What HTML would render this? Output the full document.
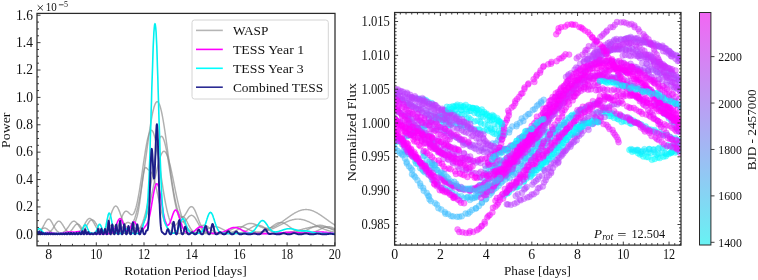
<!DOCTYPE html>
<html><head><meta charset="utf-8"><style>
html,body{margin:0;padding:0;background:#fff;}
svg{display:block;font-family:"Liberation Serif",serif;}
svg text{opacity:0.999;}
</style></head><body>
<svg width="758" height="280" viewBox="0 0 758 280">
<rect width="100%" height="100%" fill="#fff"/>
<defs>
<clipPath id="cl"><rect x="37.0" y="13.4" width="298.0" height="232.4"/></clipPath>
<clipPath id="cr"><rect x="394.6" y="12.5" width="286.4" height="232.6"/></clipPath>
<linearGradient id="cg" x1="0" y1="1" x2="0" y2="0">
<stop offset="0" stop-color="rgb(104,242,243)"/><stop offset="1" stop-color="rgb(242,102,243)"/>
</linearGradient>
</defs>
<g clip-path="url(#cl)" stroke-linejoin="round"><path d="M36.0 233.2L36.5 233.1L37.0 233.0L37.5 232.8L38.0 232.6L38.5 232.3L39.0 232.0L39.5 231.6L40.0 231.2L40.5 230.6L41.0 230.0L41.5 229.3L42.0 228.6L42.5 227.7L43.0 226.9L43.5 225.9L44.0 225.0L44.5 224.0L45.0 223.0L45.5 222.1L46.0 221.3L46.5 220.6L47.0 220.0L47.5 219.5L48.0 219.2L48.5 219.1L49.0 219.2L49.5 219.4L50.0 219.8L50.5 220.3L51.0 221.0L51.5 221.8L52.0 222.7L52.5 223.6L53.0 224.6L53.5 225.5L54.0 226.5L54.5 227.4L55.0 228.3L55.5 229.0L56.0 229.8L56.5 230.4L57.0 231.0L57.5 231.4L58.0 231.9L58.5 232.2L59.0 232.5L59.5 232.7L60.0 232.9L60.5 233.0L61.0 233.2L61.5 233.2L62.0 233.3L62.5 233.4L63.0 233.4L63.5 233.4L64.0 233.4L64.5 233.5L65.0 233.5L65.5 233.5L66.0 233.5L66.5 233.5L67.0 233.5L67.5 233.5L68.0 233.5L68.5 233.5L69.0 233.5L69.5 233.5L70.0 233.5L70.5 233.5L71.0 233.5L71.5 233.5L72.0 233.4L72.5 233.4L73.0 233.4L73.5 233.4L74.0 233.4L74.5 233.3L75.0 233.3L75.5 233.2L76.0 233.1L76.5 233.0L77.0 232.8L77.5 232.7L78.0 232.5L78.5 232.2L79.0 231.9L79.5 231.5L80.0 231.1L80.5 230.6L81.0 230.0L81.5 229.4L82.0 228.7L82.5 228.0L83.0 227.2L83.5 226.3L84.0 225.4L84.5 224.5L85.0 223.6L85.5 222.7L86.0 221.9L86.5 221.1L87.0 220.3L87.5 219.7L88.0 219.2L88.5 218.8L89.0 218.5L89.5 218.4L90.0 218.5L90.5 218.7L91.0 219.0L91.5 219.5L92.0 220.1L92.5 220.7L93.0 221.5L93.5 222.4L94.0 223.2L94.5 224.1L95.0 225.1L95.5 225.9L96.0 226.8L96.5 227.6L97.0 228.4L97.5 229.0L98.0 229.7L98.5 230.2L99.0 230.6L99.5 231.0L100.0 231.3L100.5 231.5L101.0 231.6L101.5 231.6L102.0 231.6L102.5 231.4L103.0 231.2L103.5 230.8L104.0 230.4L104.5 229.9L105.0 229.2L105.5 228.5L106.0 227.6L106.5 226.7L107.0 225.6L107.5 224.4L108.0 223.2L108.5 221.8L109.0 220.4L109.5 219.0L110.0 217.5L110.5 216.0L111.0 214.5L111.5 213.0L112.0 211.6L112.5 210.3L113.0 209.2L113.5 208.2L114.0 207.3L114.5 206.7L115.0 206.3L115.5 206.0L116.0 206.0L116.5 206.3L117.0 206.7L117.5 207.4L118.0 208.2L118.5 209.2L119.0 210.4L119.5 211.6L120.0 213.0L120.5 214.4L121.0 215.8L121.5 217.2L122.0 218.6L122.5 220.0L123.0 221.3L123.5 222.4L124.0 223.5L124.5 224.5L125.0 225.4L125.5 226.1L126.0 226.7L126.5 227.2L127.0 227.5L127.5 227.7L128.0 227.8L128.5 227.8L129.0 227.6L129.5 227.4L130.0 227.0L130.5 226.5L131.0 226.0L131.5 225.3L132.0 224.5L132.5 223.6L133.0 222.6L133.5 221.5L134.0 220.2L134.5 218.9L135.0 217.5L135.5 215.9L136.0 214.2L136.5 212.5L137.0 210.5L137.5 208.5L138.0 206.3L138.5 204.0L139.0 201.6L139.5 199.1L140.0 196.4L140.5 193.6L141.0 190.7L141.5 187.6L142.0 184.5L142.5 181.3L143.0 177.9L143.5 174.5L144.0 171.0L144.5 167.4L145.0 163.8L145.5 160.2L146.0 156.5L146.5 152.8L147.0 149.1L147.5 145.4L148.0 141.8L148.5 138.2L149.0 134.7L149.5 131.2L150.0 127.9L150.5 124.7L151.0 121.7L151.5 118.8L152.0 116.1L152.5 113.6L153.0 111.2L153.5 109.2L154.0 107.3L154.5 105.7L155.0 104.4L155.5 103.3L156.0 102.5L156.5 101.9L157.0 101.7L157.5 101.7L158.0 102.0L158.5 102.6L159.0 103.5L159.5 104.6L160.0 106.0L160.5 107.7L161.0 109.6L161.5 111.7L162.0 114.0L162.5 116.6L163.0 119.3L163.5 122.3L164.0 125.3L164.5 128.6L165.0 131.9L165.5 135.4L166.0 138.9L166.5 142.5L167.0 146.1L167.5 149.8L168.0 153.5L168.5 157.2L169.0 160.9L169.5 164.5L170.0 168.1L170.5 171.7L171.0 175.1L171.5 178.5L172.0 181.8L172.5 185.0L173.0 188.1L173.5 191.0L174.0 193.8L174.5 196.5L175.0 199.1L175.5 201.5L176.0 203.7L176.5 205.8L177.0 207.7L177.5 209.4L178.0 211.0L178.5 212.4L179.0 213.6L179.5 214.7L180.0 215.5L180.5 216.2L181.0 216.7L181.5 217.0L182.0 217.2L182.5 217.2L183.0 217.0L183.5 216.7L184.0 216.2L184.5 215.7L185.0 215.0L185.5 214.2L186.0 213.4L186.5 212.5L187.0 211.7L187.5 210.8L188.0 209.9L188.5 209.1L189.0 208.4L189.5 207.8L190.0 207.3L190.5 206.9L191.0 206.7L191.5 206.6L192.0 206.7L192.5 207.0L193.0 207.4L193.5 208.0L194.0 208.8L194.5 209.6L195.0 210.6L195.5 211.7L196.0 212.9L196.5 214.2L197.0 215.5L197.5 216.8L198.0 218.1L198.5 219.4L199.0 220.7L199.5 222.0L200.0 223.2L200.5 224.3L201.0 225.4L201.5 226.4L202.0 227.3L202.5 228.2L203.0 228.9L203.5 229.6L204.0 230.2L204.5 230.7L205.0 231.2L205.5 231.6L206.0 231.9L206.5 232.2L207.0 232.4L207.5 232.6L208.0 232.8L208.5 232.9L209.0 233.0L209.5 233.1L210.0 233.2L210.5 233.3L211.0 233.3L211.5 233.4L212.0 233.4L212.5 233.4L213.0 233.4L213.5 233.4L214.0 233.4L214.5 233.5L215.0 233.5L215.5 233.5L216.0 233.5L216.5 233.5L217.0 233.5L217.5 233.5L218.0 233.5L218.5 233.5L219.0 233.5L219.5 233.4L220.0 233.4L220.5 233.4L221.0 233.4L221.5 233.4L222.0 233.4L222.5 233.4L223.0 233.4L223.5 233.3L224.0 233.3L224.5 233.3L225.0 233.3L225.5 233.2L226.0 233.2L226.5 233.2L227.0 233.1L227.5 233.0L228.0 233.0L228.5 232.9L229.0 232.8L229.5 232.7L230.0 232.6L230.5 232.5L231.0 232.4L231.5 232.3L232.0 232.2L232.5 232.0L233.0 231.8L233.5 231.7L234.0 231.5L234.5 231.3L235.0 231.0L235.5 230.8L236.0 230.6L236.5 230.3L237.0 230.0L237.5 229.8L238.0 229.5L238.5 229.2L239.0 228.9L239.5 228.5L240.0 228.2L240.5 227.9L241.0 227.5L241.5 227.2L242.0 226.9L242.5 226.6L243.0 226.2L243.5 225.9L244.0 225.6L244.5 225.3L245.0 225.0L245.5 224.8L246.0 224.5L246.5 224.3L247.0 224.1L247.5 223.9L248.0 223.8L248.5 223.6L249.0 223.5L249.5 223.5L250.0 223.4L250.5 223.4L251.0 223.4L251.5 223.4L252.0 223.5L252.5 223.6L253.0 223.7L253.5 223.8L254.0 224.0L254.5 224.2L255.0 224.3L255.5 224.5L256.0 224.8L256.5 225.0L257.0 225.2L257.5 225.4L258.0 225.7L258.5 225.9L259.0 226.2L259.5 226.4L260.0 226.6L260.5 226.8L261.0 227.0L261.5 227.2L262.0 227.4L262.5 227.6L263.0 227.7L263.5 227.9L264.0 228.0L264.5 228.1L265.0 228.2L265.5 228.2L266.0 228.3L266.5 228.3L267.0 228.3L267.5 228.3L268.0 228.2L268.5 228.2L269.0 228.1L269.5 228.0L270.0 227.9L270.5 227.8L271.0 227.7L271.5 227.5L272.0 227.3L272.5 227.2L273.0 227.0L273.5 226.8L274.0 226.5L274.5 226.3L275.0 226.1L275.5 225.8L276.0 225.6L276.5 225.3L277.0 225.0L277.5 224.7L278.0 224.4L278.5 224.1L279.0 223.8L279.5 223.5L280.0 223.2L280.5 222.8L281.0 222.5L281.5 222.1L282.0 221.8L282.5 221.5L283.0 221.1L283.5 220.7L284.0 220.4L284.5 220.0L285.0 219.7L285.5 219.3L286.0 218.9L286.5 218.6L287.0 218.2L287.5 217.9L288.0 217.5L288.5 217.1L289.0 216.8L289.5 216.4L290.0 216.1L290.5 215.7L291.0 215.4L291.5 215.1L292.0 214.7L292.5 214.4L293.0 214.1L293.5 213.8L294.0 213.5L294.5 213.2L295.0 212.9L295.5 212.6L296.0 212.3L296.5 212.1L297.0 211.8L297.5 211.6L298.0 211.4L298.5 211.1L299.0 210.9L299.5 210.8L300.0 210.6L300.5 210.4L301.0 210.3L301.5 210.1L302.0 210.0L302.5 209.9L303.0 209.8L303.5 209.7L304.0 209.6L304.5 209.6L305.0 209.6L305.5 209.5L306.0 209.5L306.5 209.5L307.0 209.6L307.5 209.6L308.0 209.6L308.5 209.7L309.0 209.8L309.5 209.9L310.0 210.0L310.5 210.1L311.0 210.3L311.5 210.4L312.0 210.6L312.5 210.8L313.0 210.9L313.5 211.1L314.0 211.4L314.5 211.6L315.0 211.8L315.5 212.1L316.0 212.3L316.5 212.6L317.0 212.9L317.5 213.2L318.0 213.5L318.5 213.8L319.0 214.1L319.5 214.4L320.0 214.7L320.5 215.1L321.0 215.4L321.5 215.7L322.0 216.1L322.5 216.4L323.0 216.8L323.5 217.1L324.0 217.5L324.5 217.9L325.0 218.2L325.5 218.6L326.0 218.9L326.5 219.3L327.0 219.7L327.5 220.0L328.0 220.4L328.5 220.8L329.0 221.1L329.5 221.5L330.0 221.8L330.5 222.2L331.0 222.5L331.5 222.9L332.0 223.2L332.5 223.5L333.0 223.8L333.5 224.2L334.0 224.5L334.5 224.8L335.0 225.1L335.5 225.4" stroke="#8f8f8f" stroke-opacity="0.7" stroke-width="1.45" fill="none"/>
<path d="M36.0 233.5L36.5 233.5L37.0 233.5L37.5 233.5L38.0 233.5L38.5 233.5L39.0 233.5L39.5 233.5L40.0 233.5L40.5 233.5L41.0 233.5L41.5 233.5L42.0 233.5L42.5 233.5L43.0 233.5L43.5 233.4L44.0 233.4L44.5 233.4L45.0 233.4L45.5 233.3L46.0 233.3L46.5 233.2L47.0 233.1L47.5 233.0L48.0 232.8L48.5 232.6L49.0 232.4L49.5 232.1L50.0 231.7L50.5 231.3L51.0 230.8L51.5 230.3L52.0 229.7L52.5 229.0L53.0 228.3L53.5 227.5L54.0 226.7L54.5 225.8L55.0 225.0L55.5 224.2L56.0 223.5L56.5 222.8L57.0 222.2L57.5 221.7L58.0 221.4L58.5 221.2L59.0 221.2L59.5 221.3L60.0 221.5L60.5 221.9L61.0 222.4L61.5 223.1L62.0 223.8L62.5 224.5L63.0 225.3L63.5 226.2L64.0 227.0L64.5 227.8L65.0 228.6L65.5 229.3L66.0 229.9L66.5 230.5L67.0 231.0L67.5 231.5L68.0 231.9L68.5 232.2L69.0 232.5L69.5 232.7L70.0 232.9L70.5 233.0L71.0 233.1L71.5 233.2L72.0 233.3L72.5 233.4L73.0 233.4L73.5 233.4L74.0 233.4L74.5 233.4L75.0 233.5L75.5 233.5L76.0 233.5L76.5 233.5L77.0 233.5L77.5 233.5L78.0 233.5L78.5 233.5L79.0 233.5L79.5 233.5L80.0 233.5L80.5 233.5L81.0 233.5L81.5 233.5L82.0 233.5L82.5 233.5L83.0 233.5L83.5 233.5L84.0 233.5L84.5 233.5L85.0 233.5L85.5 233.5L86.0 233.5L86.5 233.5L87.0 233.5L87.5 233.5L88.0 233.5L88.5 233.5L89.0 233.5L89.5 233.5L90.0 233.5L90.5 233.5L91.0 233.5L91.5 233.5L92.0 233.5L92.5 233.5L93.0 233.5L93.5 233.5L94.0 233.5L94.5 233.5L95.0 233.5L95.5 233.5L96.0 233.5L96.5 233.5L97.0 233.5L97.5 233.5L98.0 233.5L98.5 233.5L99.0 233.5L99.5 233.5L100.0 233.5L100.5 233.5L101.0 233.5L101.5 233.5L102.0 233.5L102.5 233.5L103.0 233.5L103.5 233.5L104.0 233.5L104.5 233.5L105.0 233.5L105.5 233.5L106.0 233.5L106.5 233.5L107.0 233.5L107.5 233.4L108.0 233.4L108.5 233.4L109.0 233.4L109.5 233.3L110.0 233.3L110.5 233.2L111.0 233.1L111.5 233.0L112.0 232.9L112.5 232.7L113.0 232.5L113.5 232.3L114.0 231.9L114.5 231.5L115.0 231.1L115.5 230.6L116.0 229.9L116.5 229.2L117.0 228.4L117.5 227.5L118.0 226.5L118.5 225.4L119.0 224.3L119.5 223.0L120.0 221.8L120.5 220.5L121.0 219.2L121.5 217.9L122.0 216.7L122.5 215.5L123.0 214.5L123.5 213.5L124.0 212.7L124.5 212.1L125.0 211.6L125.5 211.3L126.0 211.2L126.5 211.2L127.0 211.4L127.5 211.6L128.0 212.0L128.5 212.5L129.0 213.0L129.5 213.5L130.0 213.9L130.5 214.3L131.0 214.6L131.5 214.8L132.0 214.8L132.5 214.6L133.0 214.2L133.5 213.7L134.0 212.9L134.5 211.9L135.0 210.6L135.5 209.1L136.0 207.4L136.5 205.5L137.0 203.4L137.5 201.1L138.0 198.5L138.5 195.9L139.0 193.0L139.5 190.0L140.0 186.9L140.5 183.7L141.0 180.4L141.5 177.0L142.0 173.6L142.5 170.1L143.0 166.7L143.5 163.2L144.0 159.8L144.5 156.5L145.0 153.3L145.5 150.2L146.0 147.3L146.5 144.5L147.0 141.9L147.5 139.5L148.0 137.4L148.5 135.5L149.0 133.9L149.5 132.5L150.0 131.5L150.5 130.8L151.0 130.4L151.5 130.3L152.0 130.5L152.5 131.0L153.0 131.9L153.5 133.0L154.0 134.5L154.5 136.2L155.0 138.2L155.5 140.4L156.0 142.9L156.5 145.6L157.0 148.4L157.5 151.4L158.0 154.6L158.5 157.9L159.0 161.2L159.5 164.6L160.0 168.1L160.5 171.6L161.0 175.0L161.5 178.5L162.0 181.9L162.5 185.2L163.0 188.5L163.5 191.7L164.0 194.7L164.5 197.7L165.0 200.5L165.5 203.2L166.0 205.7L166.5 208.1L167.0 210.4L167.5 212.5L168.0 214.4L168.5 216.2L169.0 217.9L169.5 219.4L170.0 220.7L170.5 221.9L171.0 222.9L171.5 223.7L172.0 224.4L172.5 225.0L173.0 225.4L173.5 225.6L174.0 225.7L174.5 225.6L175.0 225.4L175.5 225.1L176.0 224.7L176.5 224.1L177.0 223.5L177.5 222.8L178.0 222.0L178.5 221.2L179.0 220.4L179.5 219.7L180.0 218.9L180.5 218.3L181.0 217.7L181.5 217.3L182.0 217.0L182.5 216.8L183.0 216.8L183.5 217.0L184.0 217.3L184.5 217.8L185.0 218.3L185.5 219.0L186.0 219.9L186.5 220.8L187.0 221.7L187.5 222.7L188.0 223.7L188.5 224.7L189.0 225.7L189.5 226.6L190.0 227.5L190.5 228.3L191.0 229.0L191.5 229.7L192.0 230.3L192.5 230.9L193.0 231.3L193.5 231.7L194.0 232.1L194.5 232.4L195.0 232.6L195.5 232.8L196.0 232.9L196.5 233.1L197.0 233.2L197.5 233.2L198.0 233.3L198.5 233.4L199.0 233.4L199.5 233.4L200.0 233.4L200.5 233.4L201.0 233.5L201.5 233.5L202.0 233.5L202.5 233.5L203.0 233.5L203.5 233.5L204.0 233.5L204.5 233.5L205.0 233.5L205.5 233.5L206.0 233.5L206.5 233.5L207.0 233.5L207.5 233.5L208.0 233.5L208.5 233.5L209.0 233.5L209.5 233.5L210.0 233.5L210.5 233.5L211.0 233.5L211.5 233.5L212.0 233.5L212.5 233.5L213.0 233.5L213.5 233.5L214.0 233.4L214.5 233.4L215.0 233.4L215.5 233.4L216.0 233.4L216.5 233.4L217.0 233.4L217.5 233.3L218.0 233.3L218.5 233.3L219.0 233.3L219.5 233.2L220.0 233.2L220.5 233.1L221.0 233.1L221.5 233.0L222.0 232.9L222.5 232.9L223.0 232.8L223.5 232.7L224.0 232.6L224.5 232.4L225.0 232.3L225.5 232.2L226.0 232.0L226.5 231.8L227.0 231.6L227.5 231.5L228.0 231.3L228.5 231.0L229.0 230.8L229.5 230.6L230.0 230.3L230.5 230.1L231.0 229.8L231.5 229.6L232.0 229.3L232.5 229.1L233.0 228.8L233.5 228.5L234.0 228.3L234.5 228.1L235.0 227.8L235.5 227.6L236.0 227.4L236.5 227.2L237.0 227.1L237.5 226.9L238.0 226.8L238.5 226.7L239.0 226.7L239.5 226.6L240.0 226.6L240.5 226.6L241.0 226.6L241.5 226.7L242.0 226.8L242.5 226.9L243.0 227.0L243.5 227.2L244.0 227.3L244.5 227.5L245.0 227.7L245.5 227.9L246.0 228.2L246.5 228.4L247.0 228.6L247.5 228.9L248.0 229.1L248.5 229.4L249.0 229.6L249.5 229.8L250.0 230.1L250.5 230.3L251.0 230.5L251.5 230.7L252.0 230.9L252.5 231.0L253.0 231.2L253.5 231.3L254.0 231.5L254.5 231.6L255.0 231.7L255.5 231.8L256.0 231.9L256.5 231.9L257.0 232.0L257.5 232.0L258.0 232.0L258.5 232.0L259.0 232.0L259.5 232.0L260.0 232.0L260.5 231.9L261.0 231.9L261.5 231.8L262.0 231.8L262.5 231.7L263.0 231.6L263.5 231.5L264.0 231.4L264.5 231.3L265.0 231.2L265.5 231.1L266.0 230.9L266.5 230.8L267.0 230.7L267.5 230.5L268.0 230.4L268.5 230.2L269.0 230.0L269.5 229.9L270.0 229.7L270.5 229.5L271.0 229.3L271.5 229.1L272.0 228.9L272.5 228.7L273.0 228.5L273.5 228.3L274.0 228.1L274.5 227.9L275.0 227.6L275.5 227.4L276.0 227.2L276.5 226.9L277.0 226.7L277.5 226.4L278.0 226.2L278.5 225.9L279.0 225.7L279.5 225.4L280.0 225.2L280.5 224.9L281.0 224.7L281.5 224.4L282.0 224.1L282.5 223.9L283.0 223.6L283.5 223.4L284.0 223.1L284.5 222.9L285.0 222.7L285.5 222.4L286.0 222.2L286.5 222.0L287.0 221.7L287.5 221.5L288.0 221.3L288.5 221.1L289.0 220.9L289.5 220.7L290.0 220.5L290.5 220.4L291.0 220.2L291.5 220.1L292.0 219.9L292.5 219.8L293.0 219.7L293.5 219.6L294.0 219.5L294.5 219.4L295.0 219.3L295.5 219.2L296.0 219.2L296.5 219.1L297.0 219.1L297.5 219.1L298.0 219.1L298.5 219.1L299.0 219.1L299.5 219.2L300.0 219.2L300.5 219.3L301.0 219.4L301.5 219.4L302.0 219.5L302.5 219.6L303.0 219.8L303.5 219.9L304.0 220.0L304.5 220.2L305.0 220.3L305.5 220.5L306.0 220.7L306.5 220.9L307.0 221.1L307.5 221.3L308.0 221.5L308.5 221.7L309.0 221.9L309.5 222.1L310.0 222.4L310.5 222.6L311.0 222.8L311.5 223.1L312.0 223.3L312.5 223.6L313.0 223.8L313.5 224.1L314.0 224.4L314.5 224.6L315.0 224.9L315.5 225.1L316.0 225.4L316.5 225.6L317.0 225.9L317.5 226.1L318.0 226.4L318.5 226.6L319.0 226.9L319.5 227.1L320.0 227.4L320.5 227.6L321.0 227.8L321.5 228.0L322.0 228.3L322.5 228.5L323.0 228.7L323.5 228.9L324.0 229.1L324.5 229.3L325.0 229.5L325.5 229.7L326.0 229.8L326.5 230.0L327.0 230.2L327.5 230.4L328.0 230.5L328.5 230.7L329.0 230.8L329.5 231.0L330.0 231.1L330.5 231.2L331.0 231.3L331.5 231.5L332.0 231.6L332.5 231.7L333.0 231.8L333.5 231.9L334.0 232.0L334.5 232.1L335.0 232.2L335.5 232.2" stroke="#8f8f8f" stroke-opacity="0.7" stroke-width="1.45" fill="none"/>
<path d="M36.0 233.5L36.5 233.5L37.0 233.5L37.5 233.5L38.0 233.5L38.5 233.5L39.0 233.5L39.5 233.5L40.0 233.5L40.5 233.5L41.0 233.5L41.5 233.5L42.0 233.5L42.5 233.5L43.0 233.5L43.5 233.5L44.0 233.5L44.5 233.5L45.0 233.5L45.5 233.5L46.0 233.5L46.5 233.5L47.0 233.5L47.5 233.5L48.0 233.5L48.5 233.5L49.0 233.5L49.5 233.5L50.0 233.5L50.5 233.5L51.0 233.5L51.5 233.5L52.0 233.5L52.5 233.5L53.0 233.5L53.5 233.5L54.0 233.5L54.5 233.5L55.0 233.5L55.5 233.5L56.0 233.5L56.5 233.4L57.0 233.4L57.5 233.4L58.0 233.4L58.5 233.4L59.0 233.3L59.5 233.3L60.0 233.2L60.5 233.1L61.0 233.0L61.5 232.9L62.0 232.8L62.5 232.6L63.0 232.3L63.5 232.1L64.0 231.7L64.5 231.4L65.0 231.0L65.5 230.5L66.0 229.9L66.5 229.4L67.0 228.7L67.5 228.0L68.0 227.3L68.5 226.6L69.0 225.9L69.5 225.1L70.0 224.4L70.5 223.7L71.0 223.1L71.5 222.5L72.0 222.0L72.5 221.6L73.0 221.4L73.5 221.2L74.0 221.2L74.5 221.2L75.0 221.5L75.5 221.8L76.0 222.2L76.5 222.7L77.0 223.3L77.5 224.0L78.0 224.7L78.5 225.4L79.0 226.2L79.5 226.9L80.0 227.6L80.5 228.3L81.0 229.0L81.5 229.6L82.0 230.2L82.5 230.7L83.0 231.1L83.5 231.5L84.0 231.9L84.5 232.2L85.0 232.4L85.5 232.6L86.0 232.8L86.5 233.0L87.0 233.1L87.5 233.2L88.0 233.2L88.5 233.3L89.0 233.3L89.5 233.4L90.0 233.4L90.5 233.4L91.0 233.4L91.5 233.5L92.0 233.5L92.5 233.5L93.0 233.5L93.5 233.5L94.0 233.5L94.5 233.5L95.0 233.5L95.5 233.4L96.0 233.4L96.5 233.4L97.0 233.4L97.5 233.4L98.0 233.3L98.5 233.3L99.0 233.2L99.5 233.1L100.0 233.0L100.5 232.9L101.0 232.7L101.5 232.6L102.0 232.4L102.5 232.1L103.0 231.9L103.5 231.5L104.0 231.2L104.5 230.8L105.0 230.4L105.5 230.0L106.0 229.5L106.5 229.0L107.0 228.5L107.5 228.0L108.0 227.5L108.5 227.0L109.0 226.6L109.5 226.2L110.0 225.9L110.5 225.6L111.0 225.4L111.5 225.3L112.0 225.3L112.5 225.3L113.0 225.4L113.5 225.6L114.0 225.9L114.5 226.2L115.0 226.6L115.5 227.0L116.0 227.5L116.5 228.0L117.0 228.5L117.5 229.0L118.0 229.5L118.5 229.9L119.0 230.4L119.5 230.8L120.0 231.2L120.5 231.5L121.0 231.8L121.5 232.1L122.0 232.4L122.5 232.6L123.0 232.7L123.5 232.9L124.0 233.0L124.5 233.1L125.0 233.2L125.5 233.2L126.0 233.3L126.5 233.3L127.0 233.3L127.5 233.3L128.0 233.3L128.5 233.3L129.0 233.3L129.5 233.3L130.0 233.2L130.5 233.2L131.0 233.1L131.5 233.1L132.0 233.0L132.5 232.9L133.0 232.8L133.5 232.7L134.0 232.5L134.5 232.4L135.0 232.2L135.5 231.9L136.0 231.7L136.5 231.4L137.0 231.0L137.5 230.6L138.0 230.2L138.5 229.7L139.0 229.1L139.5 228.4L140.0 227.7L140.5 226.9L141.0 226.0L141.5 225.0L142.0 224.0L142.5 222.8L143.0 221.5L143.5 220.0L144.0 218.5L144.5 216.8L145.0 215.0L145.5 213.1L146.0 211.0L146.5 208.8L147.0 206.5L147.5 204.0L148.0 201.4L148.5 198.7L149.0 195.9L149.5 192.9L150.0 189.9L150.5 186.8L151.0 183.6L151.5 180.4L152.0 177.1L152.5 173.9L153.0 170.6L153.5 167.4L154.0 164.2L154.5 161.0L155.0 158.0L155.5 155.1L156.0 152.3L156.5 149.7L157.0 147.2L157.5 145.0L158.0 143.0L158.5 141.2L159.0 139.7L159.5 138.4L160.0 137.4L160.5 136.8L161.0 136.4L161.5 136.3L162.0 136.5L162.5 137.0L163.0 137.8L163.5 138.9L164.0 140.3L164.5 141.9L165.0 143.8L165.5 145.9L166.0 148.2L166.5 150.7L167.0 153.4L167.5 156.2L168.0 159.2L168.5 162.3L169.0 165.4L169.5 168.6L170.0 171.9L170.5 175.1L171.0 178.4L171.5 181.6L172.0 184.8L172.5 187.9L173.0 191.0L173.5 193.9L174.0 196.8L174.5 199.5L175.0 202.1L175.5 204.5L176.0 206.8L176.5 209.0L177.0 211.0L177.5 212.8L178.0 214.5L178.5 216.0L179.0 217.3L179.5 218.4L180.0 219.4L180.5 220.2L181.0 220.9L181.5 221.4L182.0 221.7L182.5 221.9L183.0 222.0L183.5 221.9L184.0 221.7L184.5 221.4L185.0 221.0L185.5 220.5L186.0 220.0L186.5 219.4L187.0 218.9L187.5 218.3L188.0 217.7L188.5 217.1L189.0 216.6L189.5 216.2L190.0 215.8L190.5 215.6L191.0 215.4L191.5 215.3L192.0 215.4L192.5 215.6L193.0 215.8L193.5 216.2L194.0 216.7L194.5 217.3L195.0 217.9L195.5 218.7L196.0 219.5L196.5 220.3L197.0 221.2L197.5 222.1L198.0 223.0L198.5 223.9L199.0 224.8L199.5 225.7L200.0 226.5L200.5 227.3L201.0 228.0L201.5 228.7L202.0 229.3L202.5 229.8L203.0 230.4L203.5 230.8L204.0 231.2L204.5 231.6L205.0 231.9L205.5 232.2L206.0 232.4L206.5 232.6L207.0 232.8L207.5 232.9L208.0 233.0L208.5 233.1L209.0 233.2L209.5 233.2L210.0 233.3L210.5 233.3L211.0 233.4L211.5 233.4L212.0 233.4L212.5 233.4L213.0 233.4L213.5 233.5L214.0 233.5L214.5 233.5L215.0 233.5L215.5 233.5L216.0 233.5L216.5 233.5L217.0 233.5L217.5 233.5L218.0 233.5L218.5 233.5L219.0 233.5L219.5 233.5L220.0 233.5L220.5 233.5L221.0 233.5L221.5 233.5L222.0 233.5L222.5 233.5L223.0 233.5L223.5 233.5L224.0 233.5L224.5 233.5L225.0 233.5L225.5 233.5L226.0 233.5L226.5 233.5L227.0 233.5L227.5 233.5L228.0 233.5L228.5 233.5L229.0 233.5L229.5 233.5L230.0 233.5L230.5 233.5L231.0 233.5L231.5 233.4L232.0 233.4L232.5 233.4L233.0 233.4L233.5 233.4L234.0 233.4L234.5 233.4L235.0 233.3L235.5 233.3L236.0 233.3L236.5 233.3L237.0 233.2L237.5 233.2L238.0 233.1L238.5 233.1L239.0 233.0L239.5 232.9L240.0 232.8L240.5 232.7L241.0 232.6L241.5 232.5L242.0 232.4L242.5 232.2L243.0 232.1L243.5 231.9L244.0 231.7L244.5 231.5L245.0 231.3L245.5 231.1L246.0 230.8L246.5 230.6L247.0 230.3L247.5 230.0L248.0 229.7L248.5 229.4L249.0 229.1L249.5 228.8L250.0 228.5L250.5 228.2L251.0 227.9L251.5 227.6L252.0 227.3L252.5 227.0L253.0 226.7L253.5 226.5L254.0 226.2L254.5 226.0L255.0 225.8L255.5 225.7L256.0 225.5L256.5 225.4L257.0 225.3L257.5 225.3L258.0 225.3L258.5 225.3L259.0 225.3L259.5 225.4L260.0 225.5L260.5 225.6L261.0 225.8L261.5 226.0L262.0 226.2L262.5 226.4L263.0 226.7L263.5 227.0L264.0 227.3L264.5 227.5L265.0 227.8L265.5 228.2L266.0 228.5L266.5 228.8L267.0 229.1L267.5 229.4L268.0 229.7L268.5 230.0L269.0 230.2L269.5 230.5L270.0 230.7L270.5 231.0L271.0 231.2L271.5 231.4L272.0 231.6L272.5 231.8L273.0 231.9L273.5 232.1L274.0 232.2L274.5 232.3L275.0 232.4L275.5 232.5L276.0 232.6L276.5 232.7L277.0 232.7L277.5 232.8L278.0 232.8L278.5 232.8L279.0 232.9L279.5 232.9L280.0 232.9L280.5 232.9L281.0 232.9L281.5 232.9L282.0 232.8L282.5 232.8L283.0 232.8L283.5 232.8L284.0 232.7L284.5 232.7L285.0 232.6L285.5 232.6L286.0 232.5L286.5 232.5L287.0 232.4L287.5 232.4L288.0 232.3L288.5 232.2L289.0 232.1L289.5 232.1L290.0 232.0L290.5 231.9L291.0 231.8L291.5 231.7L292.0 231.6L292.5 231.6L293.0 231.5L293.5 231.4L294.0 231.3L294.5 231.2L295.0 231.0L295.5 230.9L296.0 230.8L296.5 230.7L297.0 230.6L297.5 230.5L298.0 230.3L298.5 230.2L299.0 230.1L299.5 230.0L300.0 229.8L300.5 229.7L301.0 229.6L301.5 229.5L302.0 229.3L302.5 229.2L303.0 229.1L303.5 228.9L304.0 228.8L304.5 228.7L305.0 228.6L305.5 228.4L306.0 228.3L306.5 228.2L307.0 228.1L307.5 228.0L308.0 227.8L308.5 227.7L309.0 227.6L309.5 227.5L310.0 227.4L310.5 227.3L311.0 227.3L311.5 227.2L312.0 227.1L312.5 227.0L313.0 227.0L313.5 226.9L314.0 226.8L314.5 226.8L315.0 226.8L315.5 226.7L316.0 226.7L316.5 226.7L317.0 226.6L317.5 226.6L318.0 226.6L318.5 226.6L319.0 226.6L319.5 226.7L320.0 226.7L320.5 226.7L321.0 226.8L321.5 226.8L322.0 226.8L322.5 226.9L323.0 227.0L323.5 227.0L324.0 227.1L324.5 227.2L325.0 227.3L325.5 227.3L326.0 227.4L326.5 227.5L327.0 227.6L327.5 227.7L328.0 227.8L328.5 228.0L329.0 228.1L329.5 228.2L330.0 228.3L330.5 228.4L331.0 228.6L331.5 228.7L332.0 228.8L332.5 228.9L333.0 229.1L333.5 229.2L334.0 229.3L334.5 229.5L335.0 229.6L335.5 229.7" stroke="#8f8f8f" stroke-opacity="0.7" stroke-width="1.45" fill="none"/>
<path d="M36.0 233.5L36.5 233.5L37.0 233.5L37.5 233.5L38.0 233.5L38.5 233.5L39.0 233.5L39.5 233.5L40.0 233.5L40.5 233.5L41.0 233.5L41.5 233.5L42.0 233.5L42.5 233.5L43.0 233.5L43.5 233.5L44.0 233.5L44.5 233.5L45.0 233.5L45.5 233.5L46.0 233.5L46.5 233.5L47.0 233.5L47.5 233.5L48.0 233.5L48.5 233.5L49.0 233.5L49.5 233.5L50.0 233.5L50.5 233.5L51.0 233.5L51.5 233.5L52.0 233.5L52.5 233.5L53.0 233.5L53.5 233.5L54.0 233.5L54.5 233.5L55.0 233.5L55.5 233.5L56.0 233.5L56.5 233.5L57.0 233.5L57.5 233.5L58.0 233.5L58.5 233.5L59.0 233.5L59.5 233.5L60.0 233.5L60.5 233.5L61.0 233.5L61.5 233.5L62.0 233.5L62.5 233.5L63.0 233.5L63.5 233.5L64.0 233.5L64.5 233.5L65.0 233.5L65.5 233.5L66.0 233.5L66.5 233.5L67.0 233.5L67.5 233.5L68.0 233.5L68.5 233.5L69.0 233.5L69.5 233.5L70.0 233.5L70.5 233.5L71.0 233.5L71.5 233.5L72.0 233.5L72.5 233.5L73.0 233.5L73.5 233.5L74.0 233.5L74.5 233.4L75.0 233.4L75.5 233.4L76.0 233.4L76.5 233.4L77.0 233.3L77.5 233.3L78.0 233.2L78.5 233.1L79.0 233.0L79.5 232.9L80.0 232.7L80.5 232.5L81.0 232.3L81.5 232.0L82.0 231.6L82.5 231.2L83.0 230.8L83.5 230.3L84.0 229.7L84.5 229.0L85.0 228.3L85.5 227.6L86.0 226.8L86.5 226.0L87.0 225.2L87.5 224.3L88.0 223.5L88.5 222.8L89.0 222.0L89.5 221.4L90.0 220.8L90.5 220.4L91.0 220.1L91.5 219.9L92.0 219.8L92.5 219.9L93.0 220.1L93.5 220.4L94.0 220.8L94.5 221.4L95.0 222.0L95.5 222.8L96.0 223.5L96.5 224.3L97.0 225.2L97.5 226.0L98.0 226.8L98.5 227.6L99.0 228.3L99.5 229.0L100.0 229.7L100.5 230.3L101.0 230.8L101.5 231.2L102.0 231.6L102.5 232.0L103.0 232.3L103.5 232.5L104.0 232.7L104.5 232.9L105.0 233.0L105.5 233.1L106.0 233.2L106.5 233.3L107.0 233.3L107.5 233.4L108.0 233.4L108.5 233.4L109.0 233.4L109.5 233.4L110.0 233.4L110.5 233.4L111.0 233.4L111.5 233.4L112.0 233.4L112.5 233.4L113.0 233.4L113.5 233.3L114.0 233.3L114.5 233.2L115.0 233.1L115.5 233.0L116.0 232.9L116.5 232.7L117.0 232.5L117.5 232.3L118.0 232.0L118.5 231.7L119.0 231.3L119.5 230.9L120.0 230.4L120.5 229.9L121.0 229.4L121.5 228.8L122.0 228.1L122.5 227.5L123.0 226.8L123.5 226.2L124.0 225.5L124.5 224.9L125.0 224.3L125.5 223.8L126.0 223.3L126.5 222.9L127.0 222.7L127.5 222.5L128.0 222.4L128.5 222.4L129.0 222.6L129.5 222.8L130.0 223.1L130.5 223.5L131.0 224.0L131.5 224.5L132.0 225.0L132.5 225.6L133.0 226.2L133.5 226.7L134.0 227.2L134.5 227.7L135.0 228.1L135.5 228.5L136.0 228.8L136.5 229.0L137.0 229.2L137.5 229.2L138.0 229.2L138.5 229.1L139.0 228.9L139.5 228.6L140.0 228.3L140.5 227.8L141.0 227.3L141.5 226.7L142.0 226.0L142.5 225.2L143.0 224.3L143.5 223.3L144.0 222.3L144.5 221.2L145.0 219.9L145.5 218.6L146.0 217.2L146.5 215.7L147.0 214.1L147.5 212.4L148.0 210.6L148.5 208.8L149.0 206.8L149.5 204.8L150.0 202.6L150.5 200.5L151.0 198.2L151.5 195.9L152.0 193.5L152.5 191.1L153.0 188.6L153.5 186.1L154.0 183.7L154.5 181.2L155.0 178.7L155.5 176.2L156.0 173.8L156.5 171.5L157.0 169.2L157.5 167.0L158.0 164.9L158.5 162.9L159.0 161.0L159.5 159.2L160.0 157.7L160.5 156.2L161.0 155.0L161.5 153.9L162.0 153.0L162.5 152.3L163.0 151.7L163.5 151.4L164.0 151.3L164.5 151.4L165.0 151.7L165.5 152.3L166.0 153.0L166.5 153.9L167.0 155.0L167.5 156.2L168.0 157.7L168.5 159.2L169.0 161.0L169.5 162.9L170.0 164.9L170.5 167.0L171.0 169.2L171.5 171.5L172.0 173.8L172.5 176.2L173.0 178.7L173.5 181.2L174.0 183.7L174.5 186.1L175.0 188.6L175.5 191.1L176.0 193.5L176.5 195.9L177.0 198.2L177.5 200.5L178.0 202.7L178.5 204.8L179.0 206.8L179.5 208.8L180.0 210.6L180.5 212.4L181.0 214.1L181.5 215.7L182.0 217.2L182.5 218.6L183.0 220.0L183.5 221.2L184.0 222.4L184.5 223.4L185.0 224.4L185.5 225.3L186.0 226.2L186.5 226.9L187.0 227.6L187.5 228.3L188.0 228.8L188.5 229.4L189.0 229.8L189.5 230.3L190.0 230.6L190.5 231.0L191.0 231.3L191.5 231.5L192.0 231.7L192.5 231.9L193.0 232.1L193.5 232.2L194.0 232.3L194.5 232.4L195.0 232.5L195.5 232.6L196.0 232.6L196.5 232.6L197.0 232.6L197.5 232.6L198.0 232.5L198.5 232.4L199.0 232.4L199.5 232.3L200.0 232.2L200.5 232.0L201.0 231.9L201.5 231.8L202.0 231.6L202.5 231.4L203.0 231.2L203.5 231.0L204.0 230.8L204.5 230.6L205.0 230.3L205.5 230.1L206.0 229.8L206.5 229.6L207.0 229.3L207.5 229.1L208.0 228.8L208.5 228.6L209.0 228.3L209.5 228.1L210.0 227.8L210.5 227.6L211.0 227.4L211.5 227.3L212.0 227.1L212.5 227.0L213.0 226.8L213.5 226.8L214.0 226.7L214.5 226.6L215.0 226.6L215.5 226.6L216.0 226.7L216.5 226.8L217.0 226.8L217.5 227.0L218.0 227.1L218.5 227.3L219.0 227.4L219.5 227.6L220.0 227.8L220.5 228.1L221.0 228.3L221.5 228.6L222.0 228.8L222.5 229.1L223.0 229.3L223.5 229.6L224.0 229.8L224.5 230.1L225.0 230.3L225.5 230.6L226.0 230.8L226.5 231.0L227.0 231.3L227.5 231.5L228.0 231.7L228.5 231.8L229.0 232.0L229.5 232.2L230.0 232.3L230.5 232.4L231.0 232.6L231.5 232.7L232.0 232.8L232.5 232.9L233.0 232.9L233.5 233.0L234.0 233.1L234.5 233.1L235.0 233.2L235.5 233.2L236.0 233.3L236.5 233.3L237.0 233.3L237.5 233.3L238.0 233.4L238.5 233.4L239.0 233.4L239.5 233.4L240.0 233.4L240.5 233.4L241.0 233.4L241.5 233.4L242.0 233.5L242.5 233.5L243.0 233.5L243.5 233.5L244.0 233.5L244.5 233.5L245.0 233.5L245.5 233.5L246.0 233.5L246.5 233.5L247.0 233.5L247.5 233.5L248.0 233.5L248.5 233.5L249.0 233.5L249.5 233.5L250.0 233.4L250.5 233.4L251.0 233.4L251.5 233.4L252.0 233.4L252.5 233.4L253.0 233.4L253.5 233.4L254.0 233.3L254.5 233.3L255.0 233.3L255.5 233.3L256.0 233.2L256.5 233.2L257.0 233.1L257.5 233.1L258.0 233.0L258.5 233.0L259.0 232.9L259.5 232.8L260.0 232.7L260.5 232.6L261.0 232.5L261.5 232.4L262.0 232.2L262.5 232.1L263.0 231.9L263.5 231.7L264.0 231.5L264.5 231.3L265.0 231.1L265.5 230.8L266.0 230.6L266.5 230.3L267.0 230.0L267.5 229.7L268.0 229.4L268.5 229.1L269.0 228.8L269.5 228.4L270.0 228.1L270.5 227.7L271.0 227.4L271.5 227.0L272.0 226.6L272.5 226.2L273.0 225.9L273.5 225.5L274.0 225.2L274.5 224.8L275.0 224.5L275.5 224.2L276.0 223.9L276.5 223.7L277.0 223.4L277.5 223.2L278.0 223.0L278.5 222.8L279.0 222.7L279.5 222.6L280.0 222.6L280.5 222.5L281.0 222.5L281.5 222.6L282.0 222.6L282.5 222.7L283.0 222.9L283.5 223.0L284.0 223.2L284.5 223.5L285.0 223.7L285.5 224.0L286.0 224.3L286.5 224.6L287.0 224.9L287.5 225.2L288.0 225.6L288.5 226.0L289.0 226.3L289.5 226.7L290.0 227.1L290.5 227.4L291.0 227.8L291.5 228.1L292.0 228.5L292.5 228.8L293.0 229.2L293.5 229.5L294.0 229.8L294.5 230.1L295.0 230.4L295.5 230.6L296.0 230.9L296.5 231.1L297.0 231.4L297.5 231.6L298.0 231.7L298.5 231.9L299.0 232.1L299.5 232.2L300.0 232.4L300.5 232.5L301.0 232.6L301.5 232.7L302.0 232.8L302.5 232.9L303.0 232.9L303.5 233.0L304.0 233.0L304.5 233.1L305.0 233.1L305.5 233.1L306.0 233.1L306.5 233.1L307.0 233.1L307.5 233.1L308.0 233.1L308.5 233.0L309.0 233.0L309.5 232.9L310.0 232.9L310.5 232.8L311.0 232.7L311.5 232.6L312.0 232.5L312.5 232.4L313.0 232.3L313.5 232.1L314.0 232.0L314.5 231.8L315.0 231.6L315.5 231.5L316.0 231.3L316.5 231.0L317.0 230.8L317.5 230.6L318.0 230.3L318.5 230.1L319.0 229.8L319.5 229.6L320.0 229.3L320.5 229.1L321.0 228.8L321.5 228.6L322.0 228.3L322.5 228.1L323.0 227.8L323.5 227.6L324.0 227.4L324.5 227.3L325.0 227.1L325.5 227.0L326.0 226.8L326.5 226.8L327.0 226.7L327.5 226.6L328.0 226.6L328.5 226.6L329.0 226.7L329.5 226.8L330.0 226.8L330.5 227.0L331.0 227.1L331.5 227.3L332.0 227.4L332.5 227.6L333.0 227.8L333.5 228.1L334.0 228.3L334.5 228.6L335.0 228.8L335.5 229.1" stroke="#8f8f8f" stroke-opacity="0.7" stroke-width="1.45" fill="none"/>
<path d="M36.0 232.9L36.5 232.8L37.0 232.6L37.5 232.3L38.0 232.1L38.5 231.8L39.0 231.4L39.5 231.0L40.0 230.7L40.5 230.2L41.0 229.8L41.5 229.4L42.0 229.0L42.5 228.7L43.0 228.4L43.5 228.2L44.0 228.1L44.5 228.0L45.0 228.0L45.5 228.1L46.0 228.3L46.5 228.6L47.0 228.9L47.5 229.3L48.0 229.7L48.5 230.1L49.0 230.5L49.5 230.9L50.0 231.3L50.5 231.6L51.0 232.0L51.5 232.2L52.0 232.5L52.5 232.7L53.0 232.9L53.5 233.0L54.0 233.1L54.5 233.2L55.0 233.3L55.5 233.3L56.0 233.4L56.5 233.4L57.0 233.4L57.5 233.4L58.0 233.5L58.5 233.5L59.0 233.5L59.5 233.5L60.0 233.5L60.5 233.5L61.0 233.5L61.5 233.5L62.0 233.5L62.5 233.5L63.0 233.5L63.5 233.5L64.0 233.4L64.5 233.4L65.0 233.4L65.5 233.4L66.0 233.3L66.5 233.2L67.0 233.2L67.5 233.0L68.0 232.9L68.5 232.7L69.0 232.4L69.5 232.1L70.0 231.7L70.5 231.3L71.0 230.8L71.5 230.2L72.0 229.6L72.5 229.0L73.0 228.2L73.5 227.5L74.0 226.8L74.5 226.1L75.0 225.5L75.5 224.9L76.0 224.5L76.5 224.1L77.0 223.9L77.5 223.9L78.0 224.0L78.5 224.3L79.0 224.6L79.5 225.1L80.0 225.7L80.5 226.4L81.0 227.1L81.5 227.8L82.0 228.5L82.5 229.2L83.0 229.9L83.5 230.5L84.0 231.0L84.5 231.5L85.0 231.9L85.5 232.2L86.0 232.5L86.5 232.8L87.0 232.9L87.5 233.1L88.0 233.2L88.5 233.3L89.0 233.3L89.5 233.4L90.0 233.4L90.5 233.4L91.0 233.4L91.5 233.5L92.0 233.5L92.5 233.5L93.0 233.5L93.5 233.5L94.0 233.5L94.5 233.5L95.0 233.5L95.5 233.5L96.0 233.5L96.5 233.5L97.0 233.5L97.5 233.5L98.0 233.5L98.5 233.5L99.0 233.5L99.5 233.5L100.0 233.5L100.5 233.5L101.0 233.5L101.5 233.5L102.0 233.5L102.5 233.5L103.0 233.5L103.5 233.5L104.0 233.5L104.5 233.5L105.0 233.5L105.5 233.5L106.0 233.5L106.5 233.5L107.0 233.5L107.5 233.5L108.0 233.5L108.5 233.5L109.0 233.5L109.5 233.5L110.0 233.5L110.5 233.5L111.0 233.5L111.5 233.5L112.0 233.5L112.5 233.5L113.0 233.5L113.5 233.5L114.0 233.5L114.5 233.5L115.0 233.5L115.5 233.5L116.0 233.5L116.5 233.5L117.0 233.5L117.5 233.5L118.0 233.5L118.5 233.5L119.0 233.4L119.5 233.4L120.0 233.4L120.5 233.4L121.0 233.4L121.5 233.4L122.0 233.3L122.5 233.3L123.0 233.3L123.5 233.2L124.0 233.2L124.5 233.1L125.0 233.0L125.5 232.9L126.0 232.8L126.5 232.7L127.0 232.5L127.5 232.3L128.0 232.1L128.5 231.8L129.0 231.5L129.5 231.2L130.0 230.8L130.5 230.3L131.0 229.8L131.5 229.2L132.0 228.6L132.5 227.8L133.0 227.0L133.5 226.1L134.0 225.1L134.5 224.0L135.0 222.8L135.5 221.5L136.0 220.0L136.5 218.4L137.0 216.7L137.5 214.7L138.0 212.5L138.5 210.0L139.0 207.1L139.5 204.0L140.0 200.4L140.5 196.5L141.0 192.4L141.5 188.1L142.0 183.8L142.5 179.7L143.0 176.1L143.5 173.0L144.0 170.6L144.5 168.9L145.0 167.9L145.5 167.5L146.0 167.6L146.5 167.9L147.0 168.4L147.5 169.0L148.0 169.5L148.5 169.9L149.0 170.3L149.5 170.7L150.0 171.0L150.5 171.5L151.0 172.1L151.5 172.8L152.0 173.7L152.5 174.8L153.0 176.0L153.5 177.5L154.0 179.1L154.5 180.9L155.0 182.8L155.5 184.8L156.0 187.0L156.5 189.2L157.0 191.5L157.5 193.8L158.0 196.1L158.5 198.4L159.0 200.8L159.5 203.0L160.0 205.3L160.5 207.4L161.0 209.5L161.5 211.6L162.0 213.5L162.5 215.3L163.0 217.0L163.5 218.6L164.0 220.2L164.5 221.6L165.0 222.9L165.5 224.0L166.0 225.1L166.5 226.1L167.0 227.0L167.5 227.8L168.0 228.6L168.5 229.2L169.0 229.8L169.5 230.3L170.0 230.8L170.5 231.2L171.0 231.5L171.5 231.8L172.0 232.1L172.5 232.3L173.0 232.5L173.5 232.7L174.0 232.8L174.5 232.9L175.0 233.0L175.5 233.1L176.0 233.2L176.5 233.2L177.0 233.3L177.5 233.3L178.0 233.3L178.5 233.4L179.0 233.4L179.5 233.4L180.0 233.4L180.5 233.4L181.0 233.4L181.5 233.4L182.0 233.4L182.5 233.4L183.0 233.4L183.5 233.4L184.0 233.4L184.5 233.4L185.0 233.4L185.5 233.4L186.0 233.4L186.5 233.4L187.0 233.3L187.5 233.3L188.0 233.2L188.5 233.2L189.0 233.1L189.5 233.0L190.0 232.9L190.5 232.8L191.0 232.7L191.5 232.5L192.0 232.4L192.5 232.2L193.0 231.9L193.5 231.7L194.0 231.4L194.5 231.1L195.0 230.8L195.5 230.5L196.0 230.1L196.5 229.7L197.0 229.3L197.5 228.9L198.0 228.5L198.5 228.1L199.0 227.7L199.5 227.3L200.0 226.9L200.5 226.5L201.0 226.2L201.5 225.9L202.0 225.7L202.5 225.5L203.0 225.4L203.5 225.3L204.0 225.3L204.5 225.3L205.0 225.4L205.5 225.5L206.0 225.7L206.5 225.9L207.0 226.2L207.5 226.5L208.0 226.9L208.5 227.3L209.0 227.7L209.5 228.1L210.0 228.5L210.5 228.9L211.0 229.3L211.5 229.7L212.0 230.1L212.5 230.5L213.0 230.8L213.5 231.1L214.0 231.4L214.5 231.7L215.0 231.9L215.5 232.2L216.0 232.4L216.5 232.5L217.0 232.7L217.5 232.8L218.0 232.9L218.5 233.0L219.0 233.1L219.5 233.2L220.0 233.2L220.5 233.3L221.0 233.3L221.5 233.4L222.0 233.4L222.5 233.4L223.0 233.4L223.5 233.4L224.0 233.4L224.5 233.5L225.0 233.5L225.5 233.5L226.0 233.5L226.5 233.5L227.0 233.5L227.5 233.5L228.0 233.5L228.5 233.5L229.0 233.5L229.5 233.5L230.0 233.5L230.5 233.5L231.0 233.5L231.5 233.5L232.0 233.5L232.5 233.5L233.0 233.5L233.5 233.5L234.0 233.5L234.5 233.5L235.0 233.5L235.5 233.5L236.0 233.5L236.5 233.5L237.0 233.5L237.5 233.5L238.0 233.5L238.5 233.5L239.0 233.5L239.5 233.5L240.0 233.5L240.5 233.5L241.0 233.5L241.5 233.5L242.0 233.5L242.5 233.5L243.0 233.5L243.5 233.5L244.0 233.5L244.5 233.5L245.0 233.5L245.5 233.5L246.0 233.5L246.5 233.5L247.0 233.5L247.5 233.5L248.0 233.5L248.5 233.5L249.0 233.5L249.5 233.5L250.0 233.5L250.5 233.5L251.0 233.5L251.5 233.5L252.0 233.5L252.5 233.5L253.0 233.5L253.5 233.5L254.0 233.5L254.5 233.5L255.0 233.5L255.5 233.5L256.0 233.5L256.5 233.5L257.0 233.5L257.5 233.5L258.0 233.5L258.5 233.5L259.0 233.5L259.5 233.5L260.0 233.5L260.5 233.5L261.0 233.5L261.5 233.5L262.0 233.5L262.5 233.5L263.0 233.5L263.5 233.5L264.0 233.5L264.5 233.5L265.0 233.5L265.5 233.5L266.0 233.5L266.5 233.5L267.0 233.5L267.5 233.5L268.0 233.5L268.5 233.5L269.0 233.5L269.5 233.5L270.0 233.5L270.5 233.5L271.0 233.5L271.5 233.5L272.0 233.5L272.5 233.5L273.0 233.5L273.5 233.5L274.0 233.5L274.5 233.5L275.0 233.5L275.5 233.5L276.0 233.5L276.5 233.5L277.0 233.5L277.5 233.5L278.0 233.5L278.5 233.5L279.0 233.5L279.5 233.5L280.0 233.5L280.5 233.5L281.0 233.5L281.5 233.5L282.0 233.5L282.5 233.5L283.0 233.5L283.5 233.5L284.0 233.5L284.5 233.5L285.0 233.5L285.5 233.5L286.0 233.5L286.5 233.4L287.0 233.4L287.5 233.4L288.0 233.4L288.5 233.4L289.0 233.4L289.5 233.4L290.0 233.4L290.5 233.4L291.0 233.4L291.5 233.3L292.0 233.3L292.5 233.3L293.0 233.3L293.5 233.2L294.0 233.2L294.5 233.2L295.0 233.1L295.5 233.1L296.0 233.0L296.5 233.0L297.0 232.9L297.5 232.8L298.0 232.7L298.5 232.7L299.0 232.6L299.5 232.5L300.0 232.4L300.5 232.3L301.0 232.1L301.5 232.0L302.0 231.9L302.5 231.7L303.0 231.5L303.5 231.4L304.0 231.2L304.5 231.0L305.0 230.8L305.5 230.6L306.0 230.4L306.5 230.2L307.0 230.0L307.5 229.7L308.0 229.5L308.5 229.2L309.0 229.0L309.5 228.7L310.0 228.5L310.5 228.2L311.0 228.0L311.5 227.8L312.0 227.5L312.5 227.3L313.0 227.0L313.5 226.8L314.0 226.6L314.5 226.4L315.0 226.2L315.5 226.1L316.0 225.9L316.5 225.8L317.0 225.6L317.5 225.5L318.0 225.4L318.5 225.4L319.0 225.3L319.5 225.3L320.0 225.3L320.5 225.3L321.0 225.3L321.5 225.4L322.0 225.4L322.5 225.5L323.0 225.6L323.5 225.8L324.0 225.9L324.5 226.1L325.0 226.2L325.5 226.4L326.0 226.6L326.5 226.8L327.0 227.0L327.5 227.3L328.0 227.5L328.5 227.8L329.0 228.0L329.5 228.2L330.0 228.5L330.5 228.7L331.0 229.0L331.5 229.2L332.0 229.5L332.5 229.7L333.0 230.0L333.5 230.2L334.0 230.4L334.5 230.6L335.0 230.8L335.5 231.0" stroke="#8f8f8f" stroke-opacity="0.7" stroke-width="1.45" fill="none"/>
<path d="M36.0 233.6L36.5 233.6L37.0 233.6L37.5 233.6L38.0 233.6L38.5 233.6L39.0 233.5L39.5 233.5L40.0 233.5L40.5 233.4L41.0 233.4L41.5 233.3L42.0 233.3L42.5 233.2L43.0 233.1L43.5 233.0L44.0 233.0L44.5 232.9L45.0 232.8L45.5 232.7L46.0 232.6L46.5 232.6L47.0 232.6L47.5 232.5L48.0 232.5L48.5 232.5L49.0 232.6L49.5 232.6L50.0 232.6L50.5 232.7L51.0 232.8L51.5 232.9L52.0 232.9L52.5 233.0L53.0 233.1L53.5 233.2L54.0 233.3L54.5 233.3L55.0 233.4L55.5 233.4L56.0 233.4L56.5 233.5L57.0 233.5L57.5 233.5L58.0 233.5L58.5 233.5L59.0 233.4L59.5 233.4L60.0 233.4L60.5 233.3L61.0 233.3L61.5 233.2L62.0 233.2L62.5 233.1L63.0 233.0L63.5 232.9L64.0 232.8L64.5 232.7L65.0 232.6L65.5 232.5L66.0 232.4L66.5 232.3L67.0 232.2L67.5 232.2L68.0 232.1L68.5 232.0L69.0 232.0L69.5 232.0L70.0 232.0L70.5 232.0L71.0 232.0L71.5 232.0L72.0 232.0L72.5 232.1L73.0 232.1L73.5 232.1L74.0 232.2L74.5 232.2L75.0 232.1L75.5 232.1L76.0 232.0L76.5 231.9L77.0 231.8L77.5 231.7L78.0 231.6L78.5 231.5L79.0 231.5L79.5 231.5L80.0 231.5L80.5 231.5L81.0 231.7L81.5 231.8L82.0 232.0L82.5 232.2L83.0 232.4L83.5 232.6L84.0 232.8L84.5 233.0L85.0 233.1L85.5 233.2L86.0 233.3L86.5 233.4L87.0 233.5L87.5 233.5L88.0 233.6L88.5 233.6L89.0 233.6L89.5 233.6L90.0 233.6L90.5 233.6L91.0 233.6L91.5 233.6L92.0 233.6L92.5 233.6L93.0 233.6L93.5 233.6L94.0 233.6L94.5 233.6L95.0 233.6L95.5 233.6L96.0 233.6L96.5 233.6L97.0 233.6L97.5 233.6L98.0 233.6L98.5 233.6L99.0 233.6L99.5 233.6L100.0 233.6L100.5 233.6L101.0 233.6L101.5 233.6L102.0 233.6L102.5 233.6L103.0 233.6L103.5 233.6L104.0 233.6L104.5 233.6L105.0 233.6L105.5 233.6L106.0 233.6L106.5 233.6L107.0 233.6L107.5 233.6L108.0 233.6L108.5 233.5L109.0 233.5L109.5 233.4L110.0 233.4L110.5 233.2L111.0 233.1L111.5 232.8L112.0 232.5L112.5 232.1L113.0 231.6L113.5 230.9L114.0 230.2L114.5 229.2L115.0 228.2L115.5 227.0L116.0 225.8L116.5 224.5L117.0 223.2L117.5 221.9L118.0 220.8L118.5 219.9L119.0 219.2L119.5 218.7L120.0 218.6L120.5 218.7L121.0 219.2L121.5 219.9L122.0 220.8L122.5 221.9L123.0 223.2L123.5 224.5L124.0 225.7L124.5 226.9L125.0 228.1L125.5 229.0L126.0 229.8L126.5 230.4L127.0 230.8L127.5 231.0L128.0 230.9L128.5 230.6L129.0 230.1L129.5 229.4L130.0 228.5L130.5 227.5L131.0 226.4L131.5 225.2L132.0 224.1L132.5 223.2L133.0 222.5L133.5 222.0L134.0 221.8L134.5 222.0L135.0 222.5L135.5 223.2L136.0 224.2L136.5 225.3L137.0 226.4L137.5 227.6L138.0 228.7L138.5 229.6L139.0 230.4L139.5 231.0L140.0 231.3L140.5 231.5L141.0 231.4L141.5 231.2L142.0 230.8L142.5 230.2L143.0 229.6L143.5 228.9L144.0 228.1L144.5 227.4L145.0 226.7L145.5 226.1L146.0 225.4L146.5 224.7L147.0 223.9L147.5 222.9L148.0 221.7L148.5 220.2L149.0 218.4L149.5 216.3L150.0 214.0L150.5 211.4L151.0 208.6L151.5 205.6L152.0 202.6L152.5 199.6L153.0 196.6L153.5 193.8L154.0 191.2L154.5 188.9L155.0 186.9L155.5 185.4L156.0 184.3L156.5 183.7L157.0 183.7L157.5 184.2L158.0 185.1L158.5 186.6L159.0 188.4L159.5 190.7L160.0 193.2L160.5 196.0L161.0 198.9L161.5 202.0L162.0 205.0L162.5 208.0L163.0 210.9L163.5 213.6L164.0 216.1L164.5 218.3L165.0 220.2L165.5 221.9L166.0 223.2L166.5 224.2L167.0 224.8L167.5 225.2L168.0 225.2L168.5 224.9L169.0 224.4L169.5 223.6L170.0 222.5L170.5 221.3L171.0 219.9L171.5 218.4L172.0 216.9L172.5 215.5L173.0 214.1L173.5 212.8L174.0 211.7L174.5 210.9L175.0 210.3L175.5 210.1L176.0 210.1L176.5 210.5L177.0 211.1L177.5 212.0L178.0 213.2L178.5 214.6L179.0 216.1L179.5 217.7L180.0 219.3L180.5 221.0L181.0 222.6L181.5 224.1L182.0 225.6L182.5 226.9L183.0 228.0L183.5 229.1L184.0 230.0L184.5 230.7L185.0 231.3L185.5 231.8L186.0 232.2L186.5 232.6L187.0 232.8L187.5 233.0L188.0 233.1L188.5 233.2L189.0 233.2L189.5 233.2L190.0 233.1L190.5 233.0L191.0 232.9L191.5 232.7L192.0 232.5L192.5 232.3L193.0 232.0L193.5 231.7L194.0 231.4L194.5 231.0L195.0 230.5L195.5 230.1L196.0 229.6L196.5 229.2L197.0 228.7L197.5 228.3L198.0 227.9L198.5 227.5L199.0 227.2L199.5 227.0L200.0 226.9L200.5 226.8L201.0 226.8L201.5 226.9L202.0 227.1L202.5 227.3L203.0 227.6L203.5 228.0L204.0 228.4L204.5 228.8L205.0 229.3L205.5 229.7L206.0 230.2L206.5 230.6L207.0 231.0L207.5 231.4L208.0 231.8L208.5 232.1L209.0 232.4L209.5 232.6L210.0 232.8L210.5 233.0L211.0 233.1L211.5 233.2L212.0 233.3L212.5 233.4L213.0 233.4L213.5 233.4L214.0 233.4L214.5 233.5L215.0 233.4L215.5 233.4L216.0 233.4L216.5 233.4L217.0 233.3L217.5 233.3L218.0 233.2L218.5 233.2L219.0 233.1L219.5 233.0L220.0 232.9L220.5 232.8L221.0 232.7L221.5 232.5L222.0 232.4L222.5 232.2L223.0 232.1L223.5 231.9L224.0 231.7L224.5 231.4L225.0 231.2L225.5 231.0L226.0 230.7L226.5 230.5L227.0 230.2L227.5 229.9L228.0 229.7L228.5 229.4L229.0 229.1L229.5 228.9L230.0 228.7L230.5 228.4L231.0 228.2L231.5 228.0L232.0 227.9L232.5 227.7L233.0 227.6L233.5 227.5L234.0 227.5L234.5 227.5L235.0 227.5L235.5 227.5L236.0 227.6L236.5 227.7L237.0 227.8L237.5 228.0L238.0 228.1L238.5 228.3L239.0 228.6L239.5 228.8L240.0 229.0L240.5 229.3L241.0 229.6L241.5 229.8L242.0 230.1L242.5 230.4L243.0 230.6L243.5 230.9L244.0 231.1L244.5 231.3L245.0 231.6L245.5 231.8L246.0 232.0L246.5 232.2L247.0 232.3L247.5 232.5L248.0 232.6L248.5 232.8L249.0 232.9L249.5 233.0L250.0 233.1L250.5 233.1L251.0 233.2L251.5 233.3L252.0 233.3L252.5 233.4L253.0 233.4L253.5 233.5L254.0 233.5L254.5 233.5L255.0 233.5L255.5 233.5L256.0 233.6L256.5 233.6L257.0 233.6L257.5 233.6L258.0 233.6L258.5 233.6L259.0 233.6L259.5 233.6L260.0 233.6L260.5 233.6L261.0 233.6L261.5 233.6L262.0 233.6L262.5 233.6L263.0 233.6L263.5 233.6L264.0 233.6L264.5 233.6L265.0 233.6L265.5 233.6L266.0 233.6L266.5 233.6L267.0 233.6L267.5 233.6L268.0 233.6L268.5 233.6L269.0 233.6L269.5 233.6L270.0 233.6L270.5 233.5L271.0 233.5L271.5 233.5L272.0 233.5L272.5 233.5L273.0 233.5L273.5 233.5L274.0 233.4L274.5 233.4L275.0 233.4L275.5 233.4L276.0 233.3L276.5 233.3L277.0 233.2L277.5 233.2L278.0 233.2L278.5 233.1L279.0 233.1L279.5 233.0L280.0 233.0L280.5 232.9L281.0 232.9L281.5 232.8L282.0 232.8L282.5 232.7L283.0 232.7L283.5 232.6L284.0 232.6L284.5 232.5L285.0 232.5L285.5 232.4L286.0 232.4L286.5 232.4L287.0 232.3L287.5 232.3L288.0 232.3L288.5 232.3L289.0 232.3L289.5 232.2L290.0 232.2L290.5 232.2L291.0 232.3L291.5 232.3L292.0 232.3L292.5 232.3L293.0 232.3L293.5 232.4L294.0 232.4L294.5 232.4L295.0 232.5L295.5 232.5L296.0 232.6L296.5 232.6L297.0 232.7L297.5 232.7L298.0 232.7L298.5 232.8L299.0 232.8L299.5 232.9L300.0 232.9L300.5 233.0L301.0 233.0L301.5 233.0L302.0 233.0L302.5 233.1L303.0 233.1L303.5 233.1L304.0 233.1L304.5 233.1L305.0 233.1L305.5 233.1L306.0 233.1L306.5 233.1L307.0 233.0L307.5 233.0L308.0 233.0L308.5 232.9L309.0 232.9L309.5 232.9L310.0 232.8L310.5 232.8L311.0 232.7L311.5 232.6L312.0 232.6L312.5 232.5L313.0 232.5L313.5 232.4L314.0 232.4L314.5 232.3L315.0 232.3L315.5 232.2L316.0 232.2L316.5 232.1L317.0 232.1L317.5 232.0L318.0 232.0L318.5 232.0L319.0 232.0L319.5 232.0L320.0 232.0L320.5 232.0L321.0 232.0L321.5 232.0L322.0 232.0L322.5 232.1L323.0 232.1L323.5 232.1L324.0 232.2L324.5 232.2L325.0 232.3L325.5 232.3L326.0 232.4L326.5 232.4L327.0 232.5L327.5 232.6L328.0 232.6L328.5 232.7L329.0 232.7L329.5 232.8L330.0 232.9L330.5 232.9L331.0 233.0L331.5 233.0L332.0 233.1L332.5 233.1L333.0 233.2L333.5 233.2L334.0 233.3L334.5 233.3L335.0 233.3L335.5 233.4" stroke="#ff00ff" stroke-width="1.6" fill="none"/>
<path d="M36.0 231.7L36.4 231.3L36.7 230.8L37.0 230.4L37.4 230.0L37.8 229.6L38.1 229.2L38.5 228.9L38.8 228.8L39.1 228.7L39.5 228.7L39.9 228.9L40.2 229.1L40.5 229.4L40.9 229.8L41.2 230.3L41.6 230.7L42.0 231.1L42.3 231.5L42.6 231.9L43.0 232.3L43.4 232.5L43.7 232.8L44.0 233.0L44.4 233.1L44.8 233.2L45.1 233.3L45.5 233.4L45.8 233.4L46.1 233.4L46.5 233.4L46.9 233.5L47.2 233.5L47.5 233.5L47.9 233.5L48.2 233.5L48.6 233.5L49.0 233.5L49.3 233.5L49.6 233.5L50.0 233.5L50.4 233.5L50.7 233.5L51.0 233.5L51.4 233.5L51.8 233.5L52.1 233.5L52.5 233.5L52.8 233.5L53.1 233.5L53.5 233.5L53.8 233.5L54.2 233.5L54.5 233.5L54.9 233.5L55.2 233.5L55.6 233.5L56.0 233.5L56.3 233.5L56.6 233.5L57.0 233.5L57.3 233.5L57.7 233.5L58.0 233.5L58.4 233.5L58.8 233.5L59.1 233.5L59.5 233.5L59.8 233.5L60.1 233.5L60.5 233.5L60.8 233.5L61.2 233.5L61.5 233.5L61.9 233.5L62.2 233.5L62.6 233.5L63.0 233.5L63.3 233.5L63.6 233.5L64.0 233.5L64.3 233.5L64.7 233.5L65.0 233.5L65.4 233.5L65.8 233.5L66.1 233.5L66.5 233.5L66.8 233.5L67.2 233.5L67.5 233.5L67.8 233.5L68.2 233.5L68.5 233.5L68.9 233.5L69.2 233.5L69.6 233.5L69.9 233.5L70.3 233.5L70.7 233.5L71.0 233.5L71.3 233.5L71.7 233.5L72.0 233.5L72.4 233.5L72.8 233.5L73.1 233.5L73.4 233.5L73.8 233.5L74.2 233.5L74.5 233.5L74.8 233.5L75.2 233.5L75.5 233.5L75.9 233.5L76.2 233.5L76.6 233.5L76.9 233.5L77.3 233.5L77.7 233.5L78.0 233.4L78.3 233.4L78.7 233.4L79.0 233.3L79.4 233.2L79.8 233.1L80.1 233.0L80.4 232.7L80.8 232.4L81.2 232.0L81.5 231.5L81.8 231.0L82.2 230.3L82.5 229.5L82.9 228.7L83.2 227.9L83.6 227.1L83.9 226.3L84.3 225.7L84.7 225.2L85.0 224.9L85.3 224.9L85.7 225.0L86.0 225.3L86.4 225.9L86.8 226.5L87.1 227.3L87.4 228.1L87.8 229.0L88.2 229.8L88.5 230.5L88.8 231.1L89.2 231.7L89.5 232.1L89.9 232.5L90.2 232.8L90.6 233.0L90.9 233.2L91.3 233.3L91.7 233.3L92.0 233.4L92.3 233.4L92.7 233.4L93.0 233.4L93.4 233.4L93.8 233.3L94.1 233.3L94.4 233.1L94.8 233.0L95.2 232.7L95.5 232.3L95.8 231.9L96.2 231.3L96.5 230.6L96.9 229.7L97.2 228.8L97.6 227.8L97.9 226.9L98.3 225.9L98.7 225.2L99.0 224.6L99.3 224.2L99.7 224.2L100.0 224.4L100.4 224.9L100.8 225.6L101.1 226.4L101.5 227.3L101.8 228.2L102.1 229.1L102.5 229.9L102.8 230.4L103.2 230.8L103.5 231.0L103.9 230.9L104.2 230.6L104.6 230.1L104.9 229.3L105.3 228.2L105.6 227.0L106.0 225.5L106.3 223.9L106.7 222.1L107.0 220.3L107.4 218.6L107.8 216.9L108.1 215.5L108.4 214.3L108.8 213.5L109.1 213.1L109.5 213.2L109.8 213.6L110.2 214.5L110.5 215.7L110.9 217.1L111.2 218.8L111.6 220.6L111.9 222.4L112.3 224.1L112.6 225.8L113.0 227.3L113.3 228.6L113.7 229.7L114.0 230.6L114.4 231.3L114.8 231.9L115.1 232.4L115.4 232.7L115.8 233.0L116.1 233.1L116.5 233.3L116.8 233.3L117.2 233.4L117.5 233.4L117.9 233.4L118.2 233.5L118.6 233.5L118.9 233.5L119.3 233.5L119.6 233.5L120.0 233.4L120.3 233.4L120.7 233.4L121.0 233.4L121.4 233.3L121.8 233.2L122.1 233.1L122.4 232.9L122.8 232.7L123.1 232.4L123.5 232.1L123.8 231.8L124.2 231.3L124.5 230.9L124.9 230.4L125.2 230.0L125.6 229.6L125.9 229.2L126.3 228.9L126.6 228.7L127.0 228.7L127.3 228.7L127.7 228.9L128.1 229.2L128.4 229.6L128.8 230.0L129.1 230.4L129.4 230.9L129.8 231.3L130.1 231.8L130.5 232.1L130.8 232.4L131.2 232.7L131.6 232.9L131.9 233.1L132.2 233.2L132.6 233.3L132.9 233.4L133.3 233.4L133.6 233.4L134.0 233.4L134.3 233.5L134.7 233.5L135.1 233.5L135.4 233.5L135.8 233.5L136.1 233.5L136.4 233.5L136.8 233.5L137.1 233.5L137.5 233.5L137.8 233.4L138.2 233.4L138.6 233.4L138.9 233.3L139.2 233.2L139.6 233.0L139.9 232.8L140.3 232.5L140.6 232.0L141.0 231.4L141.3 230.7L141.7 229.8L142.1 228.8L142.4 227.7L142.8 226.5L143.1 225.2L143.4 223.9L143.8 222.7L144.1 221.5L144.5 220.5L144.8 219.5L145.2 218.5L145.6 217.4L145.9 216.2L146.2 214.6L146.6 212.6L146.9 210.0L147.3 206.7L147.6 202.6L148.0 197.5L148.3 191.6L148.7 184.6L149.1 176.7L149.4 167.9L149.8 158.2L150.1 147.7L150.4 136.5L150.8 124.8L151.1 112.8L151.5 100.7L151.8 88.6L152.2 77.0L152.6 65.8L152.9 55.6L153.2 46.4L153.6 38.5L153.9 32.2L154.3 27.5L154.6 24.7L155.0 23.7L155.3 24.7L155.7 27.5L156.1 32.2L156.4 38.5L156.8 46.4L157.1 55.6L157.4 65.8L157.8 77.0L158.1 88.7L158.5 100.7L158.8 112.8L159.2 124.9L159.6 136.6L159.9 147.8L160.2 158.3L160.6 168.1L160.9 177.1L161.3 185.2L161.6 192.4L162.0 198.6L162.3 204.0L162.7 208.5L163.1 212.3L163.4 215.4L163.8 217.8L164.1 219.7L164.4 221.2L164.8 222.4L165.2 223.3L165.5 224.1L165.8 224.7L166.2 225.4L166.5 226.1L166.9 226.8L167.2 227.5L167.6 228.2L167.9 228.9L168.3 229.6L168.7 230.3L169.0 230.9L169.3 231.4L169.7 231.9L170.0 232.3L170.4 232.6L170.8 232.8L171.1 233.0L171.4 233.2L171.8 233.2L172.1 233.3L172.5 233.3L172.8 233.3L173.2 233.3L173.5 233.3L173.9 233.2L174.2 233.1L174.6 233.0L174.9 232.8L175.3 232.6L175.6 232.3L176.0 232.0L176.3 231.7L176.7 231.2L177.0 230.7L177.4 230.1L177.8 229.4L178.1 228.7L178.4 227.9L178.8 227.0L179.1 226.0L179.5 225.1L179.8 224.1L180.2 223.1L180.5 222.2L180.9 221.3L181.2 220.5L181.6 219.9L181.9 219.3L182.3 219.0L182.6 218.7L183.0 218.7L183.3 218.8L183.7 219.1L184.0 219.6L184.4 220.2L184.8 221.0L185.1 221.8L185.4 222.7L185.8 223.7L186.1 224.7L186.5 225.6L186.8 226.6L187.2 227.5L187.5 228.3L187.9 229.1L188.2 229.8L188.6 230.5L188.9 231.0L189.3 231.5L189.6 231.9L190.0 232.2L190.3 232.5L190.7 232.7L191.0 232.9L191.4 233.0L191.8 233.2L192.1 233.2L192.4 233.3L192.8 233.4L193.1 233.4L193.5 233.4L193.8 233.4L194.2 233.4L194.5 233.5L194.9 233.5L195.2 233.5L195.6 233.5L195.9 233.4L196.3 233.4L196.6 233.4L197.0 233.4L197.3 233.4L197.7 233.4L198.0 233.3L198.4 233.3L198.8 233.2L199.1 233.1L199.4 233.0L199.8 232.9L200.1 232.7L200.5 232.6L200.8 232.3L201.2 232.1L201.5 231.8L201.9 231.4L202.2 231.0L202.6 230.5L202.9 229.9L203.3 229.3L203.6 228.6L204.0 227.8L204.3 227.0L204.7 226.1L205.0 225.1L205.4 224.1L205.8 223.1L206.1 222.0L206.4 220.9L206.8 219.7L207.1 218.6L207.5 217.6L207.8 216.6L208.2 215.6L208.5 214.8L208.9 214.0L209.2 213.4L209.6 212.9L209.9 212.6L210.3 212.4L210.6 212.4L211.0 212.6L211.3 212.9L211.7 213.3L212.0 213.9L212.4 214.6L212.8 215.5L213.1 216.4L213.4 217.4L213.8 218.5L214.1 219.6L214.5 220.7L214.8 221.8L215.2 222.9L215.5 224.0L215.9 225.0L216.2 226.0L216.6 226.9L216.9 227.7L217.3 228.5L217.6 229.2L218.0 229.8L218.3 230.4L218.7 230.9L219.0 231.3L219.4 231.7L219.8 232.0L220.1 232.3L220.4 232.5L220.8 232.7L221.1 232.9L221.5 233.0L221.8 233.1L222.2 233.2L222.5 233.3L222.9 233.3L223.2 233.3L223.6 233.4L223.9 233.4L224.3 233.4L224.6 233.4L225.0 233.4L225.3 233.5L225.7 233.5L226.0 233.5L226.4 233.5L226.8 233.5L227.1 233.5L227.4 233.5L227.8 233.5L228.1 233.5L228.5 233.5L228.8 233.5L229.2 233.5L229.5 233.5L229.9 233.5L230.2 233.5L230.6 233.5L230.9 233.5L231.3 233.5L231.6 233.5L232.0 233.5L232.3 233.5L232.7 233.5L233.0 233.5L233.4 233.5L233.8 233.5L234.1 233.5L234.4 233.5L234.8 233.5L235.1 233.5L235.5 233.5L235.8 233.5L236.2 233.5L236.5 233.5L236.9 233.5L237.2 233.5L237.6 233.5L237.9 233.5L238.3 233.5L238.6 233.5L239.0 233.5L239.3 233.5L239.7 233.5L240.0 233.5L240.4 233.5L240.8 233.5L241.1 233.5L241.4 233.5L241.8 233.5L242.1 233.5L242.5 233.5L242.8 233.5L243.2 233.5L243.5 233.5L243.9 233.5L244.2 233.5L244.6 233.5L244.9 233.5L245.3 233.4L245.6 233.4L246.0 233.4L246.3 233.4L246.7 233.4L247.0 233.4L247.4 233.3L247.8 233.3L248.1 233.3L248.4 233.2L248.8 233.2L249.1 233.1L249.5 233.0L249.8 233.0L250.2 232.9L250.5 232.7L250.9 232.6L251.2 232.5L251.6 232.3L251.9 232.1L252.3 231.9L252.6 231.6L253.0 231.4L253.3 231.1L253.7 230.7L254.0 230.4L254.4 230.0L254.8 229.6L255.1 229.2L255.4 228.7L255.8 228.2L256.1 227.7L256.5 227.2L256.9 226.7L257.2 226.1L257.5 225.6L257.9 225.0L258.2 224.5L258.6 224.0L258.9 223.5L259.3 223.0L259.6 222.5L260.0 222.1L260.4 221.7L260.7 221.4L261.0 221.1L261.4 220.9L261.8 220.7L262.1 220.6L262.4 220.6L262.8 220.6L263.1 220.7L263.5 220.8L263.9 221.0L264.2 221.3L264.5 221.6L264.9 222.0L265.2 222.4L265.6 222.8L265.9 223.3L266.3 223.8L266.6 224.3L267.0 224.8L267.4 225.3L267.7 225.9L268.0 226.4L268.4 226.9L268.8 227.4L269.1 227.9L269.4 228.4L269.8 228.8L270.1 229.2L270.5 229.6L270.9 230.0L271.2 230.3L271.5 230.6L271.9 230.8L272.2 231.1L272.6 231.3L272.9 231.4L273.3 231.6L273.6 231.7L274.0 231.8L274.4 231.9L274.7 231.9L275.0 231.9L275.4 232.0L275.8 232.0L276.1 231.9L276.4 231.9L276.8 231.8L277.1 231.8L277.5 231.7L277.9 231.6L278.2 231.6L278.5 231.5L278.9 231.4L279.2 231.3L279.6 231.1L279.9 231.0L280.3 230.9L280.6 230.8L281.0 230.7L281.4 230.5L281.7 230.4L282.0 230.3L282.4 230.2L282.8 230.0L283.1 229.9L283.4 229.8L283.8 229.7L284.1 229.6L284.5 229.5L284.9 229.4L285.2 229.3L285.5 229.2L285.9 229.1L286.2 229.0L286.6 229.0L286.9 228.9L287.3 228.8L287.6 228.8L288.0 228.7L288.4 228.7L288.7 228.7L289.0 228.7L289.4 228.7L289.8 228.7L290.1 228.7L290.4 228.7L290.8 228.8L291.1 228.8L291.5 228.8L291.9 228.9L292.2 229.0L292.6 229.0L292.9 229.1L293.2 229.2L293.6 229.3L293.9 229.4L294.3 229.5L294.6 229.5L295.0 229.6L295.3 229.7L295.7 229.8L296.1 229.9L296.4 230.0L296.8 230.1L297.1 230.2L297.4 230.3L297.8 230.4L298.1 230.5L298.5 230.5L298.8 230.6L299.2 230.6L299.6 230.7L299.9 230.7L300.2 230.8L300.6 230.8L300.9 230.8L301.3 230.9L301.6 230.9L302.0 230.9L302.3 230.9L302.7 230.9L303.1 230.9L303.4 230.9L303.8 230.9L304.1 230.9L304.4 230.9L304.8 230.9L305.1 230.9L305.5 230.9L305.8 230.9L306.2 230.9L306.5 231.0L306.9 231.0L307.2 231.0L307.6 231.1L307.9 231.1L308.3 231.2L308.6 231.3L309.0 231.4L309.3 231.4L309.7 231.5L310.0 231.6L310.4 231.7L310.8 231.8L311.1 231.9L311.4 232.0L311.8 232.1L312.1 232.2L312.5 232.3L312.8 232.4L313.2 232.5L313.5 232.6L313.9 232.6L314.2 232.7L314.6 232.8L314.9 232.9L315.3 232.9L315.6 233.0L316.0 233.1L316.3 233.1L316.7 233.2L317.0 233.2L317.4 233.2L317.8 233.3L318.1 233.3L318.4 233.3L318.8 233.3L319.1 233.4L319.5 233.4L319.8 233.4L320.2 233.4L320.5 233.4L320.9 233.4L321.2 233.4L321.6 233.4L321.9 233.5L322.3 233.5L322.6 233.5L323.0 233.5L323.3 233.5L323.7 233.5L324.0 233.5L324.4 233.5L324.8 233.5L325.1 233.5L325.4 233.5L325.8 233.5L326.1 233.5L326.5 233.5L326.8 233.5L327.2 233.5L327.5 233.5L327.9 233.5L328.2 233.5L328.6 233.5L328.9 233.5L329.3 233.5L329.6 233.5L330.0 233.5L330.3 233.5L330.7 233.5L331.0 233.5L331.4 233.5L331.8 233.5L332.1 233.5L332.4 233.5L332.8 233.5L333.1 233.5L333.5 233.5L333.8 233.5L334.2 233.5L334.5 233.5L334.9 233.5L335.2 233.5" stroke="#00f0f0" stroke-width="1.6" fill="none"/>
<path d="M36.0 233.6L36.3 234.2L36.6 234.3L36.9 234.0L37.2 232.8L37.5 231.9L37.8 232.7L38.1 234.0L38.4 234.3L38.7 234.1L39.0 232.8L39.3 231.4L39.6 231.9L39.9 233.5L40.2 234.3L40.5 234.3L40.8 233.6L41.1 232.4L41.4 232.1L41.7 233.1L42.0 234.1L42.3 234.3L42.6 234.2L42.9 233.6L43.2 233.0L43.5 233.2L43.8 233.8L44.1 234.3L44.4 234.3L44.7 234.2L45.0 233.6L45.3 233.2L45.6 233.4L45.9 234.0L46.2 234.3L46.5 234.3L46.8 234.1L47.1 233.6L47.4 233.2L47.7 233.4L48.0 234.0L48.3 234.3L48.6 234.3L48.9 234.1L49.2 233.6L49.5 233.2L49.8 233.4L50.1 233.9L50.4 234.3L50.7 234.3L51.0 234.2L51.3 233.8L51.6 233.4L51.9 233.4L52.2 233.9L52.5 234.2L52.8 234.3L53.1 234.3L53.4 234.0L53.7 233.7L54.0 233.6L54.3 233.8L54.6 234.1L54.9 234.3L55.2 234.3L55.5 234.2L55.8 234.0L56.1 233.7L56.4 233.7L56.7 234.0L57.0 234.2L57.3 234.3L57.6 234.3L57.9 234.2L58.2 233.9L58.5 233.7L58.8 233.8L59.1 234.0L59.4 234.2L59.7 234.3L60.0 234.3L60.3 234.1L60.6 233.8L60.9 233.6L61.2 233.7L61.5 234.0L61.8 234.2L62.1 234.3L62.4 234.3L62.7 234.1L63.0 233.7L63.3 233.4L63.6 233.4L63.9 233.8L64.2 234.2L64.5 234.3L64.8 234.3L65.1 234.1L65.4 233.7L65.7 233.2L66.0 233.1L66.3 233.5L66.6 234.0L66.9 234.3L67.2 234.3L67.5 234.2L67.8 233.9L68.1 233.3L68.4 232.9L68.7 233.0L69.0 233.6L69.3 234.1L69.6 234.3L69.9 234.3L70.2 234.2L70.5 233.7L70.8 233.1L71.1 232.9L71.4 233.1L71.7 233.7L72.0 234.2L72.3 234.3L72.6 234.3L72.9 234.1L73.2 233.7L73.5 233.2L73.8 232.9L74.1 233.2L74.4 233.7L74.7 234.2L75.0 234.3L75.3 234.3L75.6 234.2L75.9 233.8L76.2 233.2L76.5 232.8L76.8 233.0L77.1 233.5L77.4 234.0L77.7 234.3L78.0 234.3L78.3 234.2L78.6 233.9L78.9 233.2L79.2 232.6L79.5 232.5L79.8 232.9L80.1 233.6L80.4 234.1L80.7 234.3L81.0 234.3L81.3 234.1L81.6 233.3L81.9 232.2L82.2 231.3L82.5 231.3L82.8 232.1L83.1 233.3L83.4 234.1L83.7 234.3L84.0 234.3L84.3 233.7L84.6 232.2L84.9 230.3L85.2 229.2L85.5 229.6L85.8 231.2L86.1 233.0L86.4 234.1L86.7 234.3L87.0 234.3L87.3 233.9L87.6 233.2L87.9 232.3L88.2 231.9L88.5 232.2L88.8 232.9L89.1 233.7L89.4 234.1L89.7 234.3L90.0 234.3L90.3 234.3L90.6 234.1L90.9 233.8L91.2 233.5L91.5 233.4L91.8 233.5L92.1 233.8L92.4 234.1L92.7 234.3L93.0 234.3L93.3 234.3L93.6 234.2L93.9 234.0L94.2 233.6L94.5 233.2L94.8 233.0L95.1 232.6L95.4 233.2L95.7 233.8L96.0 234.2L96.3 234.3L96.6 234.3L96.9 234.0L97.2 233.0L97.5 231.4L97.8 229.7L98.1 228.8L98.4 229.2L98.7 230.8L99.0 232.7L99.3 233.9L99.6 234.3L99.9 234.3L100.2 234.0L100.5 232.9L100.8 231.1L101.1 229.4L101.4 228.7L101.7 229.3L102.0 230.8L102.3 232.5L102.6 233.7L102.9 234.2L103.2 234.3L103.5 234.3L103.8 233.9L104.1 233.0L104.4 231.5L104.7 230.0L105.0 229.0L105.3 229.1L105.6 230.2L105.9 231.9L106.2 233.4L106.5 234.2L106.8 234.3L107.1 234.2L107.4 233.2L107.7 230.6L108.0 226.7L108.3 222.8L108.6 220.7L108.9 221.4L109.2 224.6L109.5 228.8L109.8 232.2L110.1 233.9L110.4 234.3L110.7 234.3L111.0 233.6L111.3 231.6L111.6 228.7L111.9 226.0L112.2 224.5L112.5 224.8L112.8 226.8L113.1 229.5L113.4 232.0L113.7 233.6L114.0 234.2L114.3 234.3L114.6 234.2L114.9 233.5L115.2 231.8L115.5 229.2L115.8 226.5L116.1 224.7L116.4 224.5L116.7 226.0L117.0 228.7L117.3 231.4L117.6 233.4L117.9 234.2L118.2 234.3L118.5 234.2L118.8 233.2L119.1 230.8L119.4 227.2L119.7 223.6L120.0 221.1L120.3 220.9L120.6 222.9L120.9 226.4L121.2 230.0L121.5 232.7L121.8 234.0L122.1 234.3L122.4 234.3L122.7 233.8L123.0 232.4L123.3 230.1L123.6 227.3L123.9 225.1L124.2 224.1L124.5 224.7L124.8 226.7L125.1 229.4L125.4 231.8L125.7 233.4L126.0 234.2L126.3 234.3L126.6 234.3L126.9 233.9L127.2 232.8L127.5 230.9L127.8 228.8L128.1 226.9L128.4 226.0L128.7 226.2L129.0 227.6L129.3 229.6L129.6 231.7L129.9 233.2L130.2 234.1L130.5 234.3L130.8 234.3L131.1 234.1L131.4 233.1L131.7 231.2L132.0 228.4L132.3 225.4L132.6 223.2L132.9 222.3L133.2 223.2L133.5 225.5L133.8 228.5L134.1 231.3L134.4 233.3L134.7 234.1L135.0 234.3L135.3 234.3L135.6 233.8L135.9 232.6L136.2 230.5L136.5 228.0L136.8 225.7L137.1 224.4L137.4 224.5L137.7 225.8L138.0 228.0L138.3 230.3L138.6 232.3L138.9 233.6L139.2 234.2L139.5 234.3L139.8 234.3L140.1 234.2L140.4 233.7L140.7 232.8L141.0 231.6L141.3 230.2L141.6 229.0L141.9 228.3L142.2 228.3L142.5 229.1L142.8 230.3L143.1 231.8L143.4 233.0L143.7 233.9L144.0 234.2L144.3 234.3L144.6 234.3L144.9 234.1L145.2 233.6L145.5 232.8L145.8 231.8L146.1 231.0L146.4 230.5L146.7 230.4L147.0 230.4L147.3 230.4L147.6 229.9L147.9 228.6L148.2 226.3L148.5 222.8L148.8 218.0L149.1 211.8L149.4 204.3L149.7 195.7L150.0 186.4L150.3 176.7L150.6 167.6L150.9 159.6L151.2 153.5L151.5 149.8L151.8 148.8L152.1 150.5L152.4 154.4L152.7 159.8L153.0 165.8L153.3 171.6L153.6 176.1L153.9 178.5L154.2 178.4L154.5 175.7L154.8 170.3L155.1 163.0L155.4 154.3L155.7 145.2L156.0 136.7L156.3 129.9L156.6 125.5L156.9 124.1L157.2 126.0L157.5 131.0L157.8 138.9L158.1 148.8L158.4 160.0L158.7 171.7L159.0 183.2L159.3 193.9L159.6 203.3L159.9 211.2L160.2 217.6L160.5 222.6L160.8 226.2L161.1 228.8L161.4 230.4L161.7 231.4L162.0 232.0L162.3 232.3L162.6 232.6L162.9 232.8L163.2 233.1L163.5 233.4L163.8 233.8L164.1 234.0L164.4 234.2L164.7 234.3L165.0 234.3L165.3 234.3L165.6 234.1L165.9 233.8L166.2 233.2L166.5 232.3L166.8 231.2L167.1 230.2L167.4 229.5L167.7 229.1L168.0 229.1L168.3 229.6L168.6 230.4L168.9 231.5L169.2 232.5L169.5 233.3L169.8 233.9L170.1 234.2L170.4 234.3L170.7 234.3L171.0 234.2L171.3 233.9L171.6 233.1L171.9 231.7L172.2 229.7L172.5 227.4L172.8 225.0L173.1 223.1L173.4 221.9L173.7 221.8L174.0 222.7L174.3 224.6L174.6 226.9L174.9 229.4L175.2 231.5L175.5 233.1L175.8 233.9L176.1 234.3L176.4 234.3L176.7 234.3L177.0 233.9L177.3 233.1L177.6 231.6L177.9 229.4L178.2 226.8L178.5 224.2L178.8 222.0L179.1 220.5L179.4 220.1L179.7 220.7L180.0 222.4L180.3 224.6L180.6 227.2L180.9 229.7L181.2 231.7L181.5 233.1L181.8 233.9L182.1 234.2L182.4 234.3L182.7 234.3L183.0 234.1L183.3 233.6L183.6 232.7L183.9 231.4L184.2 229.9L184.5 228.5L184.8 227.4L185.1 226.7L185.4 226.7L185.7 227.2L186.0 228.2L186.3 229.4L186.6 230.7L186.9 231.9L187.2 232.9L187.5 233.6L187.8 234.0L188.1 234.2L188.4 234.3L188.7 234.3L189.0 234.3L189.3 234.3L189.6 234.2L189.9 234.0L190.2 233.8L190.5 233.5L190.8 233.2L191.1 232.9L191.4 232.6L191.7 232.4L192.0 232.3L192.3 232.4L192.6 232.5L192.9 232.8L193.2 233.1L193.5 233.4L193.8 233.7L194.1 234.0L194.4 234.2L194.7 234.3L195.0 234.3L195.3 234.3L195.6 234.3L195.9 234.2L196.2 234.1L196.5 233.8L196.8 233.3L197.1 232.6L197.4 231.9L197.7 231.1L198.0 230.4L198.3 229.9L198.6 229.6L198.9 229.6L199.2 229.8L199.5 230.4L199.8 231.1L200.1 231.9L200.4 232.7L200.7 233.3L201.0 233.8L201.3 234.1L201.6 234.3L201.9 234.3L202.2 234.3L202.5 234.3L202.8 234.1L203.1 233.8L203.4 233.2L203.7 232.4L204.0 231.3L204.3 230.1L204.6 228.9L204.9 227.7L205.2 226.7L205.5 226.1L205.8 226.0L206.1 226.3L206.4 227.0L206.7 228.1L207.0 229.4L207.3 230.8L207.6 232.0L207.9 233.0L208.2 233.7L208.5 234.1L208.8 234.3L209.1 234.3L209.4 234.3L209.7 234.2L210.0 233.8L210.3 233.1L210.6 232.0L210.9 230.6L211.2 228.9L211.5 227.3L211.8 225.7L212.1 224.6L212.4 223.9L212.7 223.9L213.0 224.4L213.3 225.4L213.6 226.8L213.9 228.4L214.2 229.9L214.5 231.3L214.8 232.4L215.1 233.3L215.4 233.8L215.7 234.1L216.0 234.3L216.3 234.3L216.6 234.3L216.9 234.3L217.2 234.2L217.5 234.1L217.8 233.9L218.1 233.6L218.4 233.3L218.7 233.0L219.0 232.7L219.3 232.4L219.6 232.2L219.9 232.1L220.2 232.1L220.5 232.2L220.8 232.3L221.1 232.6L221.4 232.8L221.7 233.1L222.0 233.4L222.3 233.7L222.6 233.9L222.9 234.1L223.2 234.2L223.5 234.3L223.8 234.3L224.1 234.3L224.4 234.3L224.7 234.3L225.0 234.2L225.3 234.1L225.6 233.9L225.9 233.7L226.2 233.3L226.5 232.9L226.8 232.5L227.1 232.1L227.4 231.7L227.7 231.4L228.0 231.3L228.3 231.2L228.6 231.3L228.9 231.5L229.2 231.8L229.5 232.2L229.8 232.7L230.1 233.1L230.4 233.5L230.7 233.8L231.0 234.0L231.3 234.2L231.6 234.3L231.9 234.3L232.2 234.3L232.5 234.3L232.8 234.3L233.1 234.2L233.4 234.1L233.7 233.9L234.0 233.6L234.3 233.2L234.6 232.8L234.9 232.4L235.2 232.1L235.5 231.8L235.8 231.6L236.1 231.5L236.4 231.5L236.7 231.6L237.0 231.9L237.3 232.2L237.6 232.6L237.9 232.9L238.2 233.3L238.5 233.6L238.8 233.8L239.1 234.0L239.4 234.2L239.7 234.2L240.0 234.3L240.3 234.3L240.6 234.3L240.9 234.3L241.2 234.3L241.5 234.3L241.8 234.2L242.1 234.1L242.4 234.0L242.7 233.9L243.0 233.8L243.3 233.7L243.6 233.6L243.9 233.5L244.2 233.5L244.5 233.5L244.8 233.5L245.1 233.5L245.4 233.6L245.7 233.7L246.0 233.8L246.3 233.9L246.6 234.0L246.9 234.0L247.2 234.1L247.5 234.2L247.8 234.2L248.1 234.3L248.4 234.3L248.7 234.3L249.0 234.3L249.3 234.3L249.6 234.3L249.9 234.3L250.2 234.3L250.5 234.3L250.8 234.2L251.1 234.2L251.4 234.1L251.7 234.1L252.0 234.0L252.3 233.9L252.6 233.8L252.9 233.7L253.2 233.6L253.5 233.5L253.8 233.5L254.1 233.4L254.4 233.4L254.7 233.5L255.0 233.5L255.3 233.6L255.6 233.7L255.9 233.8L256.2 233.9L256.5 234.0L256.8 234.1L257.1 234.2L257.4 234.2L257.7 234.3L258.0 234.3L258.3 234.3L258.6 234.3L258.9 234.3L259.2 234.3L259.5 234.2L259.8 234.2L260.1 234.1L260.4 233.9L260.7 233.7L261.0 233.5L261.3 233.2L261.6 232.8L261.9 232.5L262.2 232.2L262.5 231.8L262.8 231.5L263.1 231.1L263.4 230.8L263.7 230.4L264.0 230.1L264.3 229.8L264.6 229.6L264.9 229.4L265.2 229.4L265.5 229.4L265.8 229.6L266.1 230.0L266.4 230.4L266.7 230.9L267.0 231.4L267.3 232.0L267.6 232.5L267.9 232.9L268.2 233.3L268.5 233.6L268.8 233.8L269.1 234.0L269.4 234.0L269.7 234.1L270.0 234.1L270.3 234.0L270.6 234.0L270.9 233.9L271.2 233.8L271.5 233.8L271.8 233.7L272.1 233.7L272.4 233.6L272.7 233.6L273.0 233.6L273.3 233.6L273.6 233.7L273.9 233.7L274.2 233.8L274.5 233.8L274.8 233.9L275.1 234.0L275.4 234.0L275.7 234.1L276.0 234.2L276.3 234.2L276.6 234.2L276.9 234.3L277.2 234.3L277.5 234.3L277.8 234.3L278.1 234.3L278.4 234.3L278.7 234.3L279.0 234.3L279.3 234.3L279.6 234.3L279.9 234.2L280.2 234.2L280.5 234.1L280.8 234.0L281.1 233.9L281.4 233.8L281.7 233.7L282.0 233.6L282.3 233.5L282.6 233.4L282.9 233.3L283.2 233.2L283.5 233.2L283.8 233.2L284.1 233.2L284.4 233.3L284.7 233.4L285.0 233.5L285.3 233.6L285.6 233.7L285.9 233.8L286.2 233.9L286.5 234.0L286.8 234.1L287.1 234.2L287.4 234.2L287.7 234.3L288.0 234.3L288.3 234.3L288.6 234.3L288.9 234.3L289.2 234.3L289.5 234.3L289.8 234.3L290.1 234.3L290.4 234.2L290.7 234.1L291.0 234.1L291.3 234.0L291.6 233.9L291.9 233.7L292.2 233.6L292.5 233.5L292.8 233.4L293.1 233.3L293.4 233.2L293.7 233.2L294.0 233.1L294.3 233.1L294.6 233.2L294.9 233.2L295.2 233.3L295.5 233.4L295.8 233.5L296.1 233.6L296.4 233.7L296.7 233.8L297.0 233.9L297.3 234.0L297.6 234.1L297.9 234.2L298.2 234.2L298.5 234.3L298.8 234.3L299.1 234.3L299.4 234.3L299.7 234.3L300.0 234.3L300.3 234.3L300.6 234.3L300.9 234.3L301.2 234.3L301.5 234.3L301.8 234.2L302.1 234.2L302.4 234.1L302.7 234.1L303.0 234.0L303.3 233.9L303.6 233.8L303.9 233.7L304.2 233.7L304.5 233.6L304.8 233.5L305.1 233.5L305.4 233.5L305.7 233.5L306.0 233.5L306.3 233.5L306.6 233.5L306.9 233.6L307.2 233.6L307.5 233.7L307.8 233.8L308.1 233.9L308.4 234.0L308.7 234.0L309.0 234.1L309.3 234.2L309.6 234.2L309.9 234.2L310.2 234.3L310.5 234.3L310.8 234.3L311.1 234.3L311.4 234.3L311.7 234.3L312.0 234.3L312.3 234.3L312.6 234.3L312.9 234.3L313.2 234.3L313.5 234.2L313.8 234.2L314.1 234.2L314.4 234.1L314.7 234.1L315.0 234.0L315.3 234.0L315.6 233.9L315.9 233.8L316.2 233.8L316.5 233.7L316.8 233.7L317.1 233.7L317.4 233.6L317.7 233.6L318.0 233.6L318.3 233.7L318.6 233.7L318.9 233.7L319.2 233.8L319.5 233.8L319.8 233.9L320.1 233.9L320.4 234.0L320.7 234.0L321.0 234.1L321.3 234.1L321.6 234.2L321.9 234.2L322.2 234.2L322.5 234.3L322.8 234.3L323.1 234.3L323.4 234.3L323.7 234.3L324.0 234.3L324.3 234.3L324.6 234.3L324.9 234.3L325.2 234.3L325.5 234.3L325.8 234.3L326.1 234.2L326.4 234.2L326.7 234.2L327.0 234.2L327.3 234.1L327.6 234.1L327.9 234.0L328.2 234.0L328.5 234.0L328.8 233.9L329.1 233.9L329.4 233.9L329.7 233.8L330.0 233.8L330.3 233.8L330.6 233.8L330.9 233.8L331.2 233.8L331.5 233.9L331.8 233.9L332.1 233.9L332.4 234.0L332.7 234.0L333.0 234.1L333.3 234.1L333.6 234.1L333.9 234.2L334.2 234.2L334.5 234.2L334.8 234.2L335.1 234.3L335.4 234.3" stroke="#1c1c8a" stroke-width="1.9" fill="none"/></g>
<defs><marker id="k0" markerWidth="8" markerHeight="8" refX="4" refY="4" markerUnits="userSpaceOnUse" overflow="visible"><circle cx="4" cy="4" r="2.95" fill="rgb(0,255,255)" fill-opacity="0.48" stroke="rgb(0,255,255)" stroke-opacity="0.5" stroke-width="0.5"/></marker><marker id="k1" markerWidth="8" markerHeight="8" refX="4" refY="4" markerUnits="userSpaceOnUse" overflow="visible"><circle cx="4" cy="4" r="2.95" fill="rgb(11,244,255)" fill-opacity="0.48" stroke="rgb(11,244,255)" stroke-opacity="0.5" stroke-width="0.5"/></marker><marker id="k2" markerWidth="8" markerHeight="8" refX="4" refY="4" markerUnits="userSpaceOnUse" overflow="visible"><circle cx="4" cy="4" r="2.95" fill="rgb(21,234,255)" fill-opacity="0.48" stroke="rgb(21,234,255)" stroke-opacity="0.5" stroke-width="0.5"/></marker><marker id="k3" markerWidth="8" markerHeight="8" refX="4" refY="4" markerUnits="userSpaceOnUse" overflow="visible"><circle cx="4" cy="4" r="2.95" fill="rgb(32,223,255)" fill-opacity="0.48" stroke="rgb(32,223,255)" stroke-opacity="0.5" stroke-width="0.5"/></marker><marker id="k4" markerWidth="8" markerHeight="8" refX="4" refY="4" markerUnits="userSpaceOnUse" overflow="visible"><circle cx="4" cy="4" r="2.95" fill="rgb(42,212,255)" fill-opacity="0.48" stroke="rgb(42,212,255)" stroke-opacity="0.5" stroke-width="0.5"/></marker><marker id="k5" markerWidth="8" markerHeight="8" refX="4" refY="4" markerUnits="userSpaceOnUse" overflow="visible"><circle cx="4" cy="4" r="2.95" fill="rgb(53,202,255)" fill-opacity="0.48" stroke="rgb(53,202,255)" stroke-opacity="0.5" stroke-width="0.5"/></marker><marker id="k6" markerWidth="8" markerHeight="8" refX="4" refY="4" markerUnits="userSpaceOnUse" overflow="visible"><circle cx="4" cy="4" r="2.95" fill="rgb(64,191,255)" fill-opacity="0.48" stroke="rgb(64,191,255)" stroke-opacity="0.5" stroke-width="0.5"/></marker><marker id="k7" markerWidth="8" markerHeight="8" refX="4" refY="4" markerUnits="userSpaceOnUse" overflow="visible"><circle cx="4" cy="4" r="2.95" fill="rgb(74,181,255)" fill-opacity="0.48" stroke="rgb(74,181,255)" stroke-opacity="0.5" stroke-width="0.5"/></marker><marker id="k8" markerWidth="8" markerHeight="8" refX="4" refY="4" markerUnits="userSpaceOnUse" overflow="visible"><circle cx="4" cy="4" r="2.95" fill="rgb(85,170,255)" fill-opacity="0.48" stroke="rgb(85,170,255)" stroke-opacity="0.5" stroke-width="0.5"/></marker><marker id="k9" markerWidth="8" markerHeight="8" refX="4" refY="4" markerUnits="userSpaceOnUse" overflow="visible"><circle cx="4" cy="4" r="2.95" fill="rgb(96,159,255)" fill-opacity="0.48" stroke="rgb(96,159,255)" stroke-opacity="0.5" stroke-width="0.5"/></marker><marker id="k10" markerWidth="8" markerHeight="8" refX="4" refY="4" markerUnits="userSpaceOnUse" overflow="visible"><circle cx="4" cy="4" r="2.95" fill="rgb(106,149,255)" fill-opacity="0.48" stroke="rgb(106,149,255)" stroke-opacity="0.5" stroke-width="0.5"/></marker><marker id="k11" markerWidth="8" markerHeight="8" refX="4" refY="4" markerUnits="userSpaceOnUse" overflow="visible"><circle cx="4" cy="4" r="2.95" fill="rgb(117,138,255)" fill-opacity="0.48" stroke="rgb(117,138,255)" stroke-opacity="0.5" stroke-width="0.5"/></marker><marker id="k12" markerWidth="8" markerHeight="8" refX="4" refY="4" markerUnits="userSpaceOnUse" overflow="visible"><circle cx="4" cy="4" r="2.95" fill="rgb(128,128,255)" fill-opacity="0.48" stroke="rgb(128,128,255)" stroke-opacity="0.5" stroke-width="0.5"/></marker><marker id="k13" markerWidth="8" markerHeight="8" refX="4" refY="4" markerUnits="userSpaceOnUse" overflow="visible"><circle cx="4" cy="4" r="2.95" fill="rgb(138,117,255)" fill-opacity="0.48" stroke="rgb(138,117,255)" stroke-opacity="0.5" stroke-width="0.5"/></marker><marker id="k14" markerWidth="8" markerHeight="8" refX="4" refY="4" markerUnits="userSpaceOnUse" overflow="visible"><circle cx="4" cy="4" r="2.95" fill="rgb(149,106,255)" fill-opacity="0.48" stroke="rgb(149,106,255)" stroke-opacity="0.5" stroke-width="0.5"/></marker><marker id="k15" markerWidth="8" markerHeight="8" refX="4" refY="4" markerUnits="userSpaceOnUse" overflow="visible"><circle cx="4" cy="4" r="2.95" fill="rgb(159,96,255)" fill-opacity="0.48" stroke="rgb(159,96,255)" stroke-opacity="0.5" stroke-width="0.5"/></marker><marker id="k16" markerWidth="8" markerHeight="8" refX="4" refY="4" markerUnits="userSpaceOnUse" overflow="visible"><circle cx="4" cy="4" r="2.95" fill="rgb(170,85,255)" fill-opacity="0.48" stroke="rgb(170,85,255)" stroke-opacity="0.5" stroke-width="0.5"/></marker><marker id="k17" markerWidth="8" markerHeight="8" refX="4" refY="4" markerUnits="userSpaceOnUse" overflow="visible"><circle cx="4" cy="4" r="2.95" fill="rgb(181,74,255)" fill-opacity="0.48" stroke="rgb(181,74,255)" stroke-opacity="0.5" stroke-width="0.5"/></marker><marker id="k18" markerWidth="8" markerHeight="8" refX="4" refY="4" markerUnits="userSpaceOnUse" overflow="visible"><circle cx="4" cy="4" r="2.95" fill="rgb(191,64,255)" fill-opacity="0.48" stroke="rgb(191,64,255)" stroke-opacity="0.5" stroke-width="0.5"/></marker><marker id="k19" markerWidth="8" markerHeight="8" refX="4" refY="4" markerUnits="userSpaceOnUse" overflow="visible"><circle cx="4" cy="4" r="2.95" fill="rgb(202,53,255)" fill-opacity="0.48" stroke="rgb(202,53,255)" stroke-opacity="0.5" stroke-width="0.5"/></marker><marker id="k20" markerWidth="8" markerHeight="8" refX="4" refY="4" markerUnits="userSpaceOnUse" overflow="visible"><circle cx="4" cy="4" r="2.95" fill="rgb(212,42,255)" fill-opacity="0.48" stroke="rgb(212,42,255)" stroke-opacity="0.5" stroke-width="0.5"/></marker><marker id="k21" markerWidth="8" markerHeight="8" refX="4" refY="4" markerUnits="userSpaceOnUse" overflow="visible"><circle cx="4" cy="4" r="2.95" fill="rgb(223,32,255)" fill-opacity="0.48" stroke="rgb(223,32,255)" stroke-opacity="0.5" stroke-width="0.5"/></marker><marker id="k22" markerWidth="8" markerHeight="8" refX="4" refY="4" markerUnits="userSpaceOnUse" overflow="visible"><circle cx="4" cy="4" r="2.95" fill="rgb(234,21,255)" fill-opacity="0.48" stroke="rgb(234,21,255)" stroke-opacity="0.5" stroke-width="0.5"/></marker><marker id="k23" markerWidth="8" markerHeight="8" refX="4" refY="4" markerUnits="userSpaceOnUse" overflow="visible"><circle cx="4" cy="4" r="2.95" fill="rgb(244,11,255)" fill-opacity="0.48" stroke="rgb(244,11,255)" stroke-opacity="0.5" stroke-width="0.5"/></marker><marker id="k24" markerWidth="8" markerHeight="8" refX="4" refY="4" markerUnits="userSpaceOnUse" overflow="visible"><circle cx="4" cy="4" r="2.95" fill="rgb(255,0,255)" fill-opacity="0.48" stroke="rgb(255,0,255)" stroke-opacity="0.5" stroke-width="0.5"/></marker></defs>
<g clip-path="url(#cr)" fill="none" stroke="none">
<polyline points="629.4,149.9 632.2,151.7 634.8,151.1 638.0,153.2 640.0,154.5 643.2,156.5 646.4,157.0 648.4,157.3 651.9,159.8 654.6,159.0 657.8,157.5 659.8,158.1 663.4,156.7 665.8,156.2 668.8,154.1 671.2,152.9 671.4,152.5 675.3,152.6 679.1,149.9 682.0,148.9" marker-start="url(#k0)" marker-mid="url(#k0)" marker-end="url(#k0)"/>
<polyline points="446.9,106.8 449.8,107.0 452.8,106.2 455.6,105.9 457.4,104.6 460.6,105.3 463.3,106.9 465.7,104.9 469.8,107.5 472.6,108.0 476.2,108.3 477.0,109.0 481.8,109.5 484.1,112.0 486.7,113.6 489.9,116.0 492.5,115.1 493.9,116.3 497.3,118.1 498.8,120.8 500.4,121.9 501.6,123.2" marker-start="url(#k1)" marker-mid="url(#k1)" marker-end="url(#k1)"/>
<polyline points="673.3,145.0 677.3,143.6 679.4,142.6" marker-start="url(#k1)" marker-mid="url(#k1)" marker-end="url(#k1)"/>
<polyline points="395.4,142.5 397.5,139.8 400.8,139.6 403.8,137.9 407.0,136.2 409.1,135.3 409.8,133.1 412.3,133.7 415.3,131.8 415.2,130.5 419.7,128.2 421.1,127.3 425.2,125.2 425.8,125.6 428.1,123.0 430.8,121.0 433.2,119.7 436.0,119.3 439.3,118.2 440.9,115.8 442.5,115.6" marker-start="url(#k1)" marker-mid="url(#k1)" marker-end="url(#k1)"/>
<polyline points="605.3,110.7 607.3,112.9 610.4,113.5 612.2,113.2 613.9,114.4 617.5,116.4 620.0,115.9 622.0,116.1 626.1,117.9 629.5,118.2 630.0,119.5 633.7,120.6 635.3,122.3 638.2,123.2 641.4,124.5 643.3,127.1 645.7,126.5 648.5,129.2 651.1,129.6 654.6,130.0 655.0,131.7 659.0,132.1 662.3,134.1 663.7,135.2 666.9,134.7 669.9,136.7 671.9,138.2 675.4,138.2 677.8,140.2 679.8,140.5 683.0,142.7" marker-start="url(#k1)" marker-mid="url(#k1)" marker-end="url(#k1)"/>
<polyline points="426.6,114.5 430.3,115.2 434.5,116.6 437.2,117.5 438.3,118.6 440.2,120.3 443.0,121.6 444.2,124.1 448.5,125.2 450.2,125.2" marker-start="url(#k1)" marker-mid="url(#k1)" marker-end="url(#k1)"/>
<polyline points="448.4,112.3 447.5,111.8 451.6,112.0 455.1,110.5 455.8,109.8 460.9,110.2 461.5,109.9 467.0,111.8 469.4,111.0 471.1,111.0 474.5,112.9 477.4,113.3 478.6,114.2 481.1,116.5 482.8,116.9 487.5,119.6 489.8,120.5 491.9,120.4 494.3,123.7 498.0,124.6 501.9,125.9 502.1,127.9" marker-start="url(#k1)" marker-mid="url(#k1)" marker-end="url(#k1)"/>
<polyline points="599.8,81.7 603.7,79.4 604.9,81.1 608.7,80.3 609.2,80.4 613.5,82.2 616.4,82.3 617.9,82.1 621.8,84.5 625.2,85.5 627.2,86.5 630.3,85.5 633.2,86.2 634.5,87.2 638.9,87.4 640.8,88.6 645.3,89.1 646.3,89.4 649.4,89.7 652.0,91.6 656.1,93.2 658.0,93.0 660.2,93.8 662.3,96.1 663.8,98.6 667.6,97.1 670.4,99.7 672.4,101.5 675.2,100.8 676.5,104.0 681.2,106.1 684.1,104.3" marker-start="url(#k1)" marker-mid="url(#k1)" marker-end="url(#k1)"/>
<polyline points="637.6,149.8 641.0,152.0 641.7,153.8 645.7,151.2 648.2,152.4 650.8,152.9 654.5,152.3 656.5,154.8 658.4,153.6 661.9,152.8 665.0,153.2 666.5,154.2 670.5,152.4 672.2,151.5 676.4,151.4 678.5,150.7" marker-start="url(#k1)" marker-mid="url(#k1)" marker-end="url(#k1)"/>
<polyline points="416.5,98.4 419.3,98.9 422.0,100.0 423.9,99.4 425.9,100.1 428.5,101.9 431.8,103.1" marker-start="url(#k1)" marker-mid="url(#k1)" marker-end="url(#k1)"/>
<polyline points="542.6,168.6 541.1,165.4 543.4,161.9 544.7,160.3 546.0,156.5 547.3,155.6 549.2,151.4 550.6,150.6 552.0,148.2 555.2,146.0 557.7,142.8 559.4,140.6 560.2,140.0 563.0,137.2 563.7,135.6 566.3,132.5 568.2,131.7 569.2,130.0 573.1,127.6 575.9,127.0 577.3,124.6 581.0,122.8 583.0,122.5 586.1,122.4 589.0,122.5 591.8,121.1 593.8,121.7 597.9,122.1" marker-start="url(#k1)" marker-mid="url(#k1)" marker-end="url(#k1)"/>
<polyline points="443.4,120.0 446.7,120.6 449.4,120.1 452.6,122.5 455.6,124.3 457.2,123.2 460.0,125.5 461.0,125.8 463.3,125.2 465.4,127.3 470.2,128.5 472.0,128.9 475.2,129.2 478.6,129.3 480.0,129.9 483.6,131.0 486.6,129.6 488.7,130.8 492.2,132.4 494.3,133.8 496.7,134.3 499.8,136.9 501.9,136.7" marker-start="url(#k1)" marker-mid="url(#k1)" marker-end="url(#k1)"/>
<polyline points="504.2,195.5 507.3,193.5 508.8,192.5 512.0,189.3 516.0,187.4 517.3,187.0 519.3,186.0 523.6,181.5 524.0,181.5 526.6,178.5 530.2,177.0 532.4,174.3 534.4,173.0 536.9,170.0 539.1,167.5 541.6,164.9 543.1,163.2 547.0,160.5 548.5,158.6 550.8,156.0 552.2,154.2 554.1,150.6 556.1,147.8 558.0,147.4 560.9,145.1 562.7,142.9 563.2,139.8 565.2,137.7 568.4,136.6 570.4,134.9 572.8,133.8 573.6,131.1 575.9,128.5 578.9,129.0 580.6,126.3 584.2,123.2 586.3,123.5 588.1,123.2 591.8,120.8 593.4,119.6 595.8,117.8" marker-start="url(#k1)" marker-mid="url(#k1)" marker-end="url(#k1)"/>
<polyline points="437.0,117.8 439.2,116.0 442.8,118.0 444.3,115.6 446.3,116.4 449.3,115.7 453.8,114.2 457.5,116.1 458.1,113.8 461.8,114.6 464.3,114.2 466.8,118.4 468.7,117.8 470.9,119.5 474.4,121.4 477.3,120.7 480.1,121.7 481.1,123.4 484.8,124.5 487.8,125.3 490.4,128.2 491.6,129.5 494.6,128.9 498.9,131.0 500.4,132.9 500.4,133.8" marker-start="url(#k1)" marker-mid="url(#k1)" marker-end="url(#k1)"/>
<polyline points="524.6,159.0 525.8,157.9 530.0,155.8 531.3,152.8 533.0,150.9 535.1,148.9 538.0,146.3 539.8,144.4 541.9,143.5 543.9,141.6 544.4,139.0 547.7,137.9 548.2,135.6 552.2,133.5 553.1,132.1 555.8,129.9 558.2,127.2 560.0,124.7 564.1,122.4 565.5,120.1 568.7,117.8 571.3,115.8 572.3,114.9 575.7,113.4 578.9,111.3 581.0,109.5 584.1,109.4 586.0,107.9 587.8,106.4 591.7,105.6 594.2,103.7 596.9,103.5 598.5,103.1" marker-start="url(#k1)" marker-mid="url(#k1)" marker-end="url(#k1)"/>
<polyline points="596.6,112.5 601.3,112.8 602.5,113.0 606.0,112.8 609.1,116.1 611.3,116.2 614.1,117.9 617.3,118.7 618.5,119.4 621.6,122.0 623.9,121.1 626.4,121.5 630.1,123.3 631.4,123.8" marker-start="url(#k1)" marker-mid="url(#k1)" marker-end="url(#k1)"/>
<polyline points="407.2,128.4 410.0,126.9 414.2,128.1 417.0,129.2 419.4,128.1 422.1,130.5 424.3,130.3" marker-start="url(#k2)" marker-mid="url(#k2)" marker-end="url(#k2)"/>
<polyline points="631.0,149.1 632.6,149.7 636.4,150.1 638.1,150.5 642.7,151.1 644.4,149.2 649.4,149.0 649.1,149.2 653.3,149.8 653.8,149.4 658.0,148.6 659.4,147.8 662.8,147.8 665.4,147.8 667.9,145.3 670.8,146.8 673.6,146.8 677.2,143.3 678.9,143.5" marker-start="url(#k2)" marker-mid="url(#k2)" marker-end="url(#k2)"/>
<polyline points="508.1,151.8 510.6,148.6 514.7,146.1 515.0,144.3 518.1,143.4 520.0,139.9 522.2,138.7 522.9,136.8 525.9,135.8 530.9,134.8 531.4,131.2 534.5,130.8 536.4,128.2 541.0,126.8 541.4,125.7 544.6,123.7" marker-start="url(#k5)" marker-mid="url(#k5)" marker-end="url(#k5)"/>
<polyline points="479.8,177.1 482.4,177.9 485.9,174.9 487.0,173.3 490.8,171.6 493.6,169.1 494.4,169.8 495.2,167.6 497.4,164.9 500.7,164.0 500.6,160.3 504.6,160.1 506.4,158.2 508.3,156.4 510.6,155.1 513.8,154.1 514.9,150.9 517.5,149.1 519.5,146.2 521.9,144.8 523.0,142.5 526.7,141.7 528.8,140.1 528.7,137.2 532.8,135.2 533.4,133.7 536.0,131.2 538.0,129.5" marker-start="url(#k5)" marker-mid="url(#k5)" marker-end="url(#k5)"/>
<polyline points="655.8,104.7 658.9,107.6 660.5,107.7 664.1,110.1 664.5,114.1 666.6,114.8 668.8,118.3 671.5,121.4 674.6,122.1 674.1,125.0 676.9,128.9 678.4,130.2 679.1,131.7" marker-start="url(#k5)" marker-mid="url(#k5)" marker-end="url(#k5)"/>
<polyline points="395.9,134.8 396.2,137.6 398.8,140.1 398.9,141.2 402.1,144.5 404.5,145.8 405.7,150.6 407.9,152.0 409.2,154.2 412.4,156.0 413.8,157.5 415.2,161.1 416.0,163.4 417.9,164.1 420.2,168.2 422.3,169.5 423.3,170.9 424.8,172.3 428.2,174.6 430.9,176.7 432.0,180.0 433.9,180.0 437.7,183.4 437.3,184.9 441.0,187.9 443.0,187.8 445.1,188.9 447.6,190.0 449.6,191.1 452.0,192.5 455.5,194.3 457.7,196.1 461.3,196.1 463.8,198.2 467.0,197.7 467.7,196.9 470.7,197.0 475.4,196.4 478.2,195.4 481.0,194.0 483.1,194.2 486.0,192.5 489.4,190.8 489.9,187.3 493.8,187.2 493.9,186.4 498.0,183.2 497.8,181.5 500.3,178.3 503.3,175.5 504.8,175.2 507.7,172.8 506.5,169.5 509.9,167.9 512.4,163.7 513.3,163.2 516.5,161.2 516.9,157.9 520.3,155.2 521.4,152.0 522.1,147.4 525.2,145.3 525.9,142.9 527.0,141.3 527.9,138.9 530.2,136.5 530.8,134.9" marker-start="url(#k5)" marker-mid="url(#k5)" marker-end="url(#k5)"/>
<polyline points="423.3,152.4 424.6,155.6 423.5,156.3 427.0,159.7 429.5,161.6 431.7,162.8 432.5,164.9 434.6,168.0 436.6,169.8 438.7,173.0 441.0,175.2 441.7,177.3 444.1,178.4 446.6,181.9 449.3,182.3 450.3,184.2 452.4,185.7 454.7,186.3 458.7,187.7 459.9,189.1 462.9,189.4 465.7,188.6 468.6,188.6 471.7,188.2 475.2,188.9 477.2,187.4 479.8,184.9 481.2,184.9 484.8,183.2 485.8,181.8 488.3,179.1 491.0,177.9 493.8,176.8 495.8,174.4 496.5,171.7 498.3,172.5 500.7,168.3" marker-start="url(#k5)" marker-mid="url(#k5)" marker-end="url(#k5)"/>
<polyline points="485.8,168.7 488.4,166.8 490.8,166.2 494.2,165.7 496.5,165.2 499.4,164.4 502.3,162.5 503.8,161.5 506.8,160.0 509.7,158.1 511.9,156.5 515.0,156.0 516.6,152.8 517.7,151.6 520.7,150.8 522.5,149.7 525.4,145.7 527.3,143.6 529.4,143.5 531.8,142.0 534.3,140.2 538.0,140.0 538.3,138.5 540.2,135.4 544.9,132.9 546.4,132.2 548.2,131.7 551.8,130.0 553.3,129.7 555.9,127.3 558.8,126.9 562.2,125.1 564.0,125.2" marker-start="url(#k6)" marker-mid="url(#k6)" marker-end="url(#k6)"/>
<polyline points="469.9,199.9 472.6,198.3 474.7,197.8 476.9,197.1 480.6,193.8 483.1,193.3 486.0,192.3 487.6,189.0 489.5,187.3 491.5,186.6 494.2,184.4 495.7,183.4 498.0,180.6 500.3,179.4 501.7,178.4 505.2,176.0 506.8,174.4 508.7,172.8 512.1,170.3 513.2,169.1 514.7,165.7 517.8,163.5 520.5,163.4 521.4,160.8 524.6,158.0 524.5,156.2 527.3,153.8 529.7,152.5 531.2,151.4 532.7,147.3 535.9,146.2 538.1,143.7 539.0,141.7" marker-start="url(#k6)" marker-mid="url(#k6)" marker-end="url(#k6)"/>
<polyline points="393.5,146.4 395.3,148.6 397.8,151.0 399.8,152.9 401.7,154.1 402.8,155.3 405.0,158.6 406.6,162.0 406.8,163.5 409.0,166.4 410.8,168.2 412.2,170.2 412.0,174.3 414.0,175.6 415.3,177.3 417.5,180.3 420.1,183.4 420.6,185.9 423.2,187.9 423.7,190.8 426.7,192.9 428.1,195.6 429.0,196.4 429.5,199.4 431.0,201.1 435.0,203.1 436.9,204.6 438.4,208.2 441.3,209.5 444.9,212.1 445.4,213.8 448.1,214.1 451.2,216.1 453.1,216.4 457.0,216.8 459.3,216.8 461.8,216.3 465.6,213.5 468.1,213.7 469.9,211.9 472.2,209.9 475.8,208.5 476.0,208.2 478.9,206.0 481.8,203.1 482.0,202.2 485.6,199.4 486.3,198.7 489.6,194.9 491.6,192.8 492.4,190.9 494.2,188.9 496.2,187.8 498.7,185.7 501.2,182.8 502.4,181.4 505.5,179.5 507.2,177.4 509.1,173.0 511.1,172.1 512.4,169.4" marker-start="url(#k6)" marker-mid="url(#k6)" marker-end="url(#k6)"/>
<polyline points="509.7,178.3 512.8,175.1 514.7,173.7 515.8,172.7 518.5,170.1 520.3,168.9 523.0,166.0 524.4,164.9 527.8,161.8 529.7,160.2 533.3,158.2 532.5,157.2 534.3,155.8 538.2,152.9 538.9,150.9 540.6,150.4 543.2,146.7 545.5,146.2 546.6,142.9 548.2,140.7 550.4,139.1 550.2,138.0 553.9,136.1 555.5,133.5 558.3,131.7 559.6,131.8 561.1,127.6 564.4,124.9 564.2,122.6 567.3,122.3 569.9,118.5 572.7,118.3 574.0,115.7 576.8,114.4 578.9,111.7 581.0,109.8 583.8,109.5" marker-start="url(#k6)" marker-mid="url(#k6)" marker-end="url(#k6)"/>
<polyline points="403.9,150.2 405.3,152.4 408.5,153.7 411.8,154.5 414.5,157.1 415.9,159.0 417.1,160.6 420.2,162.5 422.5,163.1 425.3,165.0 426.4,166.4 430.6,167.9 431.2,169.9" marker-start="url(#k6)" marker-mid="url(#k6)" marker-end="url(#k6)"/>
<polyline points="492.6,143.4 495.9,143.2 498.1,140.3 500.0,137.8 502.3,135.7 504.1,135.2 505.0,132.8 509.1,132.4 509.7,129.6 512.3,126.4 516.5,126.3 516.9,124.2 520.1,122.5 523.4,121.0 521.7,118.4 525.5,116.5 528.1,114.3 529.5,113.7 532.8,110.0 534.7,109.0 536.9,105.8 538.6,104.4 541.3,103.0 541.1,101.5 543.7,99.8" marker-start="url(#k7)" marker-mid="url(#k7)" marker-end="url(#k7)"/>
<polyline points="589.0,63.5 589.7,60.9 592.0,59.5 595.5,58.2 596.0,56.7 597.6,54.0 600.8,51.5 603.7,48.8 606.1,47.4 609.6,45.5 611.0,44.7 611.4,43.8 614.3,39.7 618.5,41.1 620.6,39.2 624.5,39.3 625.6,39.0 627.9,38.0 630.7,36.9 633.4,39.7 636.2,38.7 638.9,40.2 642.5,40.5 645.2,40.0 647.3,42.3 650.7,43.2 651.1,44.5 655.9,46.5 658.6,46.2 662.2,46.9 665.1,48.5 667.7,50.9 669.4,51.2 671.2,53.4 672.1,54.2 676.6,55.2 679.1,57.3 680.7,58.6" marker-start="url(#k16)" marker-mid="url(#k16)" marker-end="url(#k16)"/>
<polyline points="612.2,78.3 615.0,77.6 617.8,75.3 618.7,74.9 621.4,72.4 625.7,72.1 629.1,70.9 629.4,69.9 633.5,69.3 637.2,69.0 637.8,69.3 640.7,70.1 644.5,67.9 647.9,70.9 648.3,70.2 652.9,70.1 655.6,70.9 657.5,72.4 659.8,73.6 664.7,72.3 666.3,75.3 668.7,75.4 671.5,77.7 674.1,78.3 677.2,79.4 678.5,79.9" marker-start="url(#k16)" marker-mid="url(#k16)" marker-end="url(#k16)"/>
<polyline points="392.9,96.1 395.6,97.5 399.8,99.1 402.0,99.4 405.0,100.3 407.7,103.0 410.2,103.5 413.4,106.3 415.0,105.6 418.6,105.9 421.5,107.5 423.0,108.8 426.6,110.5 428.4,111.8 431.3,110.5 434.4,113.1 435.8,115.1 438.5,116.2 441.7,117.3 445.2,118.4 446.7,119.8 449.9,121.7" marker-start="url(#k16)" marker-mid="url(#k16)" marker-end="url(#k16)"/>
<polyline points="532.2,144.3 533.1,141.4 535.6,138.8 536.4,137.4 539.1,135.4 541.8,132.6 543.3,130.5 544.5,128.4 544.9,125.8 547.8,122.5 548.7,120.4 550.5,118.8 553.6,114.3 555.1,113.5 557.0,110.1 559.0,107.6 559.8,105.1 562.5,104.7 564.6,99.5 567.3,97.1 568.6,94.0 571.4,91.6 572.4,90.4 573.7,87.1 576.2,85.1 576.7,82.3 578.7,79.3 580.7,78.4 584.2,77.2 584.8,72.4 586.0,72.2 587.4,68.7 589.9,68.3 591.4,65.9 595.5,62.7 597.1,59.6 599.0,58.6 599.4,57.3 603.9,54.1 604.9,53.3 607.8,52.4 610.2,50.5 613.9,49.9 616.4,49.2 619.5,48.8 622.6,48.7 625.3,49.5 626.3,49.4 631.5,48.4 632.9,49.3 636.0,50.6 637.9,52.1 640.5,51.9 644.7,54.7 646.2,55.1 649.5,54.7 650.9,56.3 653.6,58.3 656.3,61.1 658.8,63.7 660.6,64.0 663.4,66.3 665.1,67.7 668.9,68.5 669.9,71.4 671.9,72.4 675.9,75.1 678.1,77.1 678.9,80.3" marker-start="url(#k17)" marker-mid="url(#k17)" marker-end="url(#k17)"/>
<polyline points="393.8,109.3 396.4,111.5 399.1,112.5 400.9,113.3 405.6,114.7 407.9,115.7 411.3,118.7 412.8,118.5 417.1,120.2 418.7,120.7 421.3,122.2 422.1,122.9 424.8,125.6 429.4,125.2 431.9,128.8 433.3,129.1 436.5,129.1 437.9,130.0 441.0,129.8 444.1,132.5 446.6,133.6 451.0,133.8 450.6,136.7 455.5,136.6 457.6,137.9 459.7,140.0 462.9,142.6 463.3,144.9 465.4,143.8 470.1,144.8 470.8,146.7 474.1,148.1 475.7,149.1 479.2,151.3 481.5,150.3 483.8,152.0 487.3,152.3 489.5,154.1 493.0,156.8 495.0,158.0 497.1,159.2 499.6,160.4" marker-start="url(#k17)" marker-mid="url(#k17)" marker-end="url(#k17)"/>
<polyline points="640.0,58.1 642.2,62.9 646.3,63.6 647.5,64.8 650.3,67.0 651.8,68.8 655.9,69.3 657.4,72.0 660.5,73.0 662.1,74.7 665.3,77.0 667.6,77.4 669.5,80.7 672.0,82.1 674.9,83.0 677.6,86.2 680.2,86.1 681.2,88.0" marker-start="url(#k17)" marker-mid="url(#k17)" marker-end="url(#k17)"/>
<polyline points="395.5,94.9 397.8,96.2 398.2,97.3 401.9,99.4 403.4,100.4 406.3,102.9 409.1,104.1 410.9,104.5 412.1,106.8 416.0,108.9 417.9,109.2 418.7,112.8 422.0,112.7 425.0,115.6 428.8,118.1 429.2,118.7 431.4,120.5 432.4,122.9 436.0,121.8 437.6,124.9 441.1,127.1 443.7,127.6 444.1,131.1 446.7,131.0 449.1,132.7 452.2,135.6 452.9,135.9 456.4,137.5 459.3,138.8 460.9,139.4 462.8,141.3 466.9,143.6 469.3,145.8 472.3,144.8 475.4,145.4 478.0,145.5 481.1,147.9 483.5,148.6 485.1,148.4 490.0,149.8 491.1,150.1 494.6,151.5 497.9,150.4 499.5,151.4 502.5,149.2 504.4,148.9 507.8,149.6" marker-start="url(#k17)" marker-mid="url(#k17)" marker-end="url(#k17)"/>
<polyline points="515.7,195.9 517.8,194.1 521.9,192.8 524.2,189.4 525.3,188.2 526.7,187.0 532.3,184.6 533.9,182.3 535.9,180.8 537.9,179.1 539.2,176.6 542.1,175.6 544.9,171.1 544.4,170.0 547.7,168.7 550.0,167.3 550.9,163.5 553.9,162.5 555.5,160.2 557.4,159.8 558.2,155.7 561.7,155.8 563.0,151.7 563.5,150.8 565.9,150.2 570.5,146.7 571.0,144.4 573.4,142.5 574.4,141.6 576.7,140.3 576.9,136.5 579.3,135.7 581.5,133.7 583.5,130.8 588.6,129.8 588.0,126.8 592.6,124.1 593.3,123.5 596.4,121.9 599.0,121.4 601.0,117.7 604.7,117.0" marker-start="url(#k17)" marker-mid="url(#k17)" marker-end="url(#k17)"/>
<polyline points="393.0,92.0 395.8,91.9 399.4,92.2 403.4,91.9 405.1,94.0 409.3,96.7 411.9,97.5 412.2,97.3 415.3,97.7 419.0,98.8 422.3,98.1 423.1,99.4 425.0,102.3 428.9,103.8 432.1,103.8 433.0,105.7 435.7,105.2 437.9,107.5 442.2,108.7 444.7,110.0 445.9,113.3 450.1,112.8 450.6,112.8 454.1,115.1 456.6,116.9 459.4,119.0 462.2,119.2 464.2,121.7 466.5,123.1 470.2,123.8" marker-start="url(#k17)" marker-mid="url(#k17)" marker-end="url(#k17)"/>
<polyline points="622.7,55.6 625.2,55.0 628.8,55.4 630.8,56.1 634.4,55.4 637.4,56.2 638.6,56.2 641.2,55.5 646.0,57.2 648.5,57.6 651.8,57.3 653.3,59.7 657.8,61.7 659.8,61.9 663.0,64.2 662.8,67.1 664.8,66.3 667.9,67.8 670.8,70.6 672.8,73.7 673.8,75.2 676.7,77.3 681.0,80.1" marker-start="url(#k18)" marker-mid="url(#k18)" marker-end="url(#k18)"/>
<polyline points="566.0,76.9 568.2,75.8 568.5,74.5 570.9,73.2 574.6,69.6 576.2,67.5 578.1,67.9 580.1,63.6 583.8,61.4 584.9,58.9 588.5,58.8 590.3,55.6 592.6,55.5 594.2,52.9 597.2,51.9 600.0,51.5 602.5,51.1 605.4,50.0 608.5,49.8 610.2,48.5 614.4,48.7 617.3,49.2 618.8,49.5 621.7,49.9 626.1,50.4 629.1,49.0 629.7,50.8 632.6,52.1 635.4,53.7 639.1,54.3 640.4,55.6 644.4,56.9 646.2,58.9 648.0,58.9 651.2,61.0 653.7,61.8 654.3,62.7 657.3,65.8 660.5,65.5 662.6,68.5 663.7,72.0 667.0,72.8 671.0,73.7" marker-start="url(#k18)" marker-mid="url(#k18)" marker-end="url(#k18)"/>
<polyline points="599.7,61.1 601.7,60.4 605.9,61.5 609.0,60.4 612.3,62.1 613.6,61.4 617.1,61.5 621.4,62.6 623.5,62.6 626.6,65.2 630.6,63.8 631.8,66.4 634.6,66.6 636.9,67.2 640.1,69.2 643.4,70.7 644.3,72.5 648.5,72.7 648.7,74.2 651.5,77.2 654.0,77.1 658.6,79.3 659.6,79.4 662.4,81.2 666.4,82.7 666.9,85.0 671.3,85.5 673.5,86.9 674.6,88.2 677.2,89.1 679.9,91.1 683.1,91.0" marker-start="url(#k18)" marker-mid="url(#k18)" marker-end="url(#k18)"/>
<polyline points="583.7,62.1 587.1,59.9 587.3,58.7 592.6,56.9 594.0,54.2 595.4,52.0 597.3,50.2 599.4,48.8 602.5,47.4 605.1,45.1 607.9,43.2 609.8,42.3 613.3,41.5 615.7,40.9 616.5,39.0 621.1,39.8 624.2,39.6 626.3,38.5 628.9,38.1 631.4,38.2 634.6,38.4 637.5,37.9 640.5,40.0 643.3,40.3 645.3,42.2 648.3,43.9 650.1,43.4 653.1,44.2 656.1,45.8 659.6,46.6 661.7,47.7 663.2,51.2 666.2,51.9 668.6,53.6 670.9,55.9 671.9,56.5 675.5,58.8 677.7,61.1 679.2,60.9" marker-start="url(#k18)" marker-mid="url(#k18)" marker-end="url(#k18)"/>
<polyline points="506.8,204.3 508.0,204.4 510.8,204.9 514.5,203.7 517.0,202.4 519.8,199.6 520.8,200.3 524.0,198.7 527.4,197.4 529.6,196.8 531.7,194.5 533.7,194.3 536.4,192.3 538.0,188.4 539.6,187.6 542.8,186.5 544.0,182.4 545.6,180.2 546.9,177.0 549.1,175.3 551.0,171.6 551.2,172.9 552.9,168.0 555.5,164.6 558.1,162.9 558.5,161.8 559.4,157.7 561.3,154.6 563.4,153.5 565.0,151.2 567.2,148.4 568.0,146.6 569.3,144.4 571.2,141.8 574.5,137.2 574.9,136.2 578.2,134.0 580.8,130.8 580.6,129.2 582.1,126.2 582.5,122.9 584.1,120.8 584.7,119.4 587.5,118.0 588.7,116.1 592.4,114.3 594.0,113.5 597.7,112.2 600.1,111.0 603.3,109.9 604.5,107.4 606.1,107.6 609.4,106.4 611.9,104.9 614.3,104.2 617.3,104.4 619.5,102.8" marker-start="url(#k18)" marker-mid="url(#k18)" marker-end="url(#k18)"/>
<polyline points="393.2,99.7 396.3,102.0 399.9,102.2 402.8,102.4 406.7,105.4 408.6,105.5 411.8,106.4 413.7,107.1 416.1,108.1 419.3,109.2 421.0,110.0 422.6,112.6 426.6,113.2 428.4,114.7 431.4,115.9 433.7,115.9 435.9,117.2 438.9,119.5 442.4,119.7 444.7,118.9 445.9,122.4 449.4,123.9 451.2,124.6 453.2,127.8 457.1,128.6 458.8,128.6 461.7,130.3 463.7,131.6 465.8,132.3 468.6,133.3 471.7,136.3 473.2,135.7 476.5,138.6 478.8,138.7 479.8,142.4 483.6,142.7 486.2,144.0 488.1,144.7 491.0,145.5 494.3,146.3 497.0,148.2 499.1,149.9" marker-start="url(#k18)" marker-mid="url(#k18)" marker-end="url(#k18)"/>
<polyline points="392.0,87.4 396.0,89.4 397.9,89.4 400.4,91.3 401.5,91.3 406.9,92.7 407.4,94.0 410.2,94.8 411.5,97.7 414.9,96.2 417.2,99.0 420.2,100.4 422.7,101.2 425.1,101.0 427.0,101.8 429.3,103.8 433.9,104.8 435.0,105.2 437.6,107.9 440.8,109.9 442.0,109.9 444.2,110.6 447.4,112.9 449.6,113.6 452.5,116.0 455.4,118.0 456.3,119.3 459.2,121.6 462.1,121.5 464.1,122.3 467.6,126.6 467.5,126.4 471.0,127.6 474.3,130.7 475.5,133.1 477.8,133.2 480.3,134.9 483.1,137.7 483.7,138.9 485.5,141.2 487.6,143.1 490.6,145.7 493.7,147.6" marker-start="url(#k18)" marker-mid="url(#k18)" marker-end="url(#k18)"/>
<polyline points="595.8,58.7 597.9,57.7 600.8,55.7 602.0,54.8 606.0,54.7 607.9,51.2 610.6,50.1 611.7,49.6 614.0,48.6 617.8,47.1 619.9,46.3 623.7,44.5 626.8,42.0 629.1,43.2 630.9,42.8 634.7,41.7 636.9,42.0 640.1,42.8 642.2,42.8 644.3,42.2 646.7,42.4 651.3,44.4 653.5,43.0 657.0,44.5 659.1,46.3 662.5,45.6 664.5,48.3 666.0,48.4 669.0,50.7 670.8,52.5 673.4,54.3 677.1,56.0 679.6,58.7 681.2,59.2" marker-start="url(#k18)" marker-mid="url(#k18)" marker-end="url(#k18)"/>
<polyline points="393.8,93.3 397.2,94.8 399.9,96.0 402.7,96.4 405.0,97.3 409.2,98.4 411.2,100.1 414.2,99.1 416.3,100.3 419.4,102.2 422.3,104.0 424.0,103.5 427.3,105.6 428.6,106.6 432.4,107.4 434.2,109.4 437.2,110.6 438.8,110.4 441.8,112.8 444.7,113.8 447.4,116.0 448.8,117.7 451.6,117.8 454.6,119.7 456.2,121.5 459.4,121.8 460.6,124.0 464.4,125.1 467.9,124.5 470.3,128.7 471.2,129.8 474.2,129.8 477.7,133.5 480.7,133.6 483.5,134.4" marker-start="url(#k18)" marker-mid="url(#k18)" marker-end="url(#k18)"/>
<polyline points="395.7,109.8 397.2,109.9 400.0,112.6 401.9,115.1 404.1,115.5 407.2,118.4 408.6,120.6 410.8,122.6 413.0,123.9 414.8,125.6 417.3,128.7 419.5,129.8 422.0,132.2 424.8,135.2 425.6,135.4 429.3,136.2 432.5,139.2 432.9,141.8 434.1,142.9 437.3,144.4 440.6,146.7 442.9,149.2 445.0,148.9 448.1,150.6 449.8,149.1 452.1,153.4 453.7,154.2 457.5,154.6 461.9,158.3 462.6,160.0 465.2,159.0 468.6,159.4 471.0,162.3 473.7,161.0 476.2,162.6 478.2,161.4 480.6,163.0 485.1,165.6 487.6,163.0 489.4,164.3 492.9,163.5 495.4,163.6" marker-start="url(#k18)" marker-mid="url(#k18)" marker-end="url(#k18)"/>
<polyline points="407.7,116.3 408.0,118.8 409.3,118.9 411.9,122.1 414.3,124.9 416.3,126.2 417.9,127.7 419.5,130.8 421.4,132.8 423.0,135.4 424.6,137.4 427.4,138.6 429.0,140.7 430.7,144.6 431.1,143.1 434.1,146.5 435.8,149.0 438.1,152.4 441.6,154.3 444.8,154.8 443.5,158.8 447.8,159.1 448.6,159.8 452.8,162.4 452.9,163.3 457.6,166.4 459.3,168.9 462.6,169.6 465.6,170.1 466.3,169.4 469.5,171.8 472.8,172.6 475.5,173.3 479.0,173.4 480.8,171.7 484.4,173.2 485.9,174.3 490.0,173.8 492.7,171.8 494.6,171.3 498.8,171.3 500.1,169.9 502.8,167.9 505.2,167.2 507.0,164.0 509.7,162.9 510.8,160.7 513.8,159.2 516.7,156.9 518.9,154.4 520.8,153.1 522.6,151.9 523.8,147.6 525.8,147.2 527.7,144.7 528.2,141.6 531.8,140.5 532.6,137.9 534.5,134.3 536.9,133.0 539.0,130.9 541.8,128.6 542.1,126.1 543.1,123.0 546.8,120.9 548.5,119.3 549.1,115.9 551.4,113.6 553.4,110.8 556.3,108.2 556.8,104.9 558.3,103.5 561.6,100.1 561.1,97.4 564.6,94.8 564.7,92.8 566.4,91.1 569.5,88.6 572.6,85.7 571.8,84.2 575.6,81.1 576.8,79.9 579.0,77.8 582.8,76.2 583.2,73.8 583.4,73.1 585.3,71.1 588.9,67.2 592.1,68.2 594.7,64.9 596.2,64.2 599.2,62.8" marker-start="url(#k19)" marker-mid="url(#k19)" marker-end="url(#k19)"/>
<polyline points="598.5,55.4 602.9,52.4 604.4,51.9 607.5,50.6 609.5,48.2 614.6,46.9 615.4,46.0 618.1,45.9 620.6,44.9 623.1,44.2 626.2,43.2 629.3,43.7 631.1,43.1 636.1,45.2 636.7,46.8 639.5,46.3 642.1,49.7 644.4,50.9 646.1,54.2 648.3,55.1 650.8,57.4 653.0,59.6 654.1,61.3 654.6,64.5 657.4,66.5 659.8,67.3 661.4,69.3 663.8,72.3 665.9,75.9 667.2,77.5 670.6,78.6 672.5,82.2 674.9,83.1 676.2,87.2 679.3,87.7 680.3,91.5 681.6,91.7" marker-start="url(#k19)" marker-mid="url(#k19)" marker-end="url(#k19)"/>
<polyline points="394.1,118.1 396.2,120.0 400.2,121.7 402.0,121.3 406.5,124.4 408.6,123.2 411.1,126.4 414.3,127.8 417.8,127.9 418.1,128.7 421.2,131.7 425.0,132.5 426.3,133.6 429.7,134.4 431.2,136.3 433.7,139.0 435.6,140.8 438.3,139.7 440.8,142.2 443.7,143.8 445.6,143.1 448.5,145.9 450.1,146.9 454.2,147.7 455.7,148.9 459.0,151.5 464.1,153.6 463.9,153.1 467.2,156.7 470.2,156.4" marker-start="url(#k19)" marker-mid="url(#k19)" marker-end="url(#k19)"/>
<polyline points="441.1,179.8 443.7,179.5 445.2,180.9 446.6,182.2 449.3,183.4 452.8,185.8 454.3,187.4 458.9,188.4 460.0,188.8 463.1,189.1 464.7,189.9 469.6,189.9 470.0,190.6 475.0,189.3 477.1,190.6 480.1,190.2 482.9,187.9 485.6,189.1 487.7,187.1 489.9,186.3 492.5,185.2 494.9,182.9 497.1,182.2 498.3,179.2 500.5,176.1 505.8,175.6 505.2,172.7 508.5,170.8 512.2,168.9 512.9,166.8 513.6,164.9 517.0,161.8 517.6,161.2 520.1,157.0 521.4,155.3 523.5,153.2 525.2,152.2 527.9,149.7 527.8,146.2 531.8,144.2 532.2,140.7 535.3,138.6 536.9,136.4 538.1,133.9 539.4,132.6 542.3,129.8 543.3,125.9 545.3,123.2 547.9,121.9 548.8,118.7 551.3,116.0 552.6,115.4 554.1,111.5 558.4,108.0 557.5,108.7 559.9,105.5 563.6,102.4 563.4,101.2 565.6,98.5 567.4,95.9 569.7,95.6 571.5,92.5 574.3,90.1 576.0,88.5 579.6,86.6 580.7,84.7 582.8,82.5 584.6,82.4 587.2,80.5 590.0,78.1 592.8,79.0 595.5,76.5 598.3,76.0 601.5,75.5 604.0,75.3 607.1,75.9 609.7,76.4 612.2,77.2 615.4,78.0 617.8,77.8 620.0,78.5 623.9,79.4 627.2,80.9 630.0,81.5 630.9,83.3 634.1,85.6 635.6,86.3 637.9,88.8 640.9,89.9 642.2,91.9 644.9,93.9" marker-start="url(#k19)" marker-mid="url(#k19)" marker-end="url(#k19)"/>
<polyline points="576.7,58.3 578.7,56.6 582.5,54.6 585.1,52.6 585.6,50.2 587.4,49.6 588.8,46.2 593.2,46.2 594.3,44.3 596.6,41.6 597.0,40.8 600.3,37.0 602.1,35.6 603.8,33.7 606.2,31.8 607.1,30.5 610.5,27.2 612.9,27.1 614.9,24.8 617.0,22.0 620.9,22.4 623.7,22.2 626.2,23.1 629.2,24.6 631.5,23.9 634.4,25.4 634.6,27.2 638.3,29.2 639.5,31.5 643.5,34.2 644.5,36.3 645.9,37.2 648.5,39.2 649.8,42.3 650.7,44.4 653.3,46.0 654.1,49.6 654.6,52.2 656.7,54.5 657.9,58.0 658.7,59.7 659.5,62.1 661.3,64.3 664.4,65.8 666.1,67.1 670.2,68.7 672.1,69.2 675.6,70.5" marker-start="url(#k20)" marker-mid="url(#k20)" marker-end="url(#k20)"/>
<polyline points="657.2,100.4 659.5,102.4 661.4,102.5 664.4,106.0 667.0,108.4 668.2,108.9 670.3,111.3 673.6,112.6 676.0,114.3 677.5,117.8" marker-start="url(#k22)" marker-mid="url(#k22)" marker-end="url(#k22)"/>
<polyline points="395.2,118.4 395.7,120.3 399.6,122.4 402.2,125.1 403.7,125.7 405.7,127.6 409.0,129.4 409.3,131.9 412.8,133.0 413.7,136.0 418.0,136.0 419.9,137.8 421.0,138.7 424.9,142.5 426.4,143.4 430.2,144.4 430.3,146.5 433.9,147.6 434.7,148.6 438.6,151.0 439.5,151.0 442.8,153.2 447.9,154.3 449.1,155.0 453.7,156.2 454.1,157.6 456.3,158.9 460.0,158.3 462.3,158.0 465.1,158.1 467.9,159.7 470.5,159.8 473.1,161.1 477.6,159.9 480.1,159.5 481.7,158.7 485.2,159.1 486.5,158.0 489.8,156.3 492.9,154.5 495.4,156.2 498.8,152.6 501.6,152.1 503.2,150.3 505.7,149.0 507.9,148.5 510.9,145.5 512.3,146.0 516.2,143.5 518.4,142.4 519.4,138.2 521.7,136.9 524.1,137.3 526.5,133.5 527.7,130.7 529.5,131.4 533.8,128.1 535.4,126.2 537.8,125.2 540.3,120.6 543.1,118.6 544.3,117.0 546.9,115.1 548.2,113.2 552.1,111.9 554.3,111.1 556.2,108.6 557.6,106.2 559.8,104.8 563.6,103.3 565.2,101.5 567.4,98.7 570.2,98.0 573.7,96.4 573.5,93.6 575.7,93.0 578.1,92.6 581.0,90.8 584.1,89.2 585.9,87.6 589.1,86.4 592.3,86.0 594.6,85.2 597.9,85.1 597.9,82.8" marker-start="url(#k22)" marker-mid="url(#k22)" marker-end="url(#k22)"/>
<polyline points="394.9,103.1 398.0,106.3 398.1,108.0 401.8,108.0 406.8,109.8 407.9,112.9 412.0,112.3 413.2,113.6 417.5,114.1 417.8,117.0 421.1,117.3 424.1,118.1 424.4,119.5 429.7,122.6 431.2,122.2 434.8,124.1 436.5,123.5 438.4,126.5 440.1,127.4 445.0,128.8 445.2,128.9 448.7,131.2 450.6,133.2 454.0,134.5 456.6,134.8 458.6,136.9 462.0,139.5 464.3,139.7 468.4,141.7 468.6,142.6" marker-start="url(#k22)" marker-mid="url(#k22)" marker-end="url(#k22)"/>
<polyline points="588.1,89.7 590.7,89.4 596.0,90.3 598.3,90.1 599.9,89.5 602.8,88.4 604.6,90.0 607.3,89.7 611.4,90.5 614.0,89.4 616.8,90.7 618.5,89.9 622.3,91.0 623.4,94.2 626.5,93.5 630.2,94.8 632.1,95.3 636.3,96.7 638.4,96.5 640.7,100.0 643.3,100.0 646.9,102.6 649.6,103.2 652.2,106.1 654.8,105.0 658.4,106.5 657.6,109.1 660.7,110.5 664.1,112.4 664.7,113.2 668.4,115.4 670.8,116.7 672.8,117.2 673.5,119.4 676.5,121.5 678.4,121.8" marker-start="url(#k22)" marker-mid="url(#k22)" marker-end="url(#k22)"/>
<polyline points="481.2,197.7 484.4,195.3 486.3,194.7 487.0,192.1 491.5,190.3 493.5,186.6 494.4,185.8 496.2,183.1 497.3,180.3 500.5,178.8 501.5,176.7 504.1,174.4 505.9,172.3 507.4,169.9 508.7,167.0 509.9,164.0 512.2,162.1 515.7,159.8 516.8,156.5 518.8,155.8 520.3,151.2 521.3,149.3 523.3,147.0 525.1,142.4 528.1,140.0 530.0,139.0 530.9,135.6 534.2,132.4 536.2,129.8 536.1,127.4 538.8,125.5 541.2,122.3 542.8,119.5 544.8,116.4 545.2,114.5 549.8,112.4 549.1,110.4 550.1,106.8 553.6,104.2 554.7,102.3 556.6,99.6 558.0,96.9 559.9,96.0 563.2,93.6 563.4,93.4 565.7,90.1 568.2,87.4 571.4,86.3 574.4,84.7 575.8,83.0 577.2,82.0 580.7,80.2 583.5,77.4 584.9,77.5 588.6,77.0 591.4,75.9 595.0,76.0 597.3,76.5 600.5,76.1 602.8,76.4 605.8,78.5 607.0,77.0 611.7,78.7 612.9,79.3 616.7,81.6 619.8,82.4 621.2,85.2 621.8,84.7 625.3,86.8 627.1,88.5 629.6,90.2 631.0,93.2 634.4,95.8 637.0,97.7 639.0,98.5 639.8,101.3 642.8,103.6 643.7,105.0 645.9,106.3 648.2,109.9 650.1,112.3 651.9,112.3 653.2,114.9 654.1,118.2 657.6,120.8 658.7,124.3 660.5,124.6 661.1,127.0 664.1,129.0 666.2,132.8 667.1,135.1 669.9,136.9 671.9,139.3 673.6,143.4 675.2,143.8 676.9,147.2 678.0,148.7 680.2,152.7" marker-start="url(#k22)" marker-mid="url(#k22)" marker-end="url(#k22)"/>
<polyline points="627.6,117.3 629.4,119.5 631.2,120.0 634.4,122.6 637.1,122.5 639.5,124.2 640.8,127.5 643.5,129.3 644.9,131.5 647.5,130.7 649.4,132.9 651.5,136.0 655.4,137.6 657.0,139.1 658.7,140.1 661.7,142.0 664.0,144.2 666.8,145.9 670.2,146.3 672.9,147.4 675.7,147.7 677.0,149.4 680.5,147.7" marker-start="url(#k22)" marker-mid="url(#k22)" marker-end="url(#k22)"/>
<polyline points="504.8,189.0 508.5,187.7 509.0,185.5 511.9,185.5 513.9,182.0 516.9,180.9 517.5,178.8 520.1,177.2 522.5,174.6 525.8,174.9 526.4,170.3 527.3,169.7 528.8,167.0 532.2,165.4 533.4,164.7 536.2,161.0 538.1,159.3 539.0,157.1 542.1,155.0 543.1,154.2 545.2,151.6 546.4,151.1 549.4,145.6 551.6,144.4 551.5,142.8 555.3,141.1 556.4,138.0 558.9,137.0 559.0,135.4 562.2,133.3 564.7,131.7 566.8,129.3 567.6,128.2 570.2,125.5 573.3,123.4 574.4,121.3 576.2,117.5 580.9,117.3 581.2,114.5 584.8,111.9 587.9,109.8 590.1,107.6 592.3,107.4 594.7,104.1 597.1,103.3 599.5,100.8 604.0,100.7 605.0,97.2 606.9,96.2" marker-start="url(#k22)" marker-mid="url(#k22)" marker-end="url(#k22)"/>
<polyline points="599.8,104.9 601.7,106.4 603.0,107.5 609.2,107.7 608.7,110.1 614.2,111.1 616.4,113.6 620.0,114.4 620.3,115.4 623.0,116.7 626.1,117.6 629.9,119.2 630.1,120.9 634.3,121.9 635.7,122.7 638.3,123.8 640.7,125.1 642.7,126.6 645.7,128.2 649.0,129.9 650.2,131.0 653.7,131.6 656.9,133.0 658.8,133.8 661.2,135.1 663.2,135.9 667.8,138.2 670.0,138.9 672.1,139.5 676.0,139.8 676.1,140.7 680.1,141.3 681.5,142.4" marker-start="url(#k22)" marker-mid="url(#k22)" marker-end="url(#k22)"/>
<polyline points="553.8,105.6 558.3,103.2 558.2,100.6 560.9,98.4 563.2,96.8 566.7,93.7 568.8,91.9 572.0,88.4 573.3,88.8 575.0,85.6 577.7,83.5 579.4,81.6 582.0,79.2 584.0,79.6 586.4,77.4 589.7,77.5 590.7,76.0 592.7,73.1 597.2,72.7 599.6,72.1 602.1,71.2 604.6,69.4 606.3,69.9 609.8,69.8 614.0,68.7 616.0,69.0 618.6,67.9 622.6,68.9 624.6,69.9 627.2,70.3 630.4,70.1 633.2,71.7 635.2,72.1 637.9,73.8 639.8,73.1 643.2,76.1 645.9,77.9 649.9,79.3 652.7,79.9 654.4,80.4 654.2,82.6 657.9,83.5 658.9,85.8 662.9,86.2 664.5,87.6 667.0,89.1 668.9,91.3 672.0,93.7 673.2,94.5 676.1,96.8 679.1,98.9" marker-start="url(#k22)" marker-mid="url(#k22)" marker-end="url(#k22)"/>
<polyline points="396.3,99.7 397.7,101.0 399.4,103.4 403.4,104.3 404.0,107.0 405.8,109.1 408.7,110.8 410.4,113.1 412.6,114.1 416.2,117.3 417.3,118.5 420.1,120.6 422.5,122.9 425.8,122.6 426.7,124.5 429.2,125.4 430.3,129.2 434.1,130.6 435.5,130.8 438.3,134.2 440.8,134.8 443.9,136.3 445.4,137.7 447.4,139.9 449.8,139.4" marker-start="url(#k22)" marker-mid="url(#k22)" marker-end="url(#k22)"/>
<polyline points="595.3,117.1 597.0,118.5 600.6,116.9 600.7,121.3 603.5,124.1 606.4,124.8 608.2,126.7 609.5,129.1 612.5,129.9 613.5,132.8 615.0,134.8 616.6,136.9 618.0,139.8 618.6,142.2" marker-start="url(#k22)" marker-mid="url(#k22)" marker-end="url(#k22)"/>
<polyline points="506.8,157.9 509.7,156.1 512.4,154.2 514.3,151.1 517.1,148.5 518.1,147.4 520.4,145.4 522.1,140.9 524.4,139.5 525.2,136.6 527.2,134.0 529.1,130.9 532.2,128.7 531.7,125.9 534.3,123.3 536.6,120.7 536.9,116.6 541.1,115.2 542.9,113.0 543.3,108.8 545.9,107.9 548.7,104.8 549.3,101.2 550.6,100.3 552.6,97.0 555.8,96.6 555.7,93.2 558.0,92.0 560.4,89.2 561.3,87.6 563.6,86.0 566.5,82.2 567.9,81.0 569.6,79.1 572.1,76.5 573.9,74.0 576.7,72.8 579.7,70.0 581.3,70.7 583.0,67.4 585.6,67.4 588.0,65.7 591.2,64.3 594.3,63.8 597.0,63.6 600.2,63.1 603.1,63.2 605.1,63.8 606.9,63.6 610.4,64.2 613.5,65.2 615.8,67.6 620.7,68.9 622.2,70.4 624.5,70.7 626.6,72.1 627.1,73.3 630.5,76.0 633.0,76.1 635.6,79.6 638.5,81.6 642.0,82.8 643.5,86.4 644.3,87.9 646.1,89.8 648.1,91.5 650.3,93.1 653.0,96.6 653.4,98.7 655.0,98.8 657.8,102.7 658.9,104.9 662.7,109.0 662.4,109.3 664.0,113.4 666.4,114.2 668.7,115.1 670.3,117.2 671.8,120.4 674.2,121.3 675.9,127.2 677.0,127.9 679.2,127.9" marker-start="url(#k23)" marker-mid="url(#k23)" marker-end="url(#k23)"/>
<polyline points="394.2,131.3 397.4,134.1 398.5,137.0 400.6,138.6 402.8,140.0 404.0,144.3 404.3,145.0 407.9,147.9 409.4,150.3 410.8,152.8 413.4,155.6 415.7,156.7 418.0,157.7 418.5,158.9 421.2,163.4 422.0,163.1 425.5,165.7 426.6,169.6 429.0,170.4 432.8,172.9 433.0,175.5 434.8,176.9 438.8,177.3 440.1,178.4 444.3,180.7 444.8,182.3 448.9,183.5 451.3,185.1 453.6,185.6 456.2,185.4 458.1,187.1 461.2,187.1" marker-start="url(#k23)" marker-mid="url(#k23)" marker-end="url(#k23)"/>
<polyline points="469.8,190.7 472.8,189.3 475.1,187.9 477.5,187.2 479.1,185.8 483.2,184.8 484.6,182.7 487.6,181.0 489.5,178.9 492.9,178.1 495.1,175.5 497.4,174.3 498.8,172.0 500.9,171.5 503.2,169.0 504.7,169.3 505.8,163.8 509.2,163.5 513.0,161.8 514.0,160.0 515.9,155.8 518.1,155.3 521.6,152.5 523.0,149.9 525.3,148.9 526.9,147.3 528.8,144.7 529.9,142.5 532.2,140.2 533.5,138.5 537.3,137.4 539.6,134.5" marker-start="url(#k23)" marker-mid="url(#k23)" marker-end="url(#k23)"/>
<polyline points="577.4,110.1 580.1,109.6 582.8,106.6 586.4,106.5 588.8,104.9 590.6,105.0 592.8,101.1 597.8,101.5 598.7,99.9 600.3,100.8 605.1,99.0 607.9,97.2 610.4,98.1 611.1,97.2 616.1,96.5 617.6,96.0 620.7,96.2 623.4,96.5 626.1,95.6 630.1,96.0 632.4,95.3 635.9,95.5 637.6,96.8 639.7,97.2 643.9,99.2 645.5,98.2 647.0,100.3 650.4,99.1 654.0,101.1 657.8,103.0 660.0,101.9 661.7,103.0 665.5,104.9 668.1,103.8 670.0,107.4 672.8,107.4 677.9,108.6 679.7,111.2" marker-start="url(#k23)" marker-mid="url(#k23)" marker-end="url(#k23)"/>
<polyline points="488.6,164.7 488.1,162.2 492.0,161.2 494.1,157.8 495.1,154.5 495.5,154.2 495.8,152.0 500.0,147.8 499.5,147.5 501.2,143.6 501.7,139.7 502.3,139.1 503.2,136.0 503.5,132.0 504.1,128.9 504.0,126.7 505.4,123.0 506.8,120.2 507.2,118.4 508.8,115.5 508.9,112.6 508.2,110.6 511.7,107.5 513.6,106.1 515.3,103.3 515.2,101.1 517.1,99.1 519.2,96.8 521.1,93.7 522.4,93.3 524.4,89.0 524.6,87.4 528.1,84.4 528.5,83.5 534.4,81.9 533.6,79.2 536.2,76.4 537.0,74.8 540.1,72.7 540.5,70.4 543.1,66.9 543.8,66.1 548.2,64.3 551.1,63.7 551.5,61.9 556.6,61.2 559.4,58.6 561.6,58.2 563.5,56.4 565.5,54.3 569.1,54.6" marker-start="url(#k23)" marker-mid="url(#k23)" marker-end="url(#k23)"/>
<polyline points="600.0,96.2 603.8,95.1 605.1,96.3 608.6,98.1 610.3,99.2 612.7,100.4 614.4,100.4 618.2,102.1 621.4,101.1 622.7,103.5 627.1,106.4 629.3,107.5 630.7,107.9 633.8,107.9 636.0,109.6 639.1,111.4 640.8,111.8 642.3,113.8 646.2,114.6 649.2,115.6 650.5,116.8 653.5,118.8 655.8,119.6 657.8,121.0 660.0,122.2 664.3,124.2 666.5,125.4 669.9,126.1 672.1,127.7 674.7,129.6 676.4,131.2 678.8,131.2 681.4,132.4" marker-start="url(#k23)" marker-mid="url(#k23)" marker-end="url(#k23)"/>
<polyline points="394.1,125.5 396.0,127.7 399.9,128.6 402.4,130.9 404.7,131.5 407.1,133.3 410.5,134.7 413.0,135.2 414.8,137.1 417.8,137.8 421.6,141.1 421.6,140.3 424.5,143.5 430.1,144.0 430.4,147.4 432.8,148.7 436.3,149.4 438.8,151.6 439.6,152.2 442.7,153.9 444.7,154.7 448.2,157.0 451.7,158.7 454.2,161.0 456.5,158.7 457.8,163.1 460.3,163.7 464.6,165.4 466.5,167.8 469.0,168.5" marker-start="url(#k23)" marker-mid="url(#k23)" marker-end="url(#k23)"/>
<polyline points="543.2,113.9 544.8,110.8 546.7,107.9 549.2,106.6 550.2,104.6 551.6,100.1 554.5,98.2 555.0,97.0 558.6,94.0 559.1,93.4 560.5,90.7 563.7,87.3 565.1,85.1 566.5,83.5 568.3,80.4 571.2,79.3 573.1,77.8 576.9,76.1 576.1,72.5 578.7,71.3 580.4,69.0 584.0,67.0 586.2,66.9 587.8,65.8 591.3,64.8 594.5,62.6 596.7,62.3 599.8,60.0 603.0,60.5 605.9,60.9 607.3,60.8 611.6,60.5 612.0,61.2 616.9,63.1 619.5,61.0 621.3,63.1 624.1,63.6 626.8,64.6 631.4,66.7 632.1,67.1 635.9,70.0 638.4,71.1 639.4,71.8 641.5,73.5 644.9,75.0 646.8,77.6 648.6,79.5 651.5,80.9 653.5,82.6 655.1,83.7 658.3,87.0 660.2,88.8 662.5,89.9 664.9,92.9 666.7,94.3 669.1,97.1 670.7,99.4 674.3,101.6 675.9,104.0 677.4,105.1 680.6,106.5" marker-start="url(#k23)" marker-mid="url(#k23)" marker-end="url(#k23)"/>
<polyline points="394.5,108.0 397.3,109.2 398.2,111.4 401.7,113.9 401.9,116.0 404.8,116.3 405.1,119.8 407.3,120.5 409.1,123.5 412.1,127.2 412.9,126.9 415.6,131.0 418.1,131.3 421.6,134.1 424.2,136.9 425.1,139.5 428.5,142.0 429.9,142.7 433.6,145.7 435.0,146.1 436.3,147.5 438.6,150.1 440.7,152.5 442.0,153.0 445.7,155.5 448.9,155.6 450.9,157.1 453.3,158.2 455.9,161.7 460.1,162.7 460.5,162.6 463.3,163.5 465.5,164.4 470.4,167.2 472.6,166.3" marker-start="url(#k23)" marker-mid="url(#k23)" marker-end="url(#k23)"/>
<polyline points="394.5,135.8 395.4,139.6 398.1,140.9 400.9,141.7 403.2,144.5 404.7,147.1 406.8,149.7 407.8,151.9 411.0,154.4 412.3,156.4 415.3,157.2 417.5,159.3 419.3,161.5 420.5,163.5 423.4,165.8 425.2,168.5 426.1,171.0 429.9,173.0 431.1,174.3 433.8,176.3 434.6,180.7 435.6,182.0 437.2,184.1 438.5,185.2 441.4,187.9 442.5,190.7 446.0,190.9 449.0,192.9 450.1,194.7 453.7,196.5 454.1,198.0 457.7,199.5 459.4,200.4 460.9,202.7 464.1,203.3" marker-start="url(#k23)" marker-mid="url(#k23)" marker-end="url(#k23)"/>
<polyline points="495.4,200.8 496.9,198.0 499.9,197.1 502.2,194.4 505.5,193.1 506.6,192.0 509.3,189.8 513.5,187.8 514.9,185.4 516.4,183.5 520.1,182.5 523.4,179.5 523.3,177.0 526.4,176.7 527.6,174.6 528.7,170.3 531.6,170.7 532.7,167.6 535.0,166.4 536.4,163.3 537.3,162.0 539.9,159.2 543.2,157.6 543.7,156.0 546.7,153.1 547.4,150.6 550.2,149.7 551.4,147.5 554.5,145.0 554.6,142.6 557.6,141.3 559.1,138.2 561.0,136.9 562.6,134.2 564.7,132.5 565.9,129.8 566.8,128.4 569.9,127.2 570.5,124.2 574.2,121.7 576.0,120.6 578.5,117.8 578.2,115.8 583.2,113.0 584.6,111.9 588.7,110.7 590.0,108.9 593.5,105.8 596.5,105.1 598.0,104.2" marker-start="url(#k23)" marker-mid="url(#k23)" marker-end="url(#k23)"/>
<polyline points="457.6,229.4 459.3,232.0 462.5,232.3 465.8,232.9 469.1,232.9 470.1,231.2 473.3,231.9 476.9,230.2 479.0,228.8 481.4,226.5 481.8,225.7 484.9,223.6 484.6,221.7 487.2,217.4 488.4,216.0 489.8,214.9 492.4,212.4 492.9,207.8 495.5,206.6 497.4,204.6 498.4,202.5 500.0,199.9 503.1,198.6 502.7,194.1 506.5,192.7 507.3,190.7 509.5,188.9 510.3,186.1 511.4,184.6 515.8,182.7 516.5,182.1 519.3,178.5 520.7,176.3 520.5,174.7 523.7,171.2 525.4,169.8 527.0,166.5 528.5,165.0 530.9,162.2 531.2,160.3 534.6,157.2 535.7,156.2 537.8,154.1 538.9,151.9 541.3,147.8 542.2,146.2 543.2,143.2 543.8,141.3 547.6,139.0 549.7,135.0 550.2,133.8 552.8,129.4 551.9,127.1 554.5,124.6 557.7,120.8 558.9,118.3 562.2,116.6 562.4,113.2 562.1,110.8 564.6,110.0 566.1,107.4 569.0,104.4 568.5,101.8 572.7,100.4 573.8,96.8 575.4,96.0 576.9,93.6 578.8,89.3 581.1,87.9 584.3,87.2 585.3,84.4 587.8,84.2 588.7,80.9 592.8,79.8 594.2,78.5 597.4,75.5 599.6,74.9 603.1,74.2 604.8,72.7 607.5,70.5 608.8,70.9 613.1,69.4 614.3,68.1 619.2,68.4 621.4,66.9 625.0,67.1 627.5,66.5 630.5,66.7 632.9,67.4" marker-start="url(#k23)" marker-mid="url(#k23)" marker-end="url(#k23)"/>
<polyline points="497.1,177.3 498.6,174.3 502.8,173.5 504.5,170.1 506.5,167.9 508.8,164.7 509.6,164.0 512.7,162.3 514.5,161.4 515.7,156.8 516.6,155.4 519.3,153.7 519.8,151.7 521.9,148.4 524.7,146.1 527.5,144.6 527.2,140.4 530.9,138.8 532.3,136.1 534.6,134.1 536.1,130.5 537.8,127.2 539.0,125.3 540.4,122.5 541.3,121.6 544.5,118.0 546.8,116.4 549.3,112.8 550.3,109.9 552.5,108.1 554.5,106.3 556.2,103.7 557.5,100.0 559.5,99.9 560.8,95.9 563.4,95.5 564.0,90.3 566.1,90.1 568.3,87.8 569.9,85.6 571.5,84.4 574.8,80.7 577.8,80.1 579.3,77.6 581.4,75.1 584.7,75.3 585.6,71.7 587.9,71.7 590.1,69.4 593.2,68.0 596.9,68.3 599.1,66.1 601.5,66.9 602.5,65.8 607.9,66.8 608.9,65.8 613.1,66.8 613.7,64.8 617.9,67.4 620.5,67.8 624.3,70.2 625.6,70.6 627.5,73.1 629.6,72.4 632.2,73.9 636.2,78.1 637.7,77.9 640.3,79.4 643.1,82.1 644.7,83.7 646.5,85.3 648.5,89.0 648.9,89.5 651.8,92.0 653.9,94.3 656.0,96.4 656.3,98.8 660.3,100.9 659.9,103.1 663.5,104.5 665.0,108.5 668.0,110.0 669.0,112.1 670.1,115.7 673.0,117.5 673.7,120.5 676.7,120.9 678.5,124.5 679.8,125.3" marker-start="url(#k24)" marker-mid="url(#k24)" marker-end="url(#k24)"/>
<polyline points="393.9,129.4 396.2,131.7 397.6,132.4 401.9,136.7 402.2,138.6 403.6,141.1 406.8,142.9 408.1,144.3 411.0,148.7 411.4,150.0 414.3,152.2 415.4,154.5 416.2,157.8" marker-start="url(#k24)" marker-mid="url(#k24)" marker-end="url(#k24)"/>
<polyline points="393.7,132.3 395.9,134.2 398.0,135.9 400.9,138.7 403.4,141.9 405.9,143.4 407.5,146.1 409.0,148.1 410.7,151.7 412.9,153.2 415.8,156.6 416.2,158.9 419.8,162.0 420.3,162.6 422.1,166.6 424.6,166.0 426.3,168.2 428.7,172.6 428.8,174.7 431.4,176.9 432.9,179.8 434.1,183.5 434.5,184.6 436.9,186.3 439.7,190.2 442.2,189.8 444.7,192.1 447.1,192.4 451.6,195.0 453.2,197.8 455.0,196.7" marker-start="url(#k24)" marker-mid="url(#k24)" marker-end="url(#k24)"/>
<polyline points="634.2,79.0 636.6,80.4 638.9,79.7 641.1,82.9 644.9,85.3 646.5,86.6 646.6,88.1 650.9,89.6 652.6,92.5 656.3,95.4 657.6,95.4 661.4,97.9 661.9,99.3 664.9,103.1 667.5,105.1 669.1,107.2 670.9,109.6 673.0,110.7 673.8,113.1 675.6,114.4 677.3,118.0 678.9,118.9" marker-start="url(#k24)" marker-mid="url(#k24)" marker-end="url(#k24)"/>
<polyline points="395.1,120.0 396.4,121.4 398.1,121.3 399.5,126.3 401.3,127.3 405.7,128.5 405.2,131.0 405.9,132.4 408.2,135.4 410.9,135.3 413.5,139.6 414.5,141.4 417.0,141.9 419.1,145.0 420.5,146.3 423.7,151.0 425.7,151.5 427.2,153.2 430.1,155.2 432.1,157.3 434.4,160.2 438.7,160.5 439.2,163.1 442.1,163.8 443.6,166.4 445.1,169.0 448.8,168.5 450.7,169.2 455.0,171.4 456.0,174.0 459.9,173.6 462.2,174.5 464.3,175.3 467.5,177.0 471.6,175.0 474.6,177.7 475.6,176.8 476.9,178.0 480.2,177.4 483.5,175.2 486.9,176.0 488.6,175.3 493.4,173.8 495.1,171.5 496.3,170.4 499.4,169.2 501.5,169.4 504.3,165.0 505.3,162.5 507.7,162.1 510.6,159.0 513.5,157.6 515.2,155.3 516.7,152.3 517.2,150.7 519.8,148.6 522.1,146.7 523.1,144.8 526.1,142.2 528.3,140.5 529.8,137.7 531.7,136.2" marker-start="url(#k24)" marker-mid="url(#k24)" marker-end="url(#k24)"/>
<polyline points="556.2,34.3 558.3,31.4 558.6,28.3 561.2,27.2 565.1,26.6 567.5,24.7 571.3,24.3 573.0,24.7 575.4,24.7 579.3,27.1 581.2,27.5 582.7,28.7 585.0,30.6 588.1,32.2 590.0,34.6 592.2,37.6 592.5,37.2 594.6,39.9 596.2,41.5 599.9,44.4 602.3,46.6 603.4,47.8 603.9,51.1 606.5,51.2 606.4,53.9 608.5,57.8 612.0,59.2 612.3,62.9 613.8,64.6 615.1,66.9 617.2,69.7 617.4,71.2 618.8,72.6 620.3,76.3 621.5,77.6 623.2,81.1 624.4,83.8 625.6,84.8 628.3,86.3 630.6,91.7 632.4,92.5 635.4,94.3 638.1,94.6 638.2,97.2 639.8,98.7 643.5,101.5 646.7,102.7 648.9,103.8 651.2,105.9 654.3,106.5 656.4,108.6 658.8,111.2 661.2,111.3 663.1,112.9 666.8,114.6 668.3,116.4 671.4,117.5 675.6,119.5 676.8,119.5 679.8,121.2 681.3,120.5" marker-start="url(#k24)" marker-mid="url(#k24)" marker-end="url(#k24)"/>
<polyline points="392.6,122.2 395.3,123.5 397.2,123.8 401.0,125.0 402.1,125.9 405.8,126.8 409.6,128.9 409.9,129.5 414.9,132.8 416.1,131.4 418.0,132.8 421.9,133.6 423.2,135.0 427.9,136.5 429.3,136.5 432.2,137.6 432.2,137.7 437.7,141.3 439.0,141.0 441.3,141.8 444.1,145.3 446.4,144.4 448.3,146.1 451.3,147.5 454.5,149.3 457.8,149.4 458.8,150.0" marker-start="url(#k24)" marker-mid="url(#k24)" marker-end="url(#k24)"/>
<polyline points="432.2,163.3 434.2,165.1 435.1,165.2 437.3,169.9 440.8,172.1 442.4,173.2 444.3,173.9 446.7,176.7 448.4,178.4 451.2,181.5 454.3,181.8 456.4,183.9 457.2,186.1 460.8,187.1 463.2,188.4 467.2,189.1 469.2,189.2 471.4,189.5 475.4,191.4 477.1,190.5 479.9,188.9 482.5,188.1 484.0,187.9 487.2,186.2 488.4,184.8 492.2,182.8 495.8,181.4 497.6,179.9 499.9,177.8" marker-start="url(#k6)" marker-mid="url(#k6)" marker-end="url(#k6)"/>
<polyline points="600.0,80.8 603.1,81.0 605.8,82.2 607.6,82.8 610.6,82.3 613.0,82.5 616.4,83.7 618.6,85.1 622.2,85.2 623.0,86.2 625.9,85.9 630.3,88.5 631.7,87.1 635.6,89.4 637.5,89.0 642.2,91.0 643.5,91.9 646.8,91.3 648.9,92.3 651.3,94.0 655.5,93.5 657.7,94.7 659.6,96.7 663.4,97.7 665.7,100.2 669.5,101.0 671.7,101.9 674.9,103.2 675.6,103.9 678.9,103.9 680.7,107.4" marker-start="url(#k1)" marker-mid="url(#k1)" marker-end="url(#k1)"/>
<polyline points="448.1,109.4 451.8,109.0 453.9,106.9 457.2,106.6 461.0,107.1 463.4,106.3 466.3,109.2 468.4,106.9 472.4,108.0 473.5,108.3 476.1,110.4 478.9,110.3 481.7,112.3 485.2,114.0 487.0,115.1 489.2,116.9 492.7,117.2 493.6,119.2 496.9,119.8 498.8,121.5 502.0,124.0" marker-start="url(#k0)" marker-mid="url(#k0)" marker-end="url(#k0)"/>
<polyline points="492.0,159.4 493.4,156.8 496.1,155.4 500.0,153.6 502.4,152.4 504.8,149.3 507.3,150.2 509.7,147.1 512.5,145.8 514.1,144.4 516.4,141.0 516.9,140.8 519.3,138.4 522.6,136.4 523.6,135.3 525.2,131.4 525.9,131.1 531.1,128.9 531.8,129.1 534.6,125.8 537.0,123.2 538.3,121.9 541.6,119.9 543.5,119.0" marker-start="url(#k1)" marker-mid="url(#k1)" marker-end="url(#k1)"/>
<polyline points="530.9,175.8 531.6,172.7 533.9,170.3 536.1,170.1 539.3,167.9 541.0,163.9 545.7,162.3 546.0,162.4 549.0,159.2 552.2,157.0 553.9,154.1 556.5,152.4 557.6,150.0 558.9,148.1 562.2,145.7 563.5,143.1 566.3,140.0 566.1,139.8 567.8,137.8 571.8,134.7 574.1,132.3 576.5,132.7 579.2,129.1 581.9,126.9 583.2,126.3" marker-start="url(#k1)" marker-mid="url(#k1)" marker-end="url(#k1)"/>
<polyline points="576.9,127.0 579.4,126.8 580.0,126.9 583.8,123.6 587.6,123.0 589.3,122.8 591.8,123.9 595.8,121.5 598.1,122.3" marker-start="url(#k1)" marker-mid="url(#k1)" marker-end="url(#k1)"/>
</g>
<path d="M48.60 245.80v-3.5 M60.53 245.80v-2.0 M72.45 245.80v-2.0 M84.38 245.80v-2.0 M96.30 245.80v-3.5 M108.22 245.80v-2.0 M120.15 245.80v-2.0 M132.08 245.80v-2.0 M144.00 245.80v-3.5 M155.93 245.80v-2.0 M167.85 245.80v-2.0 M179.78 245.80v-2.0 M191.70 245.80v-3.5 M203.62 245.80v-2.0 M215.55 245.80v-2.0 M227.47 245.80v-2.0 M239.40 245.80v-3.5 M251.33 245.80v-2.0 M263.25 245.80v-2.0 M275.18 245.80v-2.0 M287.10 245.80v-3.5 M299.03 245.80v-2.0 M310.95 245.80v-2.0 M322.88 245.80v-2.0 M334.80 245.80v-3.5 M37.00 241.15h2.0 M37.00 234.30h3.5 M37.00 227.46h2.0 M37.00 220.61h2.0 M37.00 213.77h2.0 M37.00 206.92h3.5 M37.00 200.08h2.0 M37.00 193.23h2.0 M37.00 186.38h2.0 M37.00 179.54h3.5 M37.00 172.69h2.0 M37.00 165.85h2.0 M37.00 159.00h2.0 M37.00 152.16h3.5 M37.00 145.31h2.0 M37.00 138.47h2.0 M37.00 131.62h2.0 M37.00 124.78h3.5 M37.00 117.93h2.0 M37.00 111.09h2.0 M37.00 104.25h2.0 M37.00 97.40h3.5 M37.00 90.56h2.0 M37.00 83.71h2.0 M37.00 76.86h2.0 M37.00 70.02h3.5 M37.00 63.18h2.0 M37.00 56.33h2.0 M37.00 49.48h2.0 M37.00 42.64h3.5 M37.00 35.79h2.0 M37.00 28.95h2.0 M37.00 22.10h2.0 M37.00 15.26h3.5" stroke="#2a2a2a" stroke-width="0.9" fill="none"/>
<rect x="37.0" y="13.4" width="298.00" height="232.40" fill="none" stroke="#2a2a2a" stroke-width="1.25"/>
<path d="M394.60 245.10v-3.5 M394.60 12.50v3.5 M400.32 245.10v-2.0 M400.32 12.50v2.0 M406.04 245.10v-2.0 M406.04 12.50v2.0 M411.75 245.10v-2.0 M411.75 12.50v2.0 M417.47 245.10v-2.0 M417.47 12.50v2.0 M423.19 245.10v-2.0 M423.19 12.50v2.0 M428.91 245.10v-2.0 M428.91 12.50v2.0 M434.62 245.10v-2.0 M434.62 12.50v2.0 M440.34 245.10v-3.5 M440.34 12.50v3.5 M446.06 245.10v-2.0 M446.06 12.50v2.0 M451.78 245.10v-2.0 M451.78 12.50v2.0 M457.49 245.10v-2.0 M457.49 12.50v2.0 M463.21 245.10v-2.0 M463.21 12.50v2.0 M468.93 245.10v-2.0 M468.93 12.50v2.0 M474.65 245.10v-2.0 M474.65 12.50v2.0 M480.36 245.10v-2.0 M480.36 12.50v2.0 M486.08 245.10v-3.5 M486.08 12.50v3.5 M491.80 245.10v-2.0 M491.80 12.50v2.0 M497.52 245.10v-2.0 M497.52 12.50v2.0 M503.23 245.10v-2.0 M503.23 12.50v2.0 M508.95 245.10v-2.0 M508.95 12.50v2.0 M514.67 245.10v-2.0 M514.67 12.50v2.0 M520.38 245.10v-2.0 M520.38 12.50v2.0 M526.10 245.10v-2.0 M526.10 12.50v2.0 M531.82 245.10v-3.5 M531.82 12.50v3.5 M537.54 245.10v-2.0 M537.54 12.50v2.0 M543.25 245.10v-2.0 M543.25 12.50v2.0 M548.97 245.10v-2.0 M548.97 12.50v2.0 M554.69 245.10v-2.0 M554.69 12.50v2.0 M560.41 245.10v-2.0 M560.41 12.50v2.0 M566.12 245.10v-2.0 M566.12 12.50v2.0 M571.84 245.10v-2.0 M571.84 12.50v2.0 M577.56 245.10v-3.5 M577.56 12.50v3.5 M583.28 245.10v-2.0 M583.28 12.50v2.0 M589.00 245.10v-2.0 M589.00 12.50v2.0 M594.71 245.10v-2.0 M594.71 12.50v2.0 M600.43 245.10v-2.0 M600.43 12.50v2.0 M606.15 245.10v-2.0 M606.15 12.50v2.0 M611.87 245.10v-2.0 M611.87 12.50v2.0 M617.58 245.10v-2.0 M617.58 12.50v2.0 M623.30 245.10v-3.5 M623.30 12.50v3.5 M629.02 245.10v-2.0 M629.02 12.50v2.0 M634.74 245.10v-2.0 M634.74 12.50v2.0 M640.45 245.10v-2.0 M640.45 12.50v2.0 M646.17 245.10v-2.0 M646.17 12.50v2.0 M651.89 245.10v-2.0 M651.89 12.50v2.0 M657.61 245.10v-2.0 M657.61 12.50v2.0 M663.32 245.10v-2.0 M663.32 12.50v2.0 M669.04 245.10v-3.5 M669.04 12.50v3.5 M674.76 245.10v-2.0 M674.76 12.50v2.0 M680.48 245.10v-2.0 M680.48 12.50v2.0 M394.60 244.81h2.0 M681.00 244.81h-2.0 M394.60 241.43h2.0 M681.00 241.43h-2.0 M394.60 238.04h2.0 M681.00 238.04h-2.0 M394.60 234.66h2.0 M681.00 234.66h-2.0 M394.60 231.28h2.0 M681.00 231.28h-2.0 M394.60 227.89h2.0 M681.00 227.89h-2.0 M394.60 224.51h3.5 M681.00 224.51h-3.5 M394.60 221.13h2.0 M681.00 221.13h-2.0 M394.60 217.74h2.0 M681.00 217.74h-2.0 M394.60 214.36h2.0 M681.00 214.36h-2.0 M394.60 210.98h2.0 M681.00 210.98h-2.0 M394.60 207.59h2.0 M681.00 207.59h-2.0 M394.60 204.21h2.0 M681.00 204.21h-2.0 M394.60 200.83h2.0 M681.00 200.83h-2.0 M394.60 197.44h2.0 M681.00 197.44h-2.0 M394.60 194.06h2.0 M681.00 194.06h-2.0 M394.60 190.67h3.5 M681.00 190.67h-3.5 M394.60 187.29h2.0 M681.00 187.29h-2.0 M394.60 183.91h2.0 M681.00 183.91h-2.0 M394.60 180.52h2.0 M681.00 180.52h-2.0 M394.60 177.14h2.0 M681.00 177.14h-2.0 M394.60 173.76h2.0 M681.00 173.76h-2.0 M394.60 170.37h2.0 M681.00 170.37h-2.0 M394.60 166.99h2.0 M681.00 166.99h-2.0 M394.60 163.61h2.0 M681.00 163.61h-2.0 M394.60 160.22h2.0 M681.00 160.22h-2.0 M394.60 156.84h3.5 M681.00 156.84h-3.5 M394.60 153.46h2.0 M681.00 153.46h-2.0 M394.60 150.07h2.0 M681.00 150.07h-2.0 M394.60 146.69h2.0 M681.00 146.69h-2.0 M394.60 143.31h2.0 M681.00 143.31h-2.0 M394.60 139.92h2.0 M681.00 139.92h-2.0 M394.60 136.54h2.0 M681.00 136.54h-2.0 M394.60 133.16h2.0 M681.00 133.16h-2.0 M394.60 129.77h2.0 M681.00 129.77h-2.0 M394.60 126.39h2.0 M681.00 126.39h-2.0 M394.60 123.00h3.5 M681.00 123.00h-3.5 M394.60 119.62h2.0 M681.00 119.62h-2.0 M394.60 116.24h2.0 M681.00 116.24h-2.0 M394.60 112.85h2.0 M681.00 112.85h-2.0 M394.60 109.47h2.0 M681.00 109.47h-2.0 M394.60 106.09h2.0 M681.00 106.09h-2.0 M394.60 102.70h2.0 M681.00 102.70h-2.0 M394.60 99.32h2.0 M681.00 99.32h-2.0 M394.60 95.94h2.0 M681.00 95.94h-2.0 M394.60 92.55h2.0 M681.00 92.55h-2.0 M394.60 89.17h3.5 M681.00 89.17h-3.5 M394.60 85.79h2.0 M681.00 85.79h-2.0 M394.60 82.40h2.0 M681.00 82.40h-2.0 M394.60 79.02h2.0 M681.00 79.02h-2.0 M394.60 75.64h2.0 M681.00 75.64h-2.0 M394.60 72.25h2.0 M681.00 72.25h-2.0 M394.60 68.87h2.0 M681.00 68.87h-2.0 M394.60 65.49h2.0 M681.00 65.49h-2.0 M394.60 62.10h2.0 M681.00 62.10h-2.0 M394.60 58.72h2.0 M681.00 58.72h-2.0 M394.60 55.33h3.5 M681.00 55.33h-3.5 M394.60 51.95h2.0 M681.00 51.95h-2.0 M394.60 48.57h2.0 M681.00 48.57h-2.0 M394.60 45.18h2.0 M681.00 45.18h-2.0 M394.60 41.80h2.0 M681.00 41.80h-2.0 M394.60 38.42h2.0 M681.00 38.42h-2.0 M394.60 35.03h2.0 M681.00 35.03h-2.0 M394.60 31.65h2.0 M681.00 31.65h-2.0 M394.60 28.27h2.0 M681.00 28.27h-2.0 M394.60 24.88h2.0 M681.00 24.88h-2.0 M394.60 21.50h3.5 M681.00 21.50h-3.5 M394.60 18.12h2.0 M681.00 18.12h-2.0 M394.60 14.73h2.0 M681.00 14.73h-2.0" stroke="#2a2a2a" stroke-width="0.9" fill="none"/>
<rect x="394.6" y="12.5" width="286.40" height="232.60" fill="none" stroke="#2a2a2a" stroke-width="1.25"/>
<rect x="699.5" y="12.5" width="11.40" height="232.50" fill="url(#cg)"/>
<rect x="699.5" y="12.5" width="11.40" height="232.50" fill="none" stroke="#2a2a2a" stroke-width="1.0"/>
<path d="M710.90 242.30h3.6 M710.90 195.88h3.6 M710.90 149.46h3.6 M710.90 103.04h3.6 M710.90 56.62h3.6" stroke="#2a2a2a" stroke-width="0.9" fill="none"/>
<g opacity="0.999">
<text x="33.00" y="238.60" font-size="13.6" text-anchor="end" fill="#111" textLength="16.9" lengthAdjust="spacingAndGlyphs" >0.0</text>
<text x="33.00" y="211.22" font-size="13.6" text-anchor="end" fill="#111" textLength="16.9" lengthAdjust="spacingAndGlyphs" >0.2</text>
<text x="33.00" y="183.84" font-size="13.6" text-anchor="end" fill="#111" textLength="16.9" lengthAdjust="spacingAndGlyphs" >0.4</text>
<text x="33.00" y="156.46" font-size="13.6" text-anchor="end" fill="#111" textLength="16.9" lengthAdjust="spacingAndGlyphs" >0.6</text>
<text x="33.00" y="129.08" font-size="13.6" text-anchor="end" fill="#111" textLength="16.9" lengthAdjust="spacingAndGlyphs" >0.8</text>
<text x="33.00" y="101.70" font-size="13.6" text-anchor="end" fill="#111" textLength="16.9" lengthAdjust="spacingAndGlyphs" >1.0</text>
<text x="33.00" y="74.32" font-size="13.6" text-anchor="end" fill="#111" textLength="16.9" lengthAdjust="spacingAndGlyphs" >1.2</text>
<text x="33.00" y="46.94" font-size="13.6" text-anchor="end" fill="#111" textLength="16.9" lengthAdjust="spacingAndGlyphs" >1.4</text>
<text x="33.00" y="19.56" font-size="13.6" text-anchor="end" fill="#111" textLength="16.9" lengthAdjust="spacingAndGlyphs" >1.6</text>
<text x="48.60" y="259.00" font-size="13.8" text-anchor="middle" fill="#111" >8</text>
<text x="96.30" y="259.00" font-size="13.8" text-anchor="middle" fill="#111" textLength="12.2" lengthAdjust="spacingAndGlyphs" >10</text>
<text x="144.00" y="259.00" font-size="13.8" text-anchor="middle" fill="#111" textLength="12.2" lengthAdjust="spacingAndGlyphs" >12</text>
<text x="191.70" y="259.00" font-size="13.8" text-anchor="middle" fill="#111" textLength="12.2" lengthAdjust="spacingAndGlyphs" >14</text>
<text x="239.40" y="259.00" font-size="13.8" text-anchor="middle" fill="#111" textLength="12.2" lengthAdjust="spacingAndGlyphs" >16</text>
<text x="287.10" y="259.00" font-size="13.8" text-anchor="middle" fill="#111" textLength="12.2" lengthAdjust="spacingAndGlyphs" >18</text>
<text x="334.80" y="259.00" font-size="13.8" text-anchor="middle" fill="#111" textLength="12.2" lengthAdjust="spacingAndGlyphs" >20</text>
<text x="389.90" y="229.01" font-size="13.6" text-anchor="end" fill="#111" textLength="28.3" lengthAdjust="spacingAndGlyphs" >0.985</text>
<text x="389.90" y="195.17" font-size="13.6" text-anchor="end" fill="#111" textLength="28.3" lengthAdjust="spacingAndGlyphs" >0.990</text>
<text x="389.90" y="161.34" font-size="13.6" text-anchor="end" fill="#111" textLength="28.3" lengthAdjust="spacingAndGlyphs" >0.995</text>
<text x="389.90" y="127.50" font-size="13.6" text-anchor="end" fill="#111" textLength="28.3" lengthAdjust="spacingAndGlyphs" >1.000</text>
<text x="389.90" y="93.67" font-size="13.6" text-anchor="end" fill="#111" textLength="28.3" lengthAdjust="spacingAndGlyphs" >1.005</text>
<text x="389.90" y="59.83" font-size="13.6" text-anchor="end" fill="#111" textLength="28.3" lengthAdjust="spacingAndGlyphs" >1.010</text>
<text x="389.90" y="26.00" font-size="13.6" text-anchor="end" fill="#111" textLength="28.3" lengthAdjust="spacingAndGlyphs" >1.015</text>
<text x="394.60" y="259.00" font-size="13.8" text-anchor="middle" fill="#111" >0</text>
<text x="440.34" y="259.00" font-size="13.8" text-anchor="middle" fill="#111" >2</text>
<text x="486.08" y="259.00" font-size="13.8" text-anchor="middle" fill="#111" >4</text>
<text x="531.82" y="259.00" font-size="13.8" text-anchor="middle" fill="#111" >6</text>
<text x="577.56" y="259.00" font-size="13.8" text-anchor="middle" fill="#111" >8</text>
<text x="623.30" y="259.00" font-size="13.8" text-anchor="middle" fill="#111" textLength="12.2" lengthAdjust="spacingAndGlyphs" >10</text>
<text x="669.04" y="259.00" font-size="13.8" text-anchor="middle" fill="#111" textLength="12.2" lengthAdjust="spacingAndGlyphs" >12</text>
<text x="718.30" y="246.80" font-size="13" text-anchor="start" fill="#111" textLength="23.6" lengthAdjust="spacingAndGlyphs" >1400</text>
<text x="718.30" y="200.38" font-size="13" text-anchor="start" fill="#111" textLength="23.6" lengthAdjust="spacingAndGlyphs" >1600</text>
<text x="718.30" y="153.96" font-size="13" text-anchor="start" fill="#111" textLength="23.6" lengthAdjust="spacingAndGlyphs" >1800</text>
<text x="718.30" y="107.54" font-size="13" text-anchor="start" fill="#111" textLength="23.6" lengthAdjust="spacingAndGlyphs" >2000</text>
<text x="718.30" y="61.12" font-size="13" text-anchor="start" fill="#111" textLength="23.6" lengthAdjust="spacingAndGlyphs" >2200</text>
<text x="185.60" y="274.90" font-size="13" text-anchor="middle" fill="#111" textLength="122.5" lengthAdjust="spacingAndGlyphs" >Rotation Period [days]</text>
<text x="537.50" y="275.10" font-size="13" text-anchor="middle" fill="#111" textLength="67.0" lengthAdjust="spacingAndGlyphs" >Phase [days]</text>
<g transform="translate(9.9,130.3) rotate(-90)"><text x="0" y="0" font-size="13" text-anchor="middle" fill="#111" textLength="35.3" lengthAdjust="spacingAndGlyphs">Power</text></g>
<g transform="translate(356.0,132.3) rotate(-90)"><text x="0" y="0" font-size="13" text-anchor="middle" fill="#111" textLength="98.5" lengthAdjust="spacingAndGlyphs">Normalized Flux</text></g>
<g transform="translate(756.2,129.8) rotate(-90)"><text x="0" y="0" font-size="13" text-anchor="middle" fill="#111" textLength="81" lengthAdjust="spacingAndGlyphs">BJD - 2457000</text></g>
<path d="M37.7 5.3L42.9 10.3M42.9 5.3L37.7 10.3" stroke="#111" stroke-width="0.85" fill="none"/>
<text x="45.80" y="11.10" font-size="12.5" text-anchor="start" fill="#111" textLength="11.0" lengthAdjust="spacingAndGlyphs" >10</text>
<path d="M58.9 4.8h4.7" stroke="#111" stroke-width="0.8"/>
<text x="63.90" y="6.60" font-size="8.0" text-anchor="start" fill="#111" >5</text>
<text x="594.00" y="238.00" font-size="13" text-anchor="start" fill="#111" font-style="italic">P</text>
<text x="602.20" y="239.60" font-size="9.5" text-anchor="start" fill="#111" textLength="11.0" lengthAdjust="spacingAndGlyphs" font-style="italic">rot</text>
<text x="617.30" y="238.80" font-size="13" text-anchor="start" fill="#111" textLength="9.2" lengthAdjust="spacingAndGlyphs" >=</text>
<text x="631.50" y="238.00" font-size="13" text-anchor="start" fill="#111" textLength="33.6" lengthAdjust="spacingAndGlyphs" >12.504</text>
</g>
<rect x="192.0" y="20.0" width="136.3" height="79.0" rx="2.5" fill="#fff" fill-opacity="0.8" stroke="#d4d4d4" stroke-width="1"/>
<path d="M196.0 30.4H222.8" stroke="#b5b5b5" stroke-width="1.6"/>
<g opacity="0.999">
<text x="232.90" y="34.50" font-size="13" text-anchor="start" fill="#111" textLength="35.4" lengthAdjust="spacingAndGlyphs" >WASP</text>
</g>
<path d="M196.0 49.4H222.8" stroke="#ff00ff" stroke-width="1.6"/>
<g opacity="0.999">
<text x="232.90" y="54.00" font-size="13" text-anchor="start" fill="#111" textLength="71.3" lengthAdjust="spacingAndGlyphs" >TESS Year 1</text>
</g>
<path d="M196.0 68.3H222.8" stroke="#00ffff" stroke-width="1.6"/>
<g opacity="0.999">
<text x="232.90" y="73.20" font-size="13" text-anchor="start" fill="#111" textLength="70.8" lengthAdjust="spacingAndGlyphs" >TESS Year 3</text>
</g>
<path d="M196.0 87.2H222.8" stroke="#2b2b93" stroke-width="1.6"/>
<g opacity="0.999">
<text x="232.90" y="91.80" font-size="13" text-anchor="start" fill="#111" textLength="90.2" lengthAdjust="spacingAndGlyphs" >Combined TESS</text>
</g>
</svg>
</body></html>
